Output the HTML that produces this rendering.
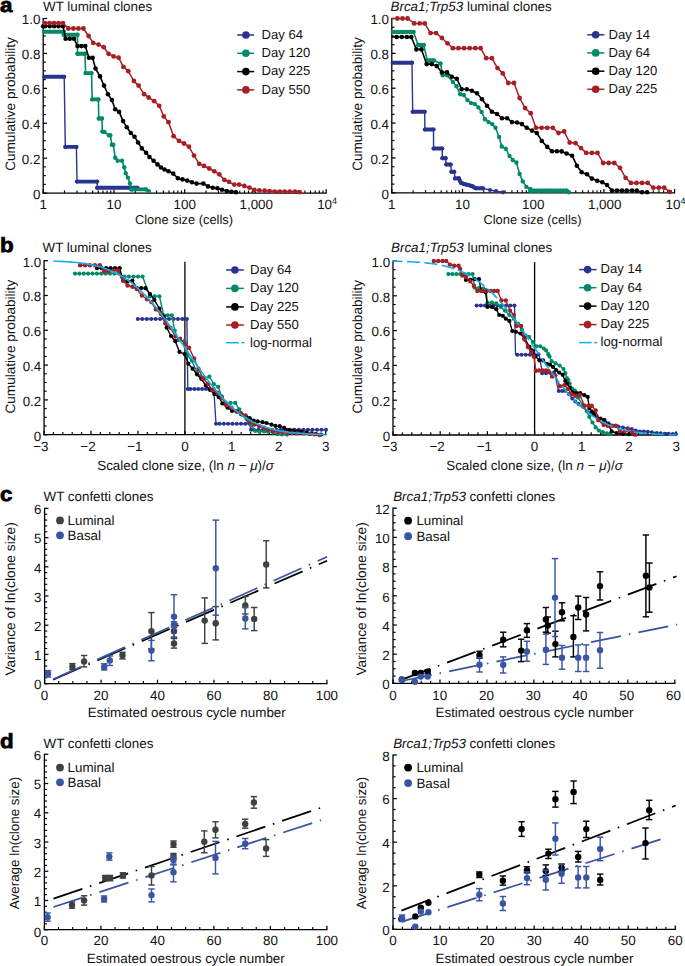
<!DOCTYPE html>
<html><head><meta charset="utf-8"><style>
html,body{margin:0;padding:0;background:#fff;}
svg{display:block;}
text{font-family:"Liberation Sans", sans-serif;text-rendering:geometricPrecision;}
</style></head><body>
<svg width="685" height="966" viewBox="0 0 685 966">
<rect width="685" height="966" fill="#fff"/>
<line x1="42.6" y1="193.1" x2="326.8" y2="193.1" stroke="#000" stroke-width="1.3" stroke-linecap="butt" />
<line x1="43.2" y1="193.1" x2="43.2" y2="189.25" stroke="#000" stroke-width="1.25" stroke-linecap="butt" />
<line x1="113.95" y1="193.1" x2="113.95" y2="189.25" stroke="#000" stroke-width="1.25" stroke-linecap="butt" />
<line x1="184.7" y1="193.1" x2="184.7" y2="189.25" stroke="#000" stroke-width="1.25" stroke-linecap="butt" />
<line x1="255.45" y1="193.1" x2="255.45" y2="189.25" stroke="#000" stroke-width="1.25" stroke-linecap="butt" />
<line x1="326.2" y1="193.1" x2="326.2" y2="189.25" stroke="#000" stroke-width="1.25" stroke-linecap="butt" />
<line x1="64.5" y1="193.1" x2="64.5" y2="190.45" stroke="#000" stroke-width="1.15" stroke-linecap="butt" />
<line x1="76.96" y1="193.1" x2="76.96" y2="190.45" stroke="#000" stroke-width="1.15" stroke-linecap="butt" />
<line x1="85.8" y1="193.1" x2="85.8" y2="190.45" stroke="#000" stroke-width="1.15" stroke-linecap="butt" />
<line x1="92.65" y1="193.1" x2="92.65" y2="190.45" stroke="#000" stroke-width="1.15" stroke-linecap="butt" />
<line x1="98.25" y1="193.1" x2="98.25" y2="190.45" stroke="#000" stroke-width="1.15" stroke-linecap="butt" />
<line x1="102.99" y1="193.1" x2="102.99" y2="190.45" stroke="#000" stroke-width="1.15" stroke-linecap="butt" />
<line x1="107.09" y1="193.1" x2="107.09" y2="190.45" stroke="#000" stroke-width="1.15" stroke-linecap="butt" />
<line x1="110.71" y1="193.1" x2="110.71" y2="190.45" stroke="#000" stroke-width="1.15" stroke-linecap="butt" />
<line x1="135.25" y1="193.1" x2="135.25" y2="190.45" stroke="#000" stroke-width="1.15" stroke-linecap="butt" />
<line x1="147.71" y1="193.1" x2="147.71" y2="190.45" stroke="#000" stroke-width="1.15" stroke-linecap="butt" />
<line x1="156.55" y1="193.1" x2="156.55" y2="190.45" stroke="#000" stroke-width="1.15" stroke-linecap="butt" />
<line x1="163.4" y1="193.1" x2="163.4" y2="190.45" stroke="#000" stroke-width="1.15" stroke-linecap="butt" />
<line x1="169" y1="193.1" x2="169" y2="190.45" stroke="#000" stroke-width="1.15" stroke-linecap="butt" />
<line x1="173.74" y1="193.1" x2="173.74" y2="190.45" stroke="#000" stroke-width="1.15" stroke-linecap="butt" />
<line x1="177.84" y1="193.1" x2="177.84" y2="190.45" stroke="#000" stroke-width="1.15" stroke-linecap="butt" />
<line x1="181.46" y1="193.1" x2="181.46" y2="190.45" stroke="#000" stroke-width="1.15" stroke-linecap="butt" />
<line x1="206" y1="193.1" x2="206" y2="190.45" stroke="#000" stroke-width="1.15" stroke-linecap="butt" />
<line x1="218.46" y1="193.1" x2="218.46" y2="190.45" stroke="#000" stroke-width="1.15" stroke-linecap="butt" />
<line x1="227.3" y1="193.1" x2="227.3" y2="190.45" stroke="#000" stroke-width="1.15" stroke-linecap="butt" />
<line x1="234.15" y1="193.1" x2="234.15" y2="190.45" stroke="#000" stroke-width="1.15" stroke-linecap="butt" />
<line x1="239.75" y1="193.1" x2="239.75" y2="190.45" stroke="#000" stroke-width="1.15" stroke-linecap="butt" />
<line x1="244.49" y1="193.1" x2="244.49" y2="190.45" stroke="#000" stroke-width="1.15" stroke-linecap="butt" />
<line x1="248.59" y1="193.1" x2="248.59" y2="190.45" stroke="#000" stroke-width="1.15" stroke-linecap="butt" />
<line x1="252.21" y1="193.1" x2="252.21" y2="190.45" stroke="#000" stroke-width="1.15" stroke-linecap="butt" />
<line x1="276.75" y1="193.1" x2="276.75" y2="190.45" stroke="#000" stroke-width="1.15" stroke-linecap="butt" />
<line x1="289.21" y1="193.1" x2="289.21" y2="190.45" stroke="#000" stroke-width="1.15" stroke-linecap="butt" />
<line x1="298.05" y1="193.1" x2="298.05" y2="190.45" stroke="#000" stroke-width="1.15" stroke-linecap="butt" />
<line x1="304.9" y1="193.1" x2="304.9" y2="190.45" stroke="#000" stroke-width="1.15" stroke-linecap="butt" />
<line x1="310.5" y1="193.1" x2="310.5" y2="190.45" stroke="#000" stroke-width="1.15" stroke-linecap="butt" />
<line x1="315.24" y1="193.1" x2="315.24" y2="190.45" stroke="#000" stroke-width="1.15" stroke-linecap="butt" />
<line x1="319.34" y1="193.1" x2="319.34" y2="190.45" stroke="#000" stroke-width="1.15" stroke-linecap="butt" />
<line x1="322.96" y1="193.1" x2="322.96" y2="190.45" stroke="#000" stroke-width="1.15" stroke-linecap="butt" />
<text x="43.2" y="209.1" font-size="13.4" text-anchor="middle" fill="#111">1</text>
<text x="113.95" y="209.1" font-size="13.4" text-anchor="middle" fill="#111">10</text>
<text x="184.7" y="209.1" font-size="13.4" text-anchor="middle" fill="#111">100</text>
<text x="256.25" y="209.1" font-size="13.4" text-anchor="middle" fill="#111">1,000</text>
<text x="327.1" y="209.1" font-size="13.4" text-anchor="middle" fill="#111">10<tspan font-size="9" dy="-5">4</tspan></text>
<line x1="43.2" y1="17.9" x2="43.2" y2="193.7" stroke="#000" stroke-width="1.3" stroke-linecap="butt" />
<line x1="43.2" y1="193.1" x2="47.05" y2="193.1" stroke="#000" stroke-width="1.25" stroke-linecap="butt" />
<line x1="43.2" y1="158.18" x2="47.05" y2="158.18" stroke="#000" stroke-width="1.25" stroke-linecap="butt" />
<line x1="43.2" y1="123.26" x2="47.05" y2="123.26" stroke="#000" stroke-width="1.25" stroke-linecap="butt" />
<line x1="43.2" y1="88.34" x2="47.05" y2="88.34" stroke="#000" stroke-width="1.25" stroke-linecap="butt" />
<line x1="43.2" y1="53.42" x2="47.05" y2="53.42" stroke="#000" stroke-width="1.25" stroke-linecap="butt" />
<line x1="43.2" y1="18.5" x2="47.05" y2="18.5" stroke="#000" stroke-width="1.25" stroke-linecap="butt" />
<line x1="43.2" y1="184.37" x2="45.85" y2="184.37" stroke="#000" stroke-width="1.15" stroke-linecap="butt" />
<line x1="43.2" y1="175.64" x2="45.85" y2="175.64" stroke="#000" stroke-width="1.15" stroke-linecap="butt" />
<line x1="43.2" y1="166.91" x2="45.85" y2="166.91" stroke="#000" stroke-width="1.15" stroke-linecap="butt" />
<line x1="43.2" y1="149.45" x2="45.85" y2="149.45" stroke="#000" stroke-width="1.15" stroke-linecap="butt" />
<line x1="43.2" y1="140.72" x2="45.85" y2="140.72" stroke="#000" stroke-width="1.15" stroke-linecap="butt" />
<line x1="43.2" y1="131.99" x2="45.85" y2="131.99" stroke="#000" stroke-width="1.15" stroke-linecap="butt" />
<line x1="43.2" y1="114.53" x2="45.85" y2="114.53" stroke="#000" stroke-width="1.15" stroke-linecap="butt" />
<line x1="43.2" y1="105.8" x2="45.85" y2="105.8" stroke="#000" stroke-width="1.15" stroke-linecap="butt" />
<line x1="43.2" y1="97.07" x2="45.85" y2="97.07" stroke="#000" stroke-width="1.15" stroke-linecap="butt" />
<line x1="43.2" y1="79.61" x2="45.85" y2="79.61" stroke="#000" stroke-width="1.15" stroke-linecap="butt" />
<line x1="43.2" y1="70.88" x2="45.85" y2="70.88" stroke="#000" stroke-width="1.15" stroke-linecap="butt" />
<line x1="43.2" y1="62.15" x2="45.85" y2="62.15" stroke="#000" stroke-width="1.15" stroke-linecap="butt" />
<line x1="43.2" y1="44.69" x2="45.85" y2="44.69" stroke="#000" stroke-width="1.15" stroke-linecap="butt" />
<line x1="43.2" y1="35.96" x2="45.85" y2="35.96" stroke="#000" stroke-width="1.15" stroke-linecap="butt" />
<line x1="43.2" y1="27.23" x2="45.85" y2="27.23" stroke="#000" stroke-width="1.15" stroke-linecap="butt" />
<text x="40.4" y="198.9" font-size="13.4" text-anchor="end" fill="#111">0</text>
<text x="40.4" y="163.98" font-size="13.4" text-anchor="end" fill="#111">0.2</text>
<text x="40.4" y="129.06" font-size="13.4" text-anchor="end" fill="#111">0.4</text>
<text x="40.4" y="94.14" font-size="13.4" text-anchor="end" fill="#111">0.6</text>
<text x="40.4" y="59.22" font-size="13.4" text-anchor="end" fill="#111">0.8</text>
<text x="40.4" y="24.3" font-size="13.4" text-anchor="end" fill="#111">1.0</text>
<line x1="391.2" y1="192.8" x2="675.2" y2="192.8" stroke="#000" stroke-width="1.3" stroke-linecap="butt" />
<line x1="391.8" y1="192.8" x2="391.8" y2="188.95" stroke="#000" stroke-width="1.25" stroke-linecap="butt" />
<line x1="462.5" y1="192.8" x2="462.5" y2="188.95" stroke="#000" stroke-width="1.25" stroke-linecap="butt" />
<line x1="533.2" y1="192.8" x2="533.2" y2="188.95" stroke="#000" stroke-width="1.25" stroke-linecap="butt" />
<line x1="603.9" y1="192.8" x2="603.9" y2="188.95" stroke="#000" stroke-width="1.25" stroke-linecap="butt" />
<line x1="674.6" y1="192.8" x2="674.6" y2="188.95" stroke="#000" stroke-width="1.25" stroke-linecap="butt" />
<line x1="413.08" y1="192.8" x2="413.08" y2="190.15" stroke="#000" stroke-width="1.15" stroke-linecap="butt" />
<line x1="425.53" y1="192.8" x2="425.53" y2="190.15" stroke="#000" stroke-width="1.15" stroke-linecap="butt" />
<line x1="434.37" y1="192.8" x2="434.37" y2="190.15" stroke="#000" stroke-width="1.15" stroke-linecap="butt" />
<line x1="441.22" y1="192.8" x2="441.22" y2="190.15" stroke="#000" stroke-width="1.15" stroke-linecap="butt" />
<line x1="446.82" y1="192.8" x2="446.82" y2="190.15" stroke="#000" stroke-width="1.15" stroke-linecap="butt" />
<line x1="451.55" y1="192.8" x2="451.55" y2="190.15" stroke="#000" stroke-width="1.15" stroke-linecap="butt" />
<line x1="455.65" y1="192.8" x2="455.65" y2="190.15" stroke="#000" stroke-width="1.15" stroke-linecap="butt" />
<line x1="459.26" y1="192.8" x2="459.26" y2="190.15" stroke="#000" stroke-width="1.15" stroke-linecap="butt" />
<line x1="483.78" y1="192.8" x2="483.78" y2="190.15" stroke="#000" stroke-width="1.15" stroke-linecap="butt" />
<line x1="496.23" y1="192.8" x2="496.23" y2="190.15" stroke="#000" stroke-width="1.15" stroke-linecap="butt" />
<line x1="505.07" y1="192.8" x2="505.07" y2="190.15" stroke="#000" stroke-width="1.15" stroke-linecap="butt" />
<line x1="511.92" y1="192.8" x2="511.92" y2="190.15" stroke="#000" stroke-width="1.15" stroke-linecap="butt" />
<line x1="517.52" y1="192.8" x2="517.52" y2="190.15" stroke="#000" stroke-width="1.15" stroke-linecap="butt" />
<line x1="522.25" y1="192.8" x2="522.25" y2="190.15" stroke="#000" stroke-width="1.15" stroke-linecap="butt" />
<line x1="526.35" y1="192.8" x2="526.35" y2="190.15" stroke="#000" stroke-width="1.15" stroke-linecap="butt" />
<line x1="529.96" y1="192.8" x2="529.96" y2="190.15" stroke="#000" stroke-width="1.15" stroke-linecap="butt" />
<line x1="554.48" y1="192.8" x2="554.48" y2="190.15" stroke="#000" stroke-width="1.15" stroke-linecap="butt" />
<line x1="566.93" y1="192.8" x2="566.93" y2="190.15" stroke="#000" stroke-width="1.15" stroke-linecap="butt" />
<line x1="575.77" y1="192.8" x2="575.77" y2="190.15" stroke="#000" stroke-width="1.15" stroke-linecap="butt" />
<line x1="582.62" y1="192.8" x2="582.62" y2="190.15" stroke="#000" stroke-width="1.15" stroke-linecap="butt" />
<line x1="588.22" y1="192.8" x2="588.22" y2="190.15" stroke="#000" stroke-width="1.15" stroke-linecap="butt" />
<line x1="592.95" y1="192.8" x2="592.95" y2="190.15" stroke="#000" stroke-width="1.15" stroke-linecap="butt" />
<line x1="597.05" y1="192.8" x2="597.05" y2="190.15" stroke="#000" stroke-width="1.15" stroke-linecap="butt" />
<line x1="600.66" y1="192.8" x2="600.66" y2="190.15" stroke="#000" stroke-width="1.15" stroke-linecap="butt" />
<line x1="625.18" y1="192.8" x2="625.18" y2="190.15" stroke="#000" stroke-width="1.15" stroke-linecap="butt" />
<line x1="637.63" y1="192.8" x2="637.63" y2="190.15" stroke="#000" stroke-width="1.15" stroke-linecap="butt" />
<line x1="646.47" y1="192.8" x2="646.47" y2="190.15" stroke="#000" stroke-width="1.15" stroke-linecap="butt" />
<line x1="653.32" y1="192.8" x2="653.32" y2="190.15" stroke="#000" stroke-width="1.15" stroke-linecap="butt" />
<line x1="658.92" y1="192.8" x2="658.92" y2="190.15" stroke="#000" stroke-width="1.15" stroke-linecap="butt" />
<line x1="663.65" y1="192.8" x2="663.65" y2="190.15" stroke="#000" stroke-width="1.15" stroke-linecap="butt" />
<line x1="667.75" y1="192.8" x2="667.75" y2="190.15" stroke="#000" stroke-width="1.15" stroke-linecap="butt" />
<line x1="671.36" y1="192.8" x2="671.36" y2="190.15" stroke="#000" stroke-width="1.15" stroke-linecap="butt" />
<text x="391.8" y="208.8" font-size="13.4" text-anchor="middle" fill="#111">1</text>
<text x="462.5" y="208.8" font-size="13.4" text-anchor="middle" fill="#111">10</text>
<text x="533.2" y="208.8" font-size="13.4" text-anchor="middle" fill="#111">100</text>
<text x="604.7" y="208.8" font-size="13.4" text-anchor="middle" fill="#111">1,000</text>
<text x="675.5" y="208.8" font-size="13.4" text-anchor="middle" fill="#111">10<tspan font-size="9" dy="-5">4</tspan></text>
<line x1="391.8" y1="17.9" x2="391.8" y2="193.4" stroke="#000" stroke-width="1.3" stroke-linecap="butt" />
<line x1="391.8" y1="192.8" x2="395.65" y2="192.8" stroke="#000" stroke-width="1.25" stroke-linecap="butt" />
<line x1="391.8" y1="157.94" x2="395.65" y2="157.94" stroke="#000" stroke-width="1.25" stroke-linecap="butt" />
<line x1="391.8" y1="123.08" x2="395.65" y2="123.08" stroke="#000" stroke-width="1.25" stroke-linecap="butt" />
<line x1="391.8" y1="88.22" x2="395.65" y2="88.22" stroke="#000" stroke-width="1.25" stroke-linecap="butt" />
<line x1="391.8" y1="53.36" x2="395.65" y2="53.36" stroke="#000" stroke-width="1.25" stroke-linecap="butt" />
<line x1="391.8" y1="18.5" x2="395.65" y2="18.5" stroke="#000" stroke-width="1.25" stroke-linecap="butt" />
<line x1="391.8" y1="184.09" x2="394.45" y2="184.09" stroke="#000" stroke-width="1.15" stroke-linecap="butt" />
<line x1="391.8" y1="175.37" x2="394.45" y2="175.37" stroke="#000" stroke-width="1.15" stroke-linecap="butt" />
<line x1="391.8" y1="166.66" x2="394.45" y2="166.66" stroke="#000" stroke-width="1.15" stroke-linecap="butt" />
<line x1="391.8" y1="149.23" x2="394.45" y2="149.23" stroke="#000" stroke-width="1.15" stroke-linecap="butt" />
<line x1="391.8" y1="140.51" x2="394.45" y2="140.51" stroke="#000" stroke-width="1.15" stroke-linecap="butt" />
<line x1="391.8" y1="131.8" x2="394.45" y2="131.8" stroke="#000" stroke-width="1.15" stroke-linecap="butt" />
<line x1="391.8" y1="114.37" x2="394.45" y2="114.37" stroke="#000" stroke-width="1.15" stroke-linecap="butt" />
<line x1="391.8" y1="105.65" x2="394.45" y2="105.65" stroke="#000" stroke-width="1.15" stroke-linecap="butt" />
<line x1="391.8" y1="96.94" x2="394.45" y2="96.94" stroke="#000" stroke-width="1.15" stroke-linecap="butt" />
<line x1="391.8" y1="79.5" x2="394.45" y2="79.5" stroke="#000" stroke-width="1.15" stroke-linecap="butt" />
<line x1="391.8" y1="70.79" x2="394.45" y2="70.79" stroke="#000" stroke-width="1.15" stroke-linecap="butt" />
<line x1="391.8" y1="62.07" x2="394.45" y2="62.07" stroke="#000" stroke-width="1.15" stroke-linecap="butt" />
<line x1="391.8" y1="44.64" x2="394.45" y2="44.64" stroke="#000" stroke-width="1.15" stroke-linecap="butt" />
<line x1="391.8" y1="35.93" x2="394.45" y2="35.93" stroke="#000" stroke-width="1.15" stroke-linecap="butt" />
<line x1="391.8" y1="27.21" x2="394.45" y2="27.21" stroke="#000" stroke-width="1.15" stroke-linecap="butt" />
<text x="389" y="198.6" font-size="13.4" text-anchor="end" fill="#111">0</text>
<text x="389" y="163.74" font-size="13.4" text-anchor="end" fill="#111">0.2</text>
<text x="389" y="128.88" font-size="13.4" text-anchor="end" fill="#111">0.4</text>
<text x="389" y="94.02" font-size="13.4" text-anchor="end" fill="#111">0.6</text>
<text x="389" y="59.16" font-size="13.4" text-anchor="end" fill="#111">0.8</text>
<text x="389" y="24.3" font-size="13.4" text-anchor="end" fill="#111">1.0</text>
<text transform="translate(0 11.6) scale(1.09 1)" x="0" y="0" font-size="20.5" font-weight="bold" stroke="#000" stroke-width="0.75" fill="#000">a</text>
<text x="43" y="11" font-size="13.4" fill="#111">WT luminal clones</text>
<text x="390.5" y="11" font-size="13.4" fill="#111"><tspan font-style="italic">Brca1;Trp53</tspan> luminal clones</text>
<text x="184" y="224" font-size="12.9" text-anchor="middle" fill="#111">Clone size (cells)</text>
<text x="532.5" y="224" font-size="12.9" text-anchor="middle" fill="#111">Clone size (cells)</text>
<text x="14.8" y="104" font-size="13.6" text-anchor="middle" transform="rotate(-90 14.8 104)" fill="#111">Cumulative probability</text>
<text x="362.2" y="104" font-size="13.6" text-anchor="middle" transform="rotate(-90 362.2 104)" fill="#111">Cumulative probability</text>
<polyline points="43.2,76.8 64.2,76.8 65.3,146.9 76.4,146.9 77,181.6 97.2,181.6 97.2,187.8 137.4,187.8" fill="none" stroke="#2a348f" stroke-width="1.4" stroke-linejoin="round" />
<line x1="44" y1="76.8" x2="64.2" y2="76.8" stroke="#2a348f" stroke-width="3.9" stroke-linecap="round" />
<line x1="65.3" y1="146.9" x2="76.4" y2="146.9" stroke="#2a348f" stroke-width="3.9" stroke-linecap="round" />
<line x1="77" y1="181.6" x2="97.2" y2="181.6" stroke="#2a348f" stroke-width="3.9" stroke-linecap="round" />
<line x1="97.2" y1="187.8" x2="137.4" y2="187.8" stroke="#2a348f" stroke-width="3.9" stroke-linecap="round" />
<circle cx="64.2" cy="76.8" r="2.1" fill="#2a348f"/>
<circle cx="65.3" cy="146.9" r="2.1" fill="#2a348f"/>
<circle cx="76.4" cy="146.9" r="2.1" fill="#2a348f"/>
<circle cx="77" cy="181.6" r="2.1" fill="#2a348f"/>
<circle cx="97.2" cy="181.6" r="2.1" fill="#2a348f"/>
<circle cx="97.2" cy="187.8" r="2.1" fill="#2a348f"/>
<circle cx="137.4" cy="187.8" r="2.1" fill="#2a348f"/>
<polyline points="43.2,31.8 63.7,31.8 63.7,34.7 77.5,34.7 77.5,53.8 85,53.8 85.6,73.1 91.5,73.1 92.2,99.4 98.4,99.4 98.8,118.5 102,118.5 102.3,131.6 104.5,132 108.9,135.2 110.3,135.2 111.8,144.7 113.3,144.7 115.2,157.8 117.7,160.8 122,160.8 124.2,167.3 125.7,173.2 127.9,177.6 130,183.4 131.5,189.2 131.5,189.4 146.1,189.4 148.8,191.2" fill="none" stroke="#008a68" stroke-width="1.6" stroke-linejoin="round" />
<line x1="44" y1="31.8" x2="63.7" y2="31.8" stroke="#008a68" stroke-width="3.9" stroke-linecap="round" />
<line x1="63.7" y1="34.7" x2="77.5" y2="34.7" stroke="#008a68" stroke-width="3.9" stroke-linecap="round" />
<line x1="77.5" y1="53.8" x2="85" y2="53.8" stroke="#008a68" stroke-width="3.9" stroke-linecap="round" />
<line x1="85.6" y1="73.1" x2="91.5" y2="73.1" stroke="#008a68" stroke-width="3.9" stroke-linecap="round" />
<line x1="92.2" y1="99.4" x2="98.4" y2="99.4" stroke="#008a68" stroke-width="3.9" stroke-linecap="round" />
<line x1="98.8" y1="118.5" x2="102" y2="118.5" stroke="#008a68" stroke-width="3.9" stroke-linecap="round" />
<line x1="131.5" y1="189.4" x2="146.1" y2="189.4" stroke="#008a68" stroke-width="3.9" stroke-linecap="round" />
<circle cx="63.7" cy="31.8" r="2.2" fill="#008a68"/>
<circle cx="63.7" cy="34.7" r="2.2" fill="#008a68"/>
<circle cx="77.5" cy="34.7" r="2.2" fill="#008a68"/>
<circle cx="77.5" cy="53.8" r="2.2" fill="#008a68"/>
<circle cx="85" cy="53.8" r="2.2" fill="#008a68"/>
<circle cx="85.6" cy="73.1" r="2.2" fill="#008a68"/>
<circle cx="91.5" cy="73.1" r="2.2" fill="#008a68"/>
<circle cx="92.2" cy="99.4" r="2.2" fill="#008a68"/>
<circle cx="98.4" cy="99.4" r="2.2" fill="#008a68"/>
<circle cx="98.8" cy="118.5" r="2.2" fill="#008a68"/>
<circle cx="102" cy="118.5" r="2.2" fill="#008a68"/>
<circle cx="102.3" cy="131.6" r="2.2" fill="#008a68"/>
<circle cx="104.5" cy="132" r="2.2" fill="#008a68"/>
<circle cx="108.9" cy="135.2" r="2.2" fill="#008a68"/>
<circle cx="110.3" cy="135.2" r="2.2" fill="#008a68"/>
<circle cx="111.8" cy="144.7" r="2.2" fill="#008a68"/>
<circle cx="113.3" cy="144.7" r="2.2" fill="#008a68"/>
<circle cx="115.2" cy="157.8" r="2.2" fill="#008a68"/>
<circle cx="117.7" cy="160.8" r="2.2" fill="#008a68"/>
<circle cx="122" cy="160.8" r="2.2" fill="#008a68"/>
<circle cx="124.2" cy="167.3" r="2.2" fill="#008a68"/>
<circle cx="125.7" cy="173.2" r="2.2" fill="#008a68"/>
<circle cx="127.9" cy="177.6" r="2.2" fill="#008a68"/>
<circle cx="130" cy="183.4" r="2.2" fill="#008a68"/>
<circle cx="131.5" cy="189.2" r="2.2" fill="#008a68"/>
<circle cx="131.5" cy="189.4" r="2.2" fill="#008a68"/>
<circle cx="146.1" cy="189.4" r="2.2" fill="#008a68"/>
<circle cx="148.8" cy="191.2" r="2.2" fill="#008a68"/>
<polyline points="43.2,26.2 45.3,26.2 49.72,26.2 54.15,26.2 58.58,26.2 63,26.2 65.6,38.7 69.8,38.7 74,38.7 77.5,46.1 81.4,46.1 85.3,46.1 88.9,57.7 92.6,57.7 95.5,68.5 100,76.4 104,85.6 108,94.2 111.9,100.1 115.2,109.3 119.1,111.9 123.1,121.1 126.8,127.3 130.8,133 134.5,136.7 138.1,142.5 141.8,148.4 146.1,152.7 149.5,157 153.6,160.8 157.5,164.4 161,167.5 164.5,169.5 168.5,171.3 173.2,173.6 177.9,178.3 182.5,179.4 187.2,180.6 191.9,182.2 196.5,183.6 203.4,183.6 208,186.4 212.7,187.8 217.4,188.3 222,189.7 226.7,191.1 231.4,191.8 236,192.3" fill="none" stroke="#000" stroke-width="1.6" stroke-linejoin="round" />
<circle cx="43.2" cy="26.2" r="2.3" fill="#000"/>
<circle cx="45.3" cy="26.2" r="2.3" fill="#000"/>
<circle cx="49.72" cy="26.2" r="2.3" fill="#000"/>
<circle cx="54.15" cy="26.2" r="2.3" fill="#000"/>
<circle cx="58.58" cy="26.2" r="2.3" fill="#000"/>
<circle cx="63" cy="26.2" r="2.3" fill="#000"/>
<circle cx="65.6" cy="38.7" r="2.3" fill="#000"/>
<circle cx="69.8" cy="38.7" r="2.3" fill="#000"/>
<circle cx="74" cy="38.7" r="2.3" fill="#000"/>
<circle cx="77.5" cy="46.1" r="2.3" fill="#000"/>
<circle cx="81.4" cy="46.1" r="2.3" fill="#000"/>
<circle cx="85.3" cy="46.1" r="2.3" fill="#000"/>
<circle cx="88.9" cy="57.7" r="2.3" fill="#000"/>
<circle cx="92.6" cy="57.7" r="2.3" fill="#000"/>
<circle cx="95.5" cy="68.5" r="2.3" fill="#000"/>
<circle cx="100" cy="76.4" r="2.3" fill="#000"/>
<circle cx="104" cy="85.6" r="2.3" fill="#000"/>
<circle cx="108" cy="94.2" r="2.3" fill="#000"/>
<circle cx="111.9" cy="100.1" r="2.3" fill="#000"/>
<circle cx="115.2" cy="109.3" r="2.3" fill="#000"/>
<circle cx="119.1" cy="111.9" r="2.3" fill="#000"/>
<circle cx="123.1" cy="121.1" r="2.3" fill="#000"/>
<circle cx="126.8" cy="127.3" r="2.3" fill="#000"/>
<circle cx="130.8" cy="133" r="2.3" fill="#000"/>
<circle cx="134.5" cy="136.7" r="2.3" fill="#000"/>
<circle cx="138.1" cy="142.5" r="2.3" fill="#000"/>
<circle cx="141.8" cy="148.4" r="2.3" fill="#000"/>
<circle cx="146.1" cy="152.7" r="2.3" fill="#000"/>
<circle cx="149.5" cy="157" r="2.3" fill="#000"/>
<circle cx="153.6" cy="160.8" r="2.3" fill="#000"/>
<circle cx="157.5" cy="164.4" r="2.3" fill="#000"/>
<circle cx="161" cy="167.5" r="2.3" fill="#000"/>
<circle cx="164.5" cy="169.5" r="2.3" fill="#000"/>
<circle cx="168.5" cy="171.3" r="2.3" fill="#000"/>
<circle cx="173.2" cy="173.6" r="2.3" fill="#000"/>
<circle cx="177.9" cy="178.3" r="2.3" fill="#000"/>
<circle cx="182.5" cy="179.4" r="2.3" fill="#000"/>
<circle cx="187.2" cy="180.6" r="2.3" fill="#000"/>
<circle cx="191.9" cy="182.2" r="2.3" fill="#000"/>
<circle cx="196.5" cy="183.6" r="2.3" fill="#000"/>
<circle cx="203.4" cy="183.6" r="2.3" fill="#000"/>
<circle cx="208" cy="186.4" r="2.3" fill="#000"/>
<circle cx="212.7" cy="187.8" r="2.3" fill="#000"/>
<circle cx="217.4" cy="188.3" r="2.3" fill="#000"/>
<circle cx="222" cy="189.7" r="2.3" fill="#000"/>
<circle cx="226.7" cy="191.1" r="2.3" fill="#000"/>
<circle cx="231.4" cy="191.8" r="2.3" fill="#000"/>
<circle cx="236" cy="192.3" r="2.3" fill="#000"/>
<polyline points="43.2,23.1 45,23.1 49.5,23.1 54,23.1 58.5,23.1 63,23.1 68.3,28.5 73.33,28.5 78.37,28.5 83.4,28.5 88.6,36 93.2,42.9 98.5,44.6 103.7,47.2 108.6,53.8 113.6,56.4 118.6,57.7 123.4,66.9 128.3,71.2 133.9,81 138.6,85.6 144.1,94.2 148.6,97.5 154.2,101.2 159.2,105.8 163.8,116.4 168.5,122.2 173.6,136.2 179,140.9 184,143.5 188.9,146.7 194,155.6 199.2,163.8 204,165.9 209.2,168.5 214.3,171.3 219.3,174.3 224.4,179.9 229,181.8 234.2,184.6 239.1,184.6 244.3,186 249.4,187.6 254.3,190 259.4,190.4 264.6,190.7 269.5,191.1 274.6,191.6 279.8,191.6 284.7,191.6 289.8,191.6 295,191.6 299.6,192.2" fill="none" stroke="#a71e24" stroke-width="1.5" stroke-linejoin="round" />
<circle cx="45" cy="23.1" r="2.4" fill="#a71e24"/>
<circle cx="49.5" cy="23.1" r="2.4" fill="#a71e24"/>
<circle cx="54" cy="23.1" r="2.4" fill="#a71e24"/>
<circle cx="58.5" cy="23.1" r="2.4" fill="#a71e24"/>
<circle cx="63" cy="23.1" r="2.4" fill="#a71e24"/>
<circle cx="68.3" cy="28.5" r="2.4" fill="#a71e24"/>
<circle cx="73.33" cy="28.5" r="2.4" fill="#a71e24"/>
<circle cx="78.37" cy="28.5" r="2.4" fill="#a71e24"/>
<circle cx="83.4" cy="28.5" r="2.4" fill="#a71e24"/>
<circle cx="88.6" cy="36" r="2.4" fill="#a71e24"/>
<circle cx="93.2" cy="42.9" r="2.4" fill="#a71e24"/>
<circle cx="98.5" cy="44.6" r="2.4" fill="#a71e24"/>
<circle cx="103.7" cy="47.2" r="2.4" fill="#a71e24"/>
<circle cx="108.6" cy="53.8" r="2.4" fill="#a71e24"/>
<circle cx="113.6" cy="56.4" r="2.4" fill="#a71e24"/>
<circle cx="118.6" cy="57.7" r="2.4" fill="#a71e24"/>
<circle cx="123.4" cy="66.9" r="2.4" fill="#a71e24"/>
<circle cx="128.3" cy="71.2" r="2.4" fill="#a71e24"/>
<circle cx="133.9" cy="81" r="2.4" fill="#a71e24"/>
<circle cx="138.6" cy="85.6" r="2.4" fill="#a71e24"/>
<circle cx="144.1" cy="94.2" r="2.4" fill="#a71e24"/>
<circle cx="148.6" cy="97.5" r="2.4" fill="#a71e24"/>
<circle cx="154.2" cy="101.2" r="2.4" fill="#a71e24"/>
<circle cx="159.2" cy="105.8" r="2.4" fill="#a71e24"/>
<circle cx="163.8" cy="116.4" r="2.4" fill="#a71e24"/>
<circle cx="168.5" cy="122.2" r="2.4" fill="#a71e24"/>
<circle cx="173.6" cy="136.2" r="2.4" fill="#a71e24"/>
<circle cx="179" cy="140.9" r="2.4" fill="#a71e24"/>
<circle cx="184" cy="143.5" r="2.4" fill="#a71e24"/>
<circle cx="188.9" cy="146.7" r="2.4" fill="#a71e24"/>
<circle cx="194" cy="155.6" r="2.4" fill="#a71e24"/>
<circle cx="199.2" cy="163.8" r="2.4" fill="#a71e24"/>
<circle cx="204" cy="165.9" r="2.4" fill="#a71e24"/>
<circle cx="209.2" cy="168.5" r="2.4" fill="#a71e24"/>
<circle cx="214.3" cy="171.3" r="2.4" fill="#a71e24"/>
<circle cx="219.3" cy="174.3" r="2.4" fill="#a71e24"/>
<circle cx="224.4" cy="179.9" r="2.4" fill="#a71e24"/>
<circle cx="229" cy="181.8" r="2.4" fill="#a71e24"/>
<circle cx="234.2" cy="184.6" r="2.4" fill="#a71e24"/>
<circle cx="239.1" cy="184.6" r="2.4" fill="#a71e24"/>
<circle cx="244.3" cy="186" r="2.4" fill="#a71e24"/>
<circle cx="249.4" cy="187.6" r="2.4" fill="#a71e24"/>
<circle cx="254.3" cy="190" r="2.4" fill="#a71e24"/>
<circle cx="259.4" cy="190.4" r="2.4" fill="#a71e24"/>
<circle cx="264.6" cy="190.7" r="2.4" fill="#a71e24"/>
<circle cx="269.5" cy="191.1" r="2.4" fill="#a71e24"/>
<circle cx="274.6" cy="191.6" r="2.4" fill="#a71e24"/>
<circle cx="279.8" cy="191.6" r="2.4" fill="#a71e24"/>
<circle cx="284.7" cy="191.6" r="2.4" fill="#a71e24"/>
<circle cx="289.8" cy="191.6" r="2.4" fill="#a71e24"/>
<circle cx="295" cy="191.6" r="2.4" fill="#a71e24"/>
<circle cx="299.6" cy="192.2" r="2.4" fill="#a71e24"/>
<line x1="237.2" y1="35" x2="254.2" y2="35" stroke="#2a348f" stroke-width="1.5" stroke-linecap="butt" />
<circle cx="245.9" cy="35" r="3.8" fill="#2a348f"/>
<text x="261.6" y="38.8" font-size="13.1" fill="#111">Day 64</text>
<line x1="237.2" y1="53.3" x2="254.2" y2="53.3" stroke="#008a68" stroke-width="1.5" stroke-linecap="butt" />
<circle cx="245.9" cy="53.3" r="3.8" fill="#008a68"/>
<text x="261.6" y="57.1" font-size="13.1" fill="#111">Day 120</text>
<line x1="237.2" y1="71.6" x2="254.2" y2="71.6" stroke="#000" stroke-width="1.5" stroke-linecap="butt" />
<circle cx="245.9" cy="71.6" r="3.8" fill="#000"/>
<text x="261.6" y="75.4" font-size="13.1" fill="#111">Day 225</text>
<line x1="237.2" y1="89.9" x2="254.2" y2="89.9" stroke="#a71e24" stroke-width="1.5" stroke-linecap="butt" />
<circle cx="245.9" cy="89.9" r="3.8" fill="#a71e24"/>
<text x="261.6" y="93.7" font-size="13.1" fill="#111">Day 550</text>
<line x1="587.3" y1="34.8" x2="604.4" y2="34.8" stroke="#2a348f" stroke-width="1.5" stroke-linecap="butt" />
<circle cx="595.7" cy="34.8" r="3.8" fill="#2a348f"/>
<text x="608.5" y="38.6" font-size="13.1" fill="#111">Day 14</text>
<line x1="587.3" y1="52.9" x2="604.4" y2="52.9" stroke="#008a68" stroke-width="1.5" stroke-linecap="butt" />
<circle cx="595.7" cy="52.9" r="3.8" fill="#008a68"/>
<text x="608.5" y="56.7" font-size="13.1" fill="#111">Day 64</text>
<line x1="587.3" y1="71.2" x2="604.4" y2="71.2" stroke="#000" stroke-width="1.5" stroke-linecap="butt" />
<circle cx="595.7" cy="71.2" r="3.8" fill="#000"/>
<text x="608.5" y="75" font-size="13.1" fill="#111">Day 120</text>
<line x1="587.3" y1="89.3" x2="604.4" y2="89.3" stroke="#a71e24" stroke-width="1.5" stroke-linecap="butt" />
<circle cx="595.7" cy="89.3" r="3.8" fill="#a71e24"/>
<text x="608.5" y="93.1" font-size="13.1" fill="#111">Day 225</text>
<polyline points="391.8,62.7 412,62.7 412.7,111.8 424.7,111.8 424.9,129.5 433.5,129.5 433.6,148.5 442.2,148.5 442.4,158.2 445.6,158.2 446.3,164.5 450.7,164.5 451.4,171.8 454.3,171.8 455,178.4 458.7,178.4 460.9,182.8 463.8,184 468.2,185 472.6,186.4 475.5,188.2 483,188.4 490,190 496,191.2 503,192.3" fill="none" stroke="#2a348f" stroke-width="1.4" stroke-linejoin="round" />
<line x1="392.5" y1="62.7" x2="412" y2="62.7" stroke="#2a348f" stroke-width="3.9" stroke-linecap="round" />
<line x1="412.7" y1="111.8" x2="424.7" y2="111.8" stroke="#2a348f" stroke-width="3.9" stroke-linecap="round" />
<line x1="424.9" y1="129.5" x2="433.5" y2="129.5" stroke="#2a348f" stroke-width="3.9" stroke-linecap="round" />
<line x1="433.6" y1="148.5" x2="442.2" y2="148.5" stroke="#2a348f" stroke-width="3.9" stroke-linecap="round" />
<line x1="442.4" y1="158.2" x2="445.6" y2="158.2" stroke="#2a348f" stroke-width="3.9" stroke-linecap="round" />
<line x1="446.3" y1="164.5" x2="450.7" y2="164.5" stroke="#2a348f" stroke-width="3.9" stroke-linecap="round" />
<line x1="451.4" y1="171.8" x2="454.3" y2="171.8" stroke="#2a348f" stroke-width="3.9" stroke-linecap="round" />
<line x1="455" y1="178.4" x2="458.7" y2="178.4" stroke="#2a348f" stroke-width="3.9" stroke-linecap="round" />
<line x1="475.5" y1="188.3" x2="483" y2="188.3" stroke="#2a348f" stroke-width="3.9" stroke-linecap="round" />
<circle cx="412" cy="62.7" r="2.1" fill="#2a348f"/>
<circle cx="412.7" cy="111.8" r="2.1" fill="#2a348f"/>
<circle cx="424.7" cy="111.8" r="2.1" fill="#2a348f"/>
<circle cx="424.9" cy="129.5" r="2.1" fill="#2a348f"/>
<circle cx="433.5" cy="129.5" r="2.1" fill="#2a348f"/>
<circle cx="433.6" cy="148.5" r="2.1" fill="#2a348f"/>
<circle cx="442.2" cy="148.5" r="2.1" fill="#2a348f"/>
<circle cx="442.4" cy="158.2" r="2.1" fill="#2a348f"/>
<circle cx="445.6" cy="158.2" r="2.1" fill="#2a348f"/>
<circle cx="446.3" cy="164.5" r="2.1" fill="#2a348f"/>
<circle cx="450.7" cy="164.5" r="2.1" fill="#2a348f"/>
<circle cx="451.4" cy="171.8" r="2.1" fill="#2a348f"/>
<circle cx="454.3" cy="171.8" r="2.1" fill="#2a348f"/>
<circle cx="455" cy="178.4" r="2.1" fill="#2a348f"/>
<circle cx="458.7" cy="178.4" r="2.1" fill="#2a348f"/>
<circle cx="460.9" cy="182.8" r="2.1" fill="#2a348f"/>
<circle cx="463.8" cy="184" r="2.1" fill="#2a348f"/>
<circle cx="468.2" cy="185" r="2.1" fill="#2a348f"/>
<circle cx="472.6" cy="186.4" r="2.1" fill="#2a348f"/>
<circle cx="475.5" cy="188.2" r="2.1" fill="#2a348f"/>
<circle cx="483" cy="188.4" r="2.1" fill="#2a348f"/>
<circle cx="490" cy="190" r="2.1" fill="#2a348f"/>
<circle cx="496" cy="191.2" r="2.1" fill="#2a348f"/>
<circle cx="503" cy="192.3" r="2.1" fill="#2a348f"/>
<circle cx="458.7" cy="178.4" r="2.1" fill="#2a348f"/>
<circle cx="459.43" cy="179.87" r="2.1" fill="#2a348f"/>
<circle cx="460.17" cy="181.33" r="2.1" fill="#2a348f"/>
<circle cx="460.9" cy="182.8" r="2.1" fill="#2a348f"/>
<circle cx="462.35" cy="183.4" r="2.1" fill="#2a348f"/>
<circle cx="463.8" cy="184" r="2.1" fill="#2a348f"/>
<circle cx="465.27" cy="184.33" r="2.1" fill="#2a348f"/>
<circle cx="466.73" cy="184.67" r="2.1" fill="#2a348f"/>
<circle cx="468.2" cy="185" r="2.1" fill="#2a348f"/>
<circle cx="469.67" cy="185.47" r="2.1" fill="#2a348f"/>
<circle cx="471.13" cy="185.93" r="2.1" fill="#2a348f"/>
<circle cx="472.6" cy="186.4" r="2.1" fill="#2a348f"/>
<circle cx="474.05" cy="187.3" r="2.1" fill="#2a348f"/>
<circle cx="475.5" cy="188.2" r="2.1" fill="#2a348f"/>
<polyline points="391.8,31.9 413.5,31.9 418.2,45 423.7,45 427.3,60.5 433.9,60.5 440.5,63.5 442.7,75.3 447,75.3 452.9,81.9 456.5,86.3 460.2,94.3 463.8,95 467.5,100.1 471.1,103.1 474.8,104.1 478.4,107.4 481.6,112 485,119.3 488.6,122.1 492.3,124.1 495.5,127.8 499.1,137 501.8,146.5 505.8,148.8 509.5,156 512.7,160 516.4,162.5 519.6,174 522.8,181.4 526.4,186.9 530.4,189 530.4,190.6 566.5,190.6 568.9,192.2" fill="none" stroke="#008a68" stroke-width="1.6" stroke-linejoin="round" />
<line x1="392.5" y1="31.9" x2="413.5" y2="31.9" stroke="#008a68" stroke-width="3.9" stroke-linecap="round" />
<line x1="418.2" y1="45" x2="423.7" y2="45" stroke="#008a68" stroke-width="3.9" stroke-linecap="round" />
<line x1="427.3" y1="60.5" x2="433.9" y2="60.5" stroke="#008a68" stroke-width="3.9" stroke-linecap="round" />
<line x1="530.4" y1="190.6" x2="566.5" y2="190.6" stroke="#008a68" stroke-width="3.9" stroke-linecap="round" />
<circle cx="395" cy="31.9" r="2.2" fill="#008a68"/>
<circle cx="398.7" cy="31.9" r="2.2" fill="#008a68"/>
<circle cx="402.4" cy="31.9" r="2.2" fill="#008a68"/>
<circle cx="406.1" cy="31.9" r="2.2" fill="#008a68"/>
<circle cx="409.8" cy="31.9" r="2.2" fill="#008a68"/>
<circle cx="413.5" cy="31.9" r="2.2" fill="#008a68"/>
<circle cx="418.2" cy="45" r="2.2" fill="#008a68"/>
<circle cx="420.95" cy="45" r="2.2" fill="#008a68"/>
<circle cx="423.7" cy="45" r="2.2" fill="#008a68"/>
<circle cx="427.3" cy="60.5" r="2.2" fill="#008a68"/>
<circle cx="430.6" cy="60.5" r="2.2" fill="#008a68"/>
<circle cx="433.9" cy="60.5" r="2.2" fill="#008a68"/>
<circle cx="440.5" cy="63.5" r="2.2" fill="#008a68"/>
<circle cx="442.7" cy="75.3" r="2.2" fill="#008a68"/>
<circle cx="447" cy="75.3" r="2.2" fill="#008a68"/>
<circle cx="452.9" cy="81.9" r="2.2" fill="#008a68"/>
<circle cx="456.5" cy="86.3" r="2.2" fill="#008a68"/>
<circle cx="460.2" cy="94.3" r="2.2" fill="#008a68"/>
<circle cx="463.8" cy="95" r="2.2" fill="#008a68"/>
<circle cx="467.5" cy="100.1" r="2.2" fill="#008a68"/>
<circle cx="471.1" cy="103.1" r="2.2" fill="#008a68"/>
<circle cx="474.8" cy="104.1" r="2.2" fill="#008a68"/>
<circle cx="478.4" cy="107.4" r="2.2" fill="#008a68"/>
<circle cx="481.6" cy="112" r="2.2" fill="#008a68"/>
<circle cx="485" cy="119.3" r="2.2" fill="#008a68"/>
<circle cx="488.6" cy="122.1" r="2.2" fill="#008a68"/>
<circle cx="492.3" cy="124.1" r="2.2" fill="#008a68"/>
<circle cx="495.5" cy="127.8" r="2.2" fill="#008a68"/>
<circle cx="499.1" cy="137" r="2.2" fill="#008a68"/>
<circle cx="501.8" cy="146.5" r="2.2" fill="#008a68"/>
<circle cx="505.8" cy="148.8" r="2.2" fill="#008a68"/>
<circle cx="509.5" cy="156" r="2.2" fill="#008a68"/>
<circle cx="512.7" cy="160" r="2.2" fill="#008a68"/>
<circle cx="516.4" cy="162.5" r="2.2" fill="#008a68"/>
<circle cx="519.6" cy="174" r="2.2" fill="#008a68"/>
<circle cx="522.8" cy="181.4" r="2.2" fill="#008a68"/>
<circle cx="526.4" cy="186.9" r="2.2" fill="#008a68"/>
<circle cx="530.4" cy="189" r="2.2" fill="#008a68"/>
<circle cx="530.4" cy="190.6" r="2.2" fill="#008a68"/>
<circle cx="566.5" cy="190.6" r="2.2" fill="#008a68"/>
<circle cx="568.9" cy="192.2" r="2.2" fill="#008a68"/>
<circle cx="530.4" cy="190.6" r="2.2" fill="#008a68"/>
<circle cx="533.41" cy="190.6" r="2.2" fill="#008a68"/>
<circle cx="536.42" cy="190.6" r="2.2" fill="#008a68"/>
<circle cx="539.42" cy="190.6" r="2.2" fill="#008a68"/>
<circle cx="542.43" cy="190.6" r="2.2" fill="#008a68"/>
<circle cx="545.44" cy="190.6" r="2.2" fill="#008a68"/>
<circle cx="548.45" cy="190.6" r="2.2" fill="#008a68"/>
<circle cx="551.46" cy="190.6" r="2.2" fill="#008a68"/>
<circle cx="554.47" cy="190.6" r="2.2" fill="#008a68"/>
<circle cx="557.48" cy="190.6" r="2.2" fill="#008a68"/>
<circle cx="560.48" cy="190.6" r="2.2" fill="#008a68"/>
<circle cx="563.49" cy="190.6" r="2.2" fill="#008a68"/>
<circle cx="566.5" cy="190.6" r="2.2" fill="#008a68"/>
<polyline points="391.8,37 396.7,37 401.8,37 406.9,37 411.3,37 416.4,49.4 421.5,49.4 426.6,64.1 431.7,64.1 436.8,66.1 441.9,72.4 447,72.4 451.9,76.8 456.8,78.7 461.6,89.2 466.8,89.2 471.9,90.7 477,93.3 482,99.2 487,105.7 491.9,111.8 497,114 502,118.2 507.1,118.2 511.9,122.1 517.1,122.5 521.9,124.1 526.7,127.8 532,130.6 536.8,133 541.8,141 547.2,146.9 552,151.3 556.9,151.3 561.7,151.4 566.6,153.5 572.1,155.7 576.9,165.7 581.7,172.2 587,174.3 591.9,178.6 597.2,180.7 602.3,182.3 607,185 611.9,190.6 617,190.6 622,190.6 626.8,190.6 632,190.6 636.8,190.6 642.1,192.2 647.2,192.2" fill="none" stroke="#000" stroke-width="1.6" stroke-linejoin="round" />
<circle cx="396.7" cy="37" r="2.3" fill="#000"/>
<circle cx="401.8" cy="37" r="2.3" fill="#000"/>
<circle cx="406.9" cy="37" r="2.3" fill="#000"/>
<circle cx="411.3" cy="37" r="2.3" fill="#000"/>
<circle cx="416.4" cy="49.4" r="2.3" fill="#000"/>
<circle cx="421.5" cy="49.4" r="2.3" fill="#000"/>
<circle cx="426.6" cy="64.1" r="2.3" fill="#000"/>
<circle cx="431.7" cy="64.1" r="2.3" fill="#000"/>
<circle cx="436.8" cy="66.1" r="2.3" fill="#000"/>
<circle cx="441.9" cy="72.4" r="2.3" fill="#000"/>
<circle cx="447" cy="72.4" r="2.3" fill="#000"/>
<circle cx="451.9" cy="76.8" r="2.3" fill="#000"/>
<circle cx="456.8" cy="78.7" r="2.3" fill="#000"/>
<circle cx="461.6" cy="89.2" r="2.3" fill="#000"/>
<circle cx="466.8" cy="89.2" r="2.3" fill="#000"/>
<circle cx="471.9" cy="90.7" r="2.3" fill="#000"/>
<circle cx="477" cy="93.3" r="2.3" fill="#000"/>
<circle cx="482" cy="99.2" r="2.3" fill="#000"/>
<circle cx="487" cy="105.7" r="2.3" fill="#000"/>
<circle cx="491.9" cy="111.8" r="2.3" fill="#000"/>
<circle cx="497" cy="114" r="2.3" fill="#000"/>
<circle cx="502" cy="118.2" r="2.3" fill="#000"/>
<circle cx="507.1" cy="118.2" r="2.3" fill="#000"/>
<circle cx="511.9" cy="122.1" r="2.3" fill="#000"/>
<circle cx="517.1" cy="122.5" r="2.3" fill="#000"/>
<circle cx="521.9" cy="124.1" r="2.3" fill="#000"/>
<circle cx="526.7" cy="127.8" r="2.3" fill="#000"/>
<circle cx="532" cy="130.6" r="2.3" fill="#000"/>
<circle cx="536.8" cy="133" r="2.3" fill="#000"/>
<circle cx="541.8" cy="141" r="2.3" fill="#000"/>
<circle cx="547.2" cy="146.9" r="2.3" fill="#000"/>
<circle cx="552" cy="151.3" r="2.3" fill="#000"/>
<circle cx="556.9" cy="151.3" r="2.3" fill="#000"/>
<circle cx="561.7" cy="151.4" r="2.3" fill="#000"/>
<circle cx="566.6" cy="153.5" r="2.3" fill="#000"/>
<circle cx="572.1" cy="155.7" r="2.3" fill="#000"/>
<circle cx="576.9" cy="165.7" r="2.3" fill="#000"/>
<circle cx="581.7" cy="172.2" r="2.3" fill="#000"/>
<circle cx="587" cy="174.3" r="2.3" fill="#000"/>
<circle cx="591.9" cy="178.6" r="2.3" fill="#000"/>
<circle cx="597.2" cy="180.7" r="2.3" fill="#000"/>
<circle cx="602.3" cy="182.3" r="2.3" fill="#000"/>
<circle cx="607" cy="185" r="2.3" fill="#000"/>
<circle cx="611.9" cy="190.6" r="2.3" fill="#000"/>
<circle cx="617" cy="190.6" r="2.3" fill="#000"/>
<circle cx="622" cy="190.6" r="2.3" fill="#000"/>
<circle cx="626.8" cy="190.6" r="2.3" fill="#000"/>
<circle cx="632" cy="190.6" r="2.3" fill="#000"/>
<circle cx="636.8" cy="190.6" r="2.3" fill="#000"/>
<circle cx="642.1" cy="192.2" r="2.3" fill="#000"/>
<circle cx="647.2" cy="192.2" r="2.3" fill="#000"/>
<polyline points="391.8,18.5 397.4,18.5 402.5,18.5 407.6,18.5 414.2,23.4 419.7,23.4 424.7,23.4 430.5,33.1 436.1,33.1 441.9,38 447.5,43.3 452.9,48.2 458.4,48.2 464,48.2 469.7,48.2 475.3,48.2 480.6,48.2 486.2,58.2 491.9,58.2 497.5,68.1 502.8,73.4 508.2,83 514,83 519.6,98 525.1,108.1 530.7,113.2 536,127.8 541.6,127.8 547.2,127.8 552.8,127.8 558.5,133 564.1,131.5 569.7,142.6 575.5,143.2 581,148.1 586.2,152.9 591.9,152.9 597.5,152.9 603.1,163 608.7,163 614.3,163 620,167.8 625.6,177.8 630.9,182.9 636.5,182.9 642.1,182.9 647.7,182.9 653.3,187.7 658.8,187.7 664.2,187.7 669.7,191.9" fill="none" stroke="#a71e24" stroke-width="1.5" stroke-linejoin="round" />
<circle cx="397.4" cy="18.5" r="2.4" fill="#a71e24"/>
<circle cx="402.5" cy="18.5" r="2.4" fill="#a71e24"/>
<circle cx="407.6" cy="18.5" r="2.4" fill="#a71e24"/>
<circle cx="414.2" cy="23.4" r="2.4" fill="#a71e24"/>
<circle cx="419.7" cy="23.4" r="2.4" fill="#a71e24"/>
<circle cx="424.7" cy="23.4" r="2.4" fill="#a71e24"/>
<circle cx="430.5" cy="33.1" r="2.4" fill="#a71e24"/>
<circle cx="436.1" cy="33.1" r="2.4" fill="#a71e24"/>
<circle cx="441.9" cy="38" r="2.4" fill="#a71e24"/>
<circle cx="447.5" cy="43.3" r="2.4" fill="#a71e24"/>
<circle cx="452.9" cy="48.2" r="2.4" fill="#a71e24"/>
<circle cx="458.4" cy="48.2" r="2.4" fill="#a71e24"/>
<circle cx="464" cy="48.2" r="2.4" fill="#a71e24"/>
<circle cx="469.7" cy="48.2" r="2.4" fill="#a71e24"/>
<circle cx="475.3" cy="48.2" r="2.4" fill="#a71e24"/>
<circle cx="480.6" cy="48.2" r="2.4" fill="#a71e24"/>
<circle cx="486.2" cy="58.2" r="2.4" fill="#a71e24"/>
<circle cx="491.9" cy="58.2" r="2.4" fill="#a71e24"/>
<circle cx="497.5" cy="68.1" r="2.4" fill="#a71e24"/>
<circle cx="502.8" cy="73.4" r="2.4" fill="#a71e24"/>
<circle cx="508.2" cy="83" r="2.4" fill="#a71e24"/>
<circle cx="514" cy="83" r="2.4" fill="#a71e24"/>
<circle cx="519.6" cy="98" r="2.4" fill="#a71e24"/>
<circle cx="525.1" cy="108.1" r="2.4" fill="#a71e24"/>
<circle cx="530.7" cy="113.2" r="2.4" fill="#a71e24"/>
<circle cx="536" cy="127.8" r="2.4" fill="#a71e24"/>
<circle cx="541.6" cy="127.8" r="2.4" fill="#a71e24"/>
<circle cx="547.2" cy="127.8" r="2.4" fill="#a71e24"/>
<circle cx="552.8" cy="127.8" r="2.4" fill="#a71e24"/>
<circle cx="558.5" cy="133" r="2.4" fill="#a71e24"/>
<circle cx="564.1" cy="131.5" r="2.4" fill="#a71e24"/>
<circle cx="569.7" cy="142.6" r="2.4" fill="#a71e24"/>
<circle cx="575.5" cy="143.2" r="2.4" fill="#a71e24"/>
<circle cx="581" cy="148.1" r="2.4" fill="#a71e24"/>
<circle cx="586.2" cy="152.9" r="2.4" fill="#a71e24"/>
<circle cx="591.9" cy="152.9" r="2.4" fill="#a71e24"/>
<circle cx="597.5" cy="152.9" r="2.4" fill="#a71e24"/>
<circle cx="603.1" cy="163" r="2.4" fill="#a71e24"/>
<circle cx="608.7" cy="163" r="2.4" fill="#a71e24"/>
<circle cx="614.3" cy="163" r="2.4" fill="#a71e24"/>
<circle cx="620" cy="167.8" r="2.4" fill="#a71e24"/>
<circle cx="625.6" cy="177.8" r="2.4" fill="#a71e24"/>
<circle cx="630.9" cy="182.9" r="2.4" fill="#a71e24"/>
<circle cx="636.5" cy="182.9" r="2.4" fill="#a71e24"/>
<circle cx="642.1" cy="182.9" r="2.4" fill="#a71e24"/>
<circle cx="647.7" cy="182.9" r="2.4" fill="#a71e24"/>
<circle cx="653.3" cy="187.7" r="2.4" fill="#a71e24"/>
<circle cx="658.8" cy="187.7" r="2.4" fill="#a71e24"/>
<circle cx="664.2" cy="187.7" r="2.4" fill="#a71e24"/>
<circle cx="669.7" cy="191.9" r="2.4" fill="#a71e24"/>
<line x1="43.45" y1="434.7" x2="326.35" y2="434.7" stroke="#000" stroke-width="1.3" stroke-linecap="butt" />
<line x1="44.05" y1="434.7" x2="44.05" y2="430.85" stroke="#000" stroke-width="1.25" stroke-linecap="butt" />
<line x1="91" y1="434.7" x2="91" y2="430.85" stroke="#000" stroke-width="1.25" stroke-linecap="butt" />
<line x1="137.95" y1="434.7" x2="137.95" y2="430.85" stroke="#000" stroke-width="1.25" stroke-linecap="butt" />
<line x1="184.9" y1="434.7" x2="184.9" y2="430.85" stroke="#000" stroke-width="1.25" stroke-linecap="butt" />
<line x1="231.85" y1="434.7" x2="231.85" y2="430.85" stroke="#000" stroke-width="1.25" stroke-linecap="butt" />
<line x1="278.8" y1="434.7" x2="278.8" y2="430.85" stroke="#000" stroke-width="1.25" stroke-linecap="butt" />
<line x1="325.75" y1="434.7" x2="325.75" y2="430.85" stroke="#000" stroke-width="1.25" stroke-linecap="butt" />
<line x1="53.44" y1="434.7" x2="53.44" y2="432.05" stroke="#000" stroke-width="1.15" stroke-linecap="butt" />
<line x1="62.83" y1="434.7" x2="62.83" y2="432.05" stroke="#000" stroke-width="1.15" stroke-linecap="butt" />
<line x1="72.22" y1="434.7" x2="72.22" y2="432.05" stroke="#000" stroke-width="1.15" stroke-linecap="butt" />
<line x1="81.61" y1="434.7" x2="81.61" y2="432.05" stroke="#000" stroke-width="1.15" stroke-linecap="butt" />
<line x1="100.39" y1="434.7" x2="100.39" y2="432.05" stroke="#000" stroke-width="1.15" stroke-linecap="butt" />
<line x1="109.78" y1="434.7" x2="109.78" y2="432.05" stroke="#000" stroke-width="1.15" stroke-linecap="butt" />
<line x1="119.17" y1="434.7" x2="119.17" y2="432.05" stroke="#000" stroke-width="1.15" stroke-linecap="butt" />
<line x1="128.56" y1="434.7" x2="128.56" y2="432.05" stroke="#000" stroke-width="1.15" stroke-linecap="butt" />
<line x1="147.34" y1="434.7" x2="147.34" y2="432.05" stroke="#000" stroke-width="1.15" stroke-linecap="butt" />
<line x1="156.73" y1="434.7" x2="156.73" y2="432.05" stroke="#000" stroke-width="1.15" stroke-linecap="butt" />
<line x1="166.12" y1="434.7" x2="166.12" y2="432.05" stroke="#000" stroke-width="1.15" stroke-linecap="butt" />
<line x1="175.51" y1="434.7" x2="175.51" y2="432.05" stroke="#000" stroke-width="1.15" stroke-linecap="butt" />
<line x1="194.29" y1="434.7" x2="194.29" y2="432.05" stroke="#000" stroke-width="1.15" stroke-linecap="butt" />
<line x1="203.68" y1="434.7" x2="203.68" y2="432.05" stroke="#000" stroke-width="1.15" stroke-linecap="butt" />
<line x1="213.07" y1="434.7" x2="213.07" y2="432.05" stroke="#000" stroke-width="1.15" stroke-linecap="butt" />
<line x1="222.46" y1="434.7" x2="222.46" y2="432.05" stroke="#000" stroke-width="1.15" stroke-linecap="butt" />
<line x1="241.24" y1="434.7" x2="241.24" y2="432.05" stroke="#000" stroke-width="1.15" stroke-linecap="butt" />
<line x1="250.63" y1="434.7" x2="250.63" y2="432.05" stroke="#000" stroke-width="1.15" stroke-linecap="butt" />
<line x1="260.02" y1="434.7" x2="260.02" y2="432.05" stroke="#000" stroke-width="1.15" stroke-linecap="butt" />
<line x1="269.41" y1="434.7" x2="269.41" y2="432.05" stroke="#000" stroke-width="1.15" stroke-linecap="butt" />
<line x1="288.19" y1="434.7" x2="288.19" y2="432.05" stroke="#000" stroke-width="1.15" stroke-linecap="butt" />
<line x1="297.58" y1="434.7" x2="297.58" y2="432.05" stroke="#000" stroke-width="1.15" stroke-linecap="butt" />
<line x1="306.97" y1="434.7" x2="306.97" y2="432.05" stroke="#000" stroke-width="1.15" stroke-linecap="butt" />
<line x1="316.36" y1="434.7" x2="316.36" y2="432.05" stroke="#000" stroke-width="1.15" stroke-linecap="butt" />
<text x="40.85" y="450.7" font-size="13.4" text-anchor="middle" fill="#111">−3</text>
<text x="88" y="450.7" font-size="13.4" text-anchor="middle" fill="#111">−2</text>
<text x="134.95" y="450.7" font-size="13.4" text-anchor="middle" fill="#111">−1</text>
<text x="184.9" y="450.7" font-size="13.4" text-anchor="middle" fill="#111">0</text>
<text x="231.85" y="450.7" font-size="13.4" text-anchor="middle" fill="#111">1</text>
<text x="278.8" y="450.7" font-size="13.4" text-anchor="middle" fill="#111">2</text>
<text x="325.75" y="450.7" font-size="13.4" text-anchor="middle" fill="#111">3</text>
<line x1="44.05" y1="260.1" x2="44.05" y2="435.3" stroke="#000" stroke-width="1.3" stroke-linecap="butt" />
<line x1="44.05" y1="434.7" x2="47.9" y2="434.7" stroke="#000" stroke-width="1.25" stroke-linecap="butt" />
<line x1="44.05" y1="399.9" x2="47.9" y2="399.9" stroke="#000" stroke-width="1.25" stroke-linecap="butt" />
<line x1="44.05" y1="365.1" x2="47.9" y2="365.1" stroke="#000" stroke-width="1.25" stroke-linecap="butt" />
<line x1="44.05" y1="330.3" x2="47.9" y2="330.3" stroke="#000" stroke-width="1.25" stroke-linecap="butt" />
<line x1="44.05" y1="295.5" x2="47.9" y2="295.5" stroke="#000" stroke-width="1.25" stroke-linecap="butt" />
<line x1="44.05" y1="260.7" x2="47.9" y2="260.7" stroke="#000" stroke-width="1.25" stroke-linecap="butt" />
<line x1="44.05" y1="426" x2="46.7" y2="426" stroke="#000" stroke-width="1.15" stroke-linecap="butt" />
<line x1="44.05" y1="417.3" x2="46.7" y2="417.3" stroke="#000" stroke-width="1.15" stroke-linecap="butt" />
<line x1="44.05" y1="408.6" x2="46.7" y2="408.6" stroke="#000" stroke-width="1.15" stroke-linecap="butt" />
<line x1="44.05" y1="391.2" x2="46.7" y2="391.2" stroke="#000" stroke-width="1.15" stroke-linecap="butt" />
<line x1="44.05" y1="382.5" x2="46.7" y2="382.5" stroke="#000" stroke-width="1.15" stroke-linecap="butt" />
<line x1="44.05" y1="373.8" x2="46.7" y2="373.8" stroke="#000" stroke-width="1.15" stroke-linecap="butt" />
<line x1="44.05" y1="356.4" x2="46.7" y2="356.4" stroke="#000" stroke-width="1.15" stroke-linecap="butt" />
<line x1="44.05" y1="347.7" x2="46.7" y2="347.7" stroke="#000" stroke-width="1.15" stroke-linecap="butt" />
<line x1="44.05" y1="339" x2="46.7" y2="339" stroke="#000" stroke-width="1.15" stroke-linecap="butt" />
<line x1="44.05" y1="321.6" x2="46.7" y2="321.6" stroke="#000" stroke-width="1.15" stroke-linecap="butt" />
<line x1="44.05" y1="312.9" x2="46.7" y2="312.9" stroke="#000" stroke-width="1.15" stroke-linecap="butt" />
<line x1="44.05" y1="304.2" x2="46.7" y2="304.2" stroke="#000" stroke-width="1.15" stroke-linecap="butt" />
<line x1="44.05" y1="286.8" x2="46.7" y2="286.8" stroke="#000" stroke-width="1.15" stroke-linecap="butt" />
<line x1="44.05" y1="278.1" x2="46.7" y2="278.1" stroke="#000" stroke-width="1.15" stroke-linecap="butt" />
<line x1="44.05" y1="269.4" x2="46.7" y2="269.4" stroke="#000" stroke-width="1.15" stroke-linecap="butt" />
<text x="41.25" y="440.5" font-size="13.4" text-anchor="end" fill="#111">0</text>
<text x="41.25" y="405.7" font-size="13.4" text-anchor="end" fill="#111">0.2</text>
<text x="41.25" y="370.9" font-size="13.4" text-anchor="end" fill="#111">0.4</text>
<text x="41.25" y="336.1" font-size="13.4" text-anchor="end" fill="#111">0.6</text>
<text x="41.25" y="301.3" font-size="13.4" text-anchor="end" fill="#111">0.8</text>
<text x="41.25" y="266.5" font-size="13.4" text-anchor="end" fill="#111">1.0</text>
<line x1="184.9" y1="261.7" x2="184.9" y2="434.7" stroke="#000" stroke-width="1.3" stroke-linecap="butt" />
<line x1="392.4" y1="435" x2="676.8" y2="435" stroke="#000" stroke-width="1.3" stroke-linecap="butt" />
<line x1="393" y1="435" x2="393" y2="431.15" stroke="#000" stroke-width="1.25" stroke-linecap="butt" />
<line x1="440.2" y1="435" x2="440.2" y2="431.15" stroke="#000" stroke-width="1.25" stroke-linecap="butt" />
<line x1="487.4" y1="435" x2="487.4" y2="431.15" stroke="#000" stroke-width="1.25" stroke-linecap="butt" />
<line x1="534.6" y1="435" x2="534.6" y2="431.15" stroke="#000" stroke-width="1.25" stroke-linecap="butt" />
<line x1="581.8" y1="435" x2="581.8" y2="431.15" stroke="#000" stroke-width="1.25" stroke-linecap="butt" />
<line x1="629" y1="435" x2="629" y2="431.15" stroke="#000" stroke-width="1.25" stroke-linecap="butt" />
<line x1="676.2" y1="435" x2="676.2" y2="431.15" stroke="#000" stroke-width="1.25" stroke-linecap="butt" />
<line x1="402.44" y1="435" x2="402.44" y2="432.35" stroke="#000" stroke-width="1.15" stroke-linecap="butt" />
<line x1="411.88" y1="435" x2="411.88" y2="432.35" stroke="#000" stroke-width="1.15" stroke-linecap="butt" />
<line x1="421.32" y1="435" x2="421.32" y2="432.35" stroke="#000" stroke-width="1.15" stroke-linecap="butt" />
<line x1="430.76" y1="435" x2="430.76" y2="432.35" stroke="#000" stroke-width="1.15" stroke-linecap="butt" />
<line x1="449.64" y1="435" x2="449.64" y2="432.35" stroke="#000" stroke-width="1.15" stroke-linecap="butt" />
<line x1="459.08" y1="435" x2="459.08" y2="432.35" stroke="#000" stroke-width="1.15" stroke-linecap="butt" />
<line x1="468.52" y1="435" x2="468.52" y2="432.35" stroke="#000" stroke-width="1.15" stroke-linecap="butt" />
<line x1="477.96" y1="435" x2="477.96" y2="432.35" stroke="#000" stroke-width="1.15" stroke-linecap="butt" />
<line x1="496.84" y1="435" x2="496.84" y2="432.35" stroke="#000" stroke-width="1.15" stroke-linecap="butt" />
<line x1="506.28" y1="435" x2="506.28" y2="432.35" stroke="#000" stroke-width="1.15" stroke-linecap="butt" />
<line x1="515.72" y1="435" x2="515.72" y2="432.35" stroke="#000" stroke-width="1.15" stroke-linecap="butt" />
<line x1="525.16" y1="435" x2="525.16" y2="432.35" stroke="#000" stroke-width="1.15" stroke-linecap="butt" />
<line x1="544.04" y1="435" x2="544.04" y2="432.35" stroke="#000" stroke-width="1.15" stroke-linecap="butt" />
<line x1="553.48" y1="435" x2="553.48" y2="432.35" stroke="#000" stroke-width="1.15" stroke-linecap="butt" />
<line x1="562.92" y1="435" x2="562.92" y2="432.35" stroke="#000" stroke-width="1.15" stroke-linecap="butt" />
<line x1="572.36" y1="435" x2="572.36" y2="432.35" stroke="#000" stroke-width="1.15" stroke-linecap="butt" />
<line x1="591.24" y1="435" x2="591.24" y2="432.35" stroke="#000" stroke-width="1.15" stroke-linecap="butt" />
<line x1="600.68" y1="435" x2="600.68" y2="432.35" stroke="#000" stroke-width="1.15" stroke-linecap="butt" />
<line x1="610.12" y1="435" x2="610.12" y2="432.35" stroke="#000" stroke-width="1.15" stroke-linecap="butt" />
<line x1="619.56" y1="435" x2="619.56" y2="432.35" stroke="#000" stroke-width="1.15" stroke-linecap="butt" />
<line x1="638.44" y1="435" x2="638.44" y2="432.35" stroke="#000" stroke-width="1.15" stroke-linecap="butt" />
<line x1="647.88" y1="435" x2="647.88" y2="432.35" stroke="#000" stroke-width="1.15" stroke-linecap="butt" />
<line x1="657.32" y1="435" x2="657.32" y2="432.35" stroke="#000" stroke-width="1.15" stroke-linecap="butt" />
<line x1="666.76" y1="435" x2="666.76" y2="432.35" stroke="#000" stroke-width="1.15" stroke-linecap="butt" />
<text x="389.8" y="451" font-size="13.4" text-anchor="middle" fill="#111">−3</text>
<text x="437.2" y="451" font-size="13.4" text-anchor="middle" fill="#111">−2</text>
<text x="484.4" y="451" font-size="13.4" text-anchor="middle" fill="#111">−1</text>
<text x="534.6" y="451" font-size="13.4" text-anchor="middle" fill="#111">0</text>
<text x="581.8" y="451" font-size="13.4" text-anchor="middle" fill="#111">1</text>
<text x="629" y="451" font-size="13.4" text-anchor="middle" fill="#111">2</text>
<text x="676.2" y="451" font-size="13.4" text-anchor="middle" fill="#111">3</text>
<line x1="393" y1="260.4" x2="393" y2="435.6" stroke="#000" stroke-width="1.3" stroke-linecap="butt" />
<line x1="393" y1="435" x2="396.85" y2="435" stroke="#000" stroke-width="1.25" stroke-linecap="butt" />
<line x1="393" y1="400.2" x2="396.85" y2="400.2" stroke="#000" stroke-width="1.25" stroke-linecap="butt" />
<line x1="393" y1="365.4" x2="396.85" y2="365.4" stroke="#000" stroke-width="1.25" stroke-linecap="butt" />
<line x1="393" y1="330.6" x2="396.85" y2="330.6" stroke="#000" stroke-width="1.25" stroke-linecap="butt" />
<line x1="393" y1="295.8" x2="396.85" y2="295.8" stroke="#000" stroke-width="1.25" stroke-linecap="butt" />
<line x1="393" y1="261" x2="396.85" y2="261" stroke="#000" stroke-width="1.25" stroke-linecap="butt" />
<line x1="393" y1="426.3" x2="395.65" y2="426.3" stroke="#000" stroke-width="1.15" stroke-linecap="butt" />
<line x1="393" y1="417.6" x2="395.65" y2="417.6" stroke="#000" stroke-width="1.15" stroke-linecap="butt" />
<line x1="393" y1="408.9" x2="395.65" y2="408.9" stroke="#000" stroke-width="1.15" stroke-linecap="butt" />
<line x1="393" y1="391.5" x2="395.65" y2="391.5" stroke="#000" stroke-width="1.15" stroke-linecap="butt" />
<line x1="393" y1="382.8" x2="395.65" y2="382.8" stroke="#000" stroke-width="1.15" stroke-linecap="butt" />
<line x1="393" y1="374.1" x2="395.65" y2="374.1" stroke="#000" stroke-width="1.15" stroke-linecap="butt" />
<line x1="393" y1="356.7" x2="395.65" y2="356.7" stroke="#000" stroke-width="1.15" stroke-linecap="butt" />
<line x1="393" y1="348" x2="395.65" y2="348" stroke="#000" stroke-width="1.15" stroke-linecap="butt" />
<line x1="393" y1="339.3" x2="395.65" y2="339.3" stroke="#000" stroke-width="1.15" stroke-linecap="butt" />
<line x1="393" y1="321.9" x2="395.65" y2="321.9" stroke="#000" stroke-width="1.15" stroke-linecap="butt" />
<line x1="393" y1="313.2" x2="395.65" y2="313.2" stroke="#000" stroke-width="1.15" stroke-linecap="butt" />
<line x1="393" y1="304.5" x2="395.65" y2="304.5" stroke="#000" stroke-width="1.15" stroke-linecap="butt" />
<line x1="393" y1="287.1" x2="395.65" y2="287.1" stroke="#000" stroke-width="1.15" stroke-linecap="butt" />
<line x1="393" y1="278.4" x2="395.65" y2="278.4" stroke="#000" stroke-width="1.15" stroke-linecap="butt" />
<line x1="393" y1="269.7" x2="395.65" y2="269.7" stroke="#000" stroke-width="1.15" stroke-linecap="butt" />
<text x="390.2" y="440.8" font-size="13.4" text-anchor="end" fill="#111">0</text>
<text x="390.2" y="406" font-size="13.4" text-anchor="end" fill="#111">0.2</text>
<text x="390.2" y="371.2" font-size="13.4" text-anchor="end" fill="#111">0.4</text>
<text x="390.2" y="336.4" font-size="13.4" text-anchor="end" fill="#111">0.6</text>
<text x="390.2" y="301.6" font-size="13.4" text-anchor="end" fill="#111">0.8</text>
<text x="390.2" y="266.8" font-size="13.4" text-anchor="end" fill="#111">1.0</text>
<line x1="534.6" y1="262" x2="534.6" y2="435" stroke="#000" stroke-width="1.3" stroke-linecap="butt" />
<text transform="translate(0 252.2) scale(1.09 1)" x="0" y="0" font-size="20.5" font-weight="bold" stroke="#000" stroke-width="0.75" fill="#000">b</text>
<text x="42.5" y="251.8" font-size="13.4" fill="#111">WT luminal clones</text>
<text x="391" y="251.8" font-size="13.4" fill="#111"><tspan font-style="italic">Brca1;Trp53</tspan> luminal clones</text>
<text x="185.5" y="469.7" font-size="13.4" text-anchor="middle" fill="#111">Scaled clone size, (ln <tspan font-style="italic">n</tspan> − <tspan font-style="italic">μ</tspan>)/<tspan font-style="italic">σ</tspan></text>
<text x="534.5" y="469.7" font-size="13.4" text-anchor="middle" fill="#111">Scaled clone size, (ln <tspan font-style="italic">n</tspan> − <tspan font-style="italic">μ</tspan>)/<tspan font-style="italic">σ</tspan></text>
<text x="14.9" y="346.7" font-size="13.6" text-anchor="middle" transform="rotate(-90 14.9 346.7)" fill="#111">Cumulative probability</text>
<text x="362.4" y="346.7" font-size="13.6" text-anchor="middle" transform="rotate(-90 362.4 346.7)" fill="#111">Cumulative probability</text>
<line x1="226.1" y1="270" x2="243.8" y2="270" stroke="#2a348f" stroke-width="1.5" stroke-linecap="butt" />
<circle cx="234.9" cy="270" r="3.8" fill="#2a348f"/>
<text x="250.1" y="273.8" font-size="13.1" fill="#111">Day 64</text>
<line x1="226.1" y1="288.4" x2="243.8" y2="288.4" stroke="#008a68" stroke-width="1.5" stroke-linecap="butt" />
<circle cx="234.9" cy="288.4" r="3.8" fill="#008a68"/>
<text x="250.1" y="292.2" font-size="13.1" fill="#111">Day 120</text>
<line x1="226.1" y1="306.9" x2="243.8" y2="306.9" stroke="#000" stroke-width="1.5" stroke-linecap="butt" />
<circle cx="234.9" cy="306.9" r="3.8" fill="#000"/>
<text x="250.1" y="310.7" font-size="13.1" fill="#111">Day 225</text>
<line x1="226.1" y1="325" x2="243.8" y2="325" stroke="#a71e24" stroke-width="1.5" stroke-linecap="butt" />
<circle cx="234.9" cy="325" r="3.8" fill="#a71e24"/>
<text x="250.1" y="328.8" font-size="13.1" fill="#111">Day 550</text>
<line x1="226.1" y1="342.7" x2="238.84" y2="342.7" stroke="#12aeea" stroke-width="1.5" stroke-linecap="butt" />
<line x1="241.5" y1="342.7" x2="244.3" y2="342.7" stroke="#12aeea" stroke-width="1.5" stroke-linecap="butt" />
<text x="250.1" y="346.5" font-size="13.1" fill="#111">log-normal</text>
<line x1="579.2" y1="269.6" x2="596.5" y2="269.6" stroke="#2a348f" stroke-width="1.5" stroke-linecap="butt" />
<circle cx="587.6" cy="269.6" r="3.8" fill="#2a348f"/>
<text x="600.6" y="273.4" font-size="13.1" fill="#111">Day 14</text>
<line x1="579.2" y1="287.7" x2="596.5" y2="287.7" stroke="#008a68" stroke-width="1.5" stroke-linecap="butt" />
<circle cx="587.6" cy="287.7" r="3.8" fill="#008a68"/>
<text x="600.6" y="291.5" font-size="13.1" fill="#111">Day 64</text>
<line x1="579.2" y1="306.1" x2="596.5" y2="306.1" stroke="#000" stroke-width="1.5" stroke-linecap="butt" />
<circle cx="587.6" cy="306.1" r="3.8" fill="#000"/>
<text x="600.6" y="309.9" font-size="13.1" fill="#111">Day 120</text>
<line x1="579.2" y1="324.6" x2="596.5" y2="324.6" stroke="#a71e24" stroke-width="1.5" stroke-linecap="butt" />
<circle cx="587.6" cy="324.6" r="3.8" fill="#a71e24"/>
<text x="600.6" y="328.4" font-size="13.1" fill="#111">Day 225</text>
<line x1="579.2" y1="342.6" x2="591.66" y2="342.6" stroke="#12aeea" stroke-width="1.5" stroke-linecap="butt" />
<line x1="594.25" y1="342.6" x2="597" y2="342.6" stroke="#12aeea" stroke-width="1.5" stroke-linecap="butt" />
<text x="600.6" y="346.4" font-size="13.1" fill="#111">log-normal</text>
<polyline points="137.8,318.9 186.9,318.9 187.8,389.1 213.8,389.1 216,423.8 249.7,423.8 251,429.8 326,429.8" fill="none" stroke="#2a348f" stroke-width="1.3" stroke-linejoin="round" />
<circle cx="137.8" cy="318.9" r="2" fill="#2a348f"/>
<circle cx="142.26" cy="318.9" r="2" fill="#2a348f"/>
<circle cx="146.73" cy="318.9" r="2" fill="#2a348f"/>
<circle cx="151.19" cy="318.9" r="2" fill="#2a348f"/>
<circle cx="155.65" cy="318.9" r="2" fill="#2a348f"/>
<circle cx="160.12" cy="318.9" r="2" fill="#2a348f"/>
<circle cx="164.58" cy="318.9" r="2" fill="#2a348f"/>
<circle cx="169.05" cy="318.9" r="2" fill="#2a348f"/>
<circle cx="173.51" cy="318.9" r="2" fill="#2a348f"/>
<circle cx="177.97" cy="318.9" r="2" fill="#2a348f"/>
<circle cx="182.44" cy="318.9" r="2" fill="#2a348f"/>
<circle cx="186.9" cy="318.9" r="2" fill="#2a348f"/>
<circle cx="187.8" cy="389.1" r="2" fill="#2a348f"/>
<circle cx="190.4" cy="389.1" r="2" fill="#2a348f"/>
<circle cx="194.3" cy="389.1" r="2" fill="#2a348f"/>
<circle cx="198.2" cy="389.1" r="2" fill="#2a348f"/>
<circle cx="202.1" cy="389.1" r="2" fill="#2a348f"/>
<circle cx="206" cy="389.1" r="2" fill="#2a348f"/>
<circle cx="209.9" cy="389.1" r="2" fill="#2a348f"/>
<circle cx="213.8" cy="389.1" r="2" fill="#2a348f"/>
<circle cx="216" cy="423.8" r="2" fill="#2a348f"/>
<circle cx="219.5" cy="423.8" r="2" fill="#2a348f"/>
<circle cx="223.81" cy="423.8" r="2" fill="#2a348f"/>
<circle cx="228.13" cy="423.8" r="2" fill="#2a348f"/>
<circle cx="232.44" cy="423.8" r="2" fill="#2a348f"/>
<circle cx="236.76" cy="423.8" r="2" fill="#2a348f"/>
<circle cx="241.07" cy="423.8" r="2" fill="#2a348f"/>
<circle cx="245.39" cy="423.8" r="2" fill="#2a348f"/>
<circle cx="249.7" cy="423.8" r="2" fill="#2a348f"/>
<circle cx="251" cy="429.8" r="2" fill="#2a348f"/>
<circle cx="254" cy="429.8" r="2" fill="#2a348f"/>
<circle cx="258.5" cy="429.8" r="2" fill="#2a348f"/>
<circle cx="263" cy="429.8" r="2" fill="#2a348f"/>
<circle cx="267.5" cy="429.8" r="2" fill="#2a348f"/>
<circle cx="272" cy="429.8" r="2" fill="#2a348f"/>
<circle cx="276.5" cy="429.8" r="2" fill="#2a348f"/>
<circle cx="281" cy="429.8" r="2" fill="#2a348f"/>
<circle cx="285.5" cy="429.8" r="2" fill="#2a348f"/>
<circle cx="290" cy="429.8" r="2" fill="#2a348f"/>
<circle cx="294.5" cy="429.8" r="2" fill="#2a348f"/>
<circle cx="299" cy="429.8" r="2" fill="#2a348f"/>
<circle cx="303.5" cy="429.8" r="2" fill="#2a348f"/>
<circle cx="308" cy="429.8" r="2" fill="#2a348f"/>
<circle cx="312.5" cy="429.8" r="2" fill="#2a348f"/>
<circle cx="317" cy="429.8" r="2" fill="#2a348f"/>
<circle cx="321.5" cy="429.8" r="2" fill="#2a348f"/>
<circle cx="326" cy="429.8" r="2" fill="#2a348f"/>
<polyline points="75,273.6 79.38,273.6 83.76,273.6 88.14,273.6 92.52,273.6 96.9,273.6 101.28,273.6 105.66,273.6 110.04,273.6 114.42,273.6 118.8,273.6 121.8,277 124.4,276.6 128.95,276.6 133.5,276.6 138.05,276.6 142.6,276.6 149.9,296.3 154.65,296.3 159.4,296.3 163.8,315.3 167.8,315.3 171.8,315.3 174.7,330.6 178.4,340 184.4,341.2 187.5,355.5 191.9,360.7 197,372.3 201,377 205,378.2 209.4,376.7 213.8,384 218.2,386.9 221.8,396.4 225.6,402.9 230.4,402.9 235.2,402.9 239.3,409.3 242.5,414.9 246.5,419 251.3,425.4 255.3,431 259.3,431.5 264.1,431.5 268.2,431.8 273,432.6 277.8,434.2 282,434.5 287,434.6" fill="none" stroke="#008a68" stroke-width="1.4" stroke-linejoin="round" />
<circle cx="75" cy="273.6" r="2.1" fill="#008a68"/>
<circle cx="79.38" cy="273.6" r="2.1" fill="#008a68"/>
<circle cx="83.76" cy="273.6" r="2.1" fill="#008a68"/>
<circle cx="88.14" cy="273.6" r="2.1" fill="#008a68"/>
<circle cx="92.52" cy="273.6" r="2.1" fill="#008a68"/>
<circle cx="96.9" cy="273.6" r="2.1" fill="#008a68"/>
<circle cx="101.28" cy="273.6" r="2.1" fill="#008a68"/>
<circle cx="105.66" cy="273.6" r="2.1" fill="#008a68"/>
<circle cx="110.04" cy="273.6" r="2.1" fill="#008a68"/>
<circle cx="114.42" cy="273.6" r="2.1" fill="#008a68"/>
<circle cx="118.8" cy="273.6" r="2.1" fill="#008a68"/>
<circle cx="121.8" cy="277" r="2.1" fill="#008a68"/>
<circle cx="124.4" cy="276.6" r="2.1" fill="#008a68"/>
<circle cx="128.95" cy="276.6" r="2.1" fill="#008a68"/>
<circle cx="133.5" cy="276.6" r="2.1" fill="#008a68"/>
<circle cx="138.05" cy="276.6" r="2.1" fill="#008a68"/>
<circle cx="142.6" cy="276.6" r="2.1" fill="#008a68"/>
<circle cx="149.9" cy="296.3" r="2.1" fill="#008a68"/>
<circle cx="154.65" cy="296.3" r="2.1" fill="#008a68"/>
<circle cx="159.4" cy="296.3" r="2.1" fill="#008a68"/>
<circle cx="163.8" cy="315.3" r="2.1" fill="#008a68"/>
<circle cx="167.8" cy="315.3" r="2.1" fill="#008a68"/>
<circle cx="171.8" cy="315.3" r="2.1" fill="#008a68"/>
<circle cx="174.7" cy="330.6" r="2.1" fill="#008a68"/>
<circle cx="178.4" cy="340" r="2.1" fill="#008a68"/>
<circle cx="184.4" cy="341.2" r="2.1" fill="#008a68"/>
<circle cx="187.5" cy="355.5" r="2.1" fill="#008a68"/>
<circle cx="191.9" cy="360.7" r="2.1" fill="#008a68"/>
<circle cx="197" cy="372.3" r="2.1" fill="#008a68"/>
<circle cx="201" cy="377" r="2.1" fill="#008a68"/>
<circle cx="205" cy="378.2" r="2.1" fill="#008a68"/>
<circle cx="209.4" cy="376.7" r="2.1" fill="#008a68"/>
<circle cx="213.8" cy="384" r="2.1" fill="#008a68"/>
<circle cx="218.2" cy="386.9" r="2.1" fill="#008a68"/>
<circle cx="221.8" cy="396.4" r="2.1" fill="#008a68"/>
<circle cx="225.6" cy="402.9" r="2.1" fill="#008a68"/>
<circle cx="230.4" cy="402.9" r="2.1" fill="#008a68"/>
<circle cx="235.2" cy="402.9" r="2.1" fill="#008a68"/>
<circle cx="239.3" cy="409.3" r="2.1" fill="#008a68"/>
<circle cx="242.5" cy="414.9" r="2.1" fill="#008a68"/>
<circle cx="246.5" cy="419" r="2.1" fill="#008a68"/>
<circle cx="251.3" cy="425.4" r="2.1" fill="#008a68"/>
<circle cx="255.3" cy="431" r="2.1" fill="#008a68"/>
<circle cx="259.3" cy="431.5" r="2.1" fill="#008a68"/>
<circle cx="264.1" cy="431.5" r="2.1" fill="#008a68"/>
<circle cx="268.2" cy="431.8" r="2.1" fill="#008a68"/>
<circle cx="273" cy="432.6" r="2.1" fill="#008a68"/>
<circle cx="277.8" cy="434.2" r="2.1" fill="#008a68"/>
<circle cx="282" cy="434.5" r="2.1" fill="#008a68"/>
<circle cx="287" cy="434.6" r="2.1" fill="#008a68"/>
<polyline points="97,268.2 101.52,268.2 106.04,268.2 110.56,268.2 115.08,268.2 119.6,268.2 123.2,280.5 127.6,281.4 132.4,280.5 136.8,288.2 141.2,288.2 145.5,288.2 150,294 154.3,299.9 159.4,308.7 163.8,316.7 166.7,327.7 171,336 175.3,341.2 179.5,351.9 184.6,354.1 188.2,363.6 192.6,368.7 197,374.5 201.4,378.9 205.8,385.5 210.1,389.9 214.5,394.2 218.9,397.2 222.4,403.5 227.5,407.7 232,410.9 236.9,411.7 240.9,414.1 245.7,415.7 249.7,418.2 253.7,420.6 257.7,421.4 262.5,422.2 266.5,423 271.4,424.6 275.4,425.9 279.7,426.2 284.2,427.8 288.2,430.2 292.2,430.7 297,431.3 301.9,431.8 306.7,432.6 311.5,433.4 316,434 321,434.5" fill="none" stroke="#000" stroke-width="1.4" stroke-linejoin="round" />
<circle cx="97" cy="268.2" r="2.1" fill="#000"/>
<circle cx="101.52" cy="268.2" r="2.1" fill="#000"/>
<circle cx="106.04" cy="268.2" r="2.1" fill="#000"/>
<circle cx="110.56" cy="268.2" r="2.1" fill="#000"/>
<circle cx="115.08" cy="268.2" r="2.1" fill="#000"/>
<circle cx="119.6" cy="268.2" r="2.1" fill="#000"/>
<circle cx="123.2" cy="280.5" r="2.1" fill="#000"/>
<circle cx="127.6" cy="281.4" r="2.1" fill="#000"/>
<circle cx="132.4" cy="280.5" r="2.1" fill="#000"/>
<circle cx="136.8" cy="288.2" r="2.1" fill="#000"/>
<circle cx="141.2" cy="288.2" r="2.1" fill="#000"/>
<circle cx="145.5" cy="288.2" r="2.1" fill="#000"/>
<circle cx="150" cy="294" r="2.1" fill="#000"/>
<circle cx="154.3" cy="299.9" r="2.1" fill="#000"/>
<circle cx="159.4" cy="308.7" r="2.1" fill="#000"/>
<circle cx="163.8" cy="316.7" r="2.1" fill="#000"/>
<circle cx="166.7" cy="327.7" r="2.1" fill="#000"/>
<circle cx="171" cy="336" r="2.1" fill="#000"/>
<circle cx="175.3" cy="341.2" r="2.1" fill="#000"/>
<circle cx="179.5" cy="351.9" r="2.1" fill="#000"/>
<circle cx="184.6" cy="354.1" r="2.1" fill="#000"/>
<circle cx="188.2" cy="363.6" r="2.1" fill="#000"/>
<circle cx="192.6" cy="368.7" r="2.1" fill="#000"/>
<circle cx="197" cy="374.5" r="2.1" fill="#000"/>
<circle cx="201.4" cy="378.9" r="2.1" fill="#000"/>
<circle cx="205.8" cy="385.5" r="2.1" fill="#000"/>
<circle cx="210.1" cy="389.9" r="2.1" fill="#000"/>
<circle cx="214.5" cy="394.2" r="2.1" fill="#000"/>
<circle cx="218.9" cy="397.2" r="2.1" fill="#000"/>
<circle cx="222.4" cy="403.5" r="2.1" fill="#000"/>
<circle cx="227.5" cy="407.7" r="2.1" fill="#000"/>
<circle cx="232" cy="410.9" r="2.1" fill="#000"/>
<circle cx="236.9" cy="411.7" r="2.1" fill="#000"/>
<circle cx="240.9" cy="414.1" r="2.1" fill="#000"/>
<circle cx="245.7" cy="415.7" r="2.1" fill="#000"/>
<circle cx="249.7" cy="418.2" r="2.1" fill="#000"/>
<circle cx="253.7" cy="420.6" r="2.1" fill="#000"/>
<circle cx="257.7" cy="421.4" r="2.1" fill="#000"/>
<circle cx="262.5" cy="422.2" r="2.1" fill="#000"/>
<circle cx="266.5" cy="423" r="2.1" fill="#000"/>
<circle cx="271.4" cy="424.6" r="2.1" fill="#000"/>
<circle cx="275.4" cy="425.9" r="2.1" fill="#000"/>
<circle cx="279.7" cy="426.2" r="2.1" fill="#000"/>
<circle cx="284.2" cy="427.8" r="2.1" fill="#000"/>
<circle cx="288.2" cy="430.2" r="2.1" fill="#000"/>
<circle cx="292.2" cy="430.7" r="2.1" fill="#000"/>
<circle cx="297" cy="431.3" r="2.1" fill="#000"/>
<circle cx="301.9" cy="431.8" r="2.1" fill="#000"/>
<circle cx="306.7" cy="432.6" r="2.1" fill="#000"/>
<circle cx="311.5" cy="433.4" r="2.1" fill="#000"/>
<circle cx="316" cy="434" r="2.1" fill="#000"/>
<circle cx="321" cy="434.5" r="2.1" fill="#000"/>
<polyline points="80.1,265.3 85.05,265.3 90,265.3 94.95,265.3 99.9,265.3 104.2,271.2 108.6,271.2 113.7,270.4 118.1,270.4 123.2,280.7 127.6,285.5 132.4,286.8 136.8,289 141.9,295.5 147,299.2 151.4,302.1 155.8,309.4 160.9,313.8 165.3,323.3 170.4,327.7 175.3,336.5 180.1,338.7 184.8,343.5 189.1,347.8 194.1,358.5 198.5,368.7 202.8,378.2 208,384 212.3,389.9 217.4,392.8 221.8,397.9 226.2,405.2 231.5,407.8 236,410.9 240.9,413.3 244.9,415.7 248.9,421.4 254.5,424.6 259.3,426.2 264.1,427.8 268.2,429.4 273,431 277.8,431.8 282.6,432.6 287.4,432.9 292,433 297,433.2 303.5,433.4 309.9,433.9 314.5,434.3 319.5,435" fill="none" stroke="#a71e24" stroke-width="1.4" stroke-linejoin="round" />
<circle cx="80.1" cy="265.3" r="2.2" fill="#a71e24"/>
<circle cx="85.05" cy="265.3" r="2.2" fill="#a71e24"/>
<circle cx="90" cy="265.3" r="2.2" fill="#a71e24"/>
<circle cx="94.95" cy="265.3" r="2.2" fill="#a71e24"/>
<circle cx="99.9" cy="265.3" r="2.2" fill="#a71e24"/>
<circle cx="104.2" cy="271.2" r="2.2" fill="#a71e24"/>
<circle cx="108.6" cy="271.2" r="2.2" fill="#a71e24"/>
<circle cx="113.7" cy="270.4" r="2.2" fill="#a71e24"/>
<circle cx="118.1" cy="270.4" r="2.2" fill="#a71e24"/>
<circle cx="123.2" cy="280.7" r="2.2" fill="#a71e24"/>
<circle cx="127.6" cy="285.5" r="2.2" fill="#a71e24"/>
<circle cx="132.4" cy="286.8" r="2.2" fill="#a71e24"/>
<circle cx="136.8" cy="289" r="2.2" fill="#a71e24"/>
<circle cx="141.9" cy="295.5" r="2.2" fill="#a71e24"/>
<circle cx="147" cy="299.2" r="2.2" fill="#a71e24"/>
<circle cx="151.4" cy="302.1" r="2.2" fill="#a71e24"/>
<circle cx="155.8" cy="309.4" r="2.2" fill="#a71e24"/>
<circle cx="160.9" cy="313.8" r="2.2" fill="#a71e24"/>
<circle cx="165.3" cy="323.3" r="2.2" fill="#a71e24"/>
<circle cx="170.4" cy="327.7" r="2.2" fill="#a71e24"/>
<circle cx="175.3" cy="336.5" r="2.2" fill="#a71e24"/>
<circle cx="180.1" cy="338.7" r="2.2" fill="#a71e24"/>
<circle cx="184.8" cy="343.5" r="2.2" fill="#a71e24"/>
<circle cx="189.1" cy="347.8" r="2.2" fill="#a71e24"/>
<circle cx="194.1" cy="358.5" r="2.2" fill="#a71e24"/>
<circle cx="198.5" cy="368.7" r="2.2" fill="#a71e24"/>
<circle cx="202.8" cy="378.2" r="2.2" fill="#a71e24"/>
<circle cx="208" cy="384" r="2.2" fill="#a71e24"/>
<circle cx="212.3" cy="389.9" r="2.2" fill="#a71e24"/>
<circle cx="217.4" cy="392.8" r="2.2" fill="#a71e24"/>
<circle cx="221.8" cy="397.9" r="2.2" fill="#a71e24"/>
<circle cx="226.2" cy="405.2" r="2.2" fill="#a71e24"/>
<circle cx="231.5" cy="407.8" r="2.2" fill="#a71e24"/>
<circle cx="236" cy="410.9" r="2.2" fill="#a71e24"/>
<circle cx="240.9" cy="413.3" r="2.2" fill="#a71e24"/>
<circle cx="244.9" cy="415.7" r="2.2" fill="#a71e24"/>
<circle cx="248.9" cy="421.4" r="2.2" fill="#a71e24"/>
<circle cx="254.5" cy="424.6" r="2.2" fill="#a71e24"/>
<circle cx="259.3" cy="426.2" r="2.2" fill="#a71e24"/>
<circle cx="264.1" cy="427.8" r="2.2" fill="#a71e24"/>
<circle cx="268.2" cy="429.4" r="2.2" fill="#a71e24"/>
<circle cx="273" cy="431" r="2.2" fill="#a71e24"/>
<circle cx="277.8" cy="431.8" r="2.2" fill="#a71e24"/>
<circle cx="282.6" cy="432.6" r="2.2" fill="#a71e24"/>
<circle cx="287.4" cy="432.9" r="2.2" fill="#a71e24"/>
<circle cx="292" cy="433" r="2.2" fill="#a71e24"/>
<circle cx="297" cy="433.2" r="2.2" fill="#a71e24"/>
<circle cx="303.5" cy="433.4" r="2.2" fill="#a71e24"/>
<circle cx="309.9" cy="433.9" r="2.2" fill="#a71e24"/>
<circle cx="314.5" cy="434.3" r="2.2" fill="#a71e24"/>
<circle cx="319.5" cy="435" r="2.2" fill="#a71e24"/>
<polyline points="53.44,261.14 55.71,261.22 57.98,261.3 60.25,261.39 62.52,261.5 64.79,261.62 67.06,261.75 69.32,261.9 71.59,262.08 73.86,262.27 76.13,262.49 78.4,262.73 80.67,263 82.94,263.3 85.21,263.63 87.48,264 89.75,264.41 92.02,264.87 94.29,265.36 96.56,265.91 98.83,266.51 101.09,267.16 103.36,267.87 105.63,268.65 107.9,269.49 110.17,270.4 112.44,271.38 114.71,272.44 116.98,273.58 119.25,274.8 121.52,276.1 123.79,277.49 126.06,278.98 128.33,280.55 130.59,282.22 132.86,283.99 135.13,285.86 137.4,287.82 139.67,289.88 141.94,292.04 144.21,294.29 146.48,296.65 148.75,299.09 151.02,301.63 153.29,304.26 155.56,306.98 157.83,309.78 160.09,312.66 162.36,315.62 164.63,318.64 166.9,321.73 169.17,324.87 171.44,328.07 173.71,331.31 175.98,334.59 178.25,337.9 180.52,341.23 182.79,344.58 185.06,347.93 187.33,351.28 189.59,354.63 191.86,357.96 194.13,361.26 196.4,364.54 198.67,367.77 200.94,370.96 203.21,374.1 205.48,377.18 207.75,380.19 210.02,383.14 212.29,386.01 214.56,388.8 216.83,391.5 219.1,394.12 221.36,396.65 223.63,399.08 225.9,401.42 228.17,403.67 230.44,405.81 232.71,407.86 234.98,409.81 237.25,411.66 239.52,413.41 241.79,415.07 244.06,416.63 246.33,418.1 248.6,419.48 250.86,420.78 253.13,421.99 255.4,423.11 257.67,424.16 259.94,425.13 262.21,426.03 264.48,426.86 266.75,427.63 269.02,428.33 271.29,428.98 273.56,429.57 275.83,430.11 278.1,430.6 280.37,431.04 282.63,431.45 284.9,431.81 287.17,432.14 289.44,432.44 291.71,432.71 293.98,432.95 296.25,433.16 298.52,433.35 300.79,433.52 303.06,433.67 305.33,433.8 307.6,433.92 309.87,434.02 312.13,434.11 314.4,434.19 316.67,434.26 318.94,434.33 321.21,434.38 323.48,434.43 325.75,434.47" fill="none" stroke="#12aeea" stroke-width="1.6" stroke-linejoin="round" />
<polyline points="476.6,305.5 514.5,305.5 515.5,354.7 530,354.7 535,354.5 539,354.2 541.6,368.6 542.1,373.3 553.9,372.6 555.6,377.4 557.4,386.2 558.7,391 564.8,390.8 568.8,394 572.3,398.4 575.3,401.5 578.4,403.7 584,408.5 590,413 596,416.5 603.7,420.1 608.5,423.3 613.3,425.7 618.2,426.5 623,427.4 627.8,428.2 631.8,429 635.8,430.6 639.8,431.4 643.8,431.4 647.8,431.7 651.9,432.2 656.7,433 660.7,433.3 664.7,433.8 668.7,433.8 672.7,434.1 675.9,434.1" fill="none" stroke="#2a348f" stroke-width="1.3" stroke-linejoin="round" />
<circle cx="476.6" cy="305.5" r="2" fill="#2a348f"/>
<circle cx="480.81" cy="305.5" r="2" fill="#2a348f"/>
<circle cx="485.02" cy="305.5" r="2" fill="#2a348f"/>
<circle cx="489.23" cy="305.5" r="2" fill="#2a348f"/>
<circle cx="493.44" cy="305.5" r="2" fill="#2a348f"/>
<circle cx="497.66" cy="305.5" r="2" fill="#2a348f"/>
<circle cx="501.87" cy="305.5" r="2" fill="#2a348f"/>
<circle cx="506.08" cy="305.5" r="2" fill="#2a348f"/>
<circle cx="510.29" cy="305.5" r="2" fill="#2a348f"/>
<circle cx="514.5" cy="305.5" r="2" fill="#2a348f"/>
<circle cx="517.4" cy="354.7" r="2" fill="#2a348f"/>
<circle cx="521.6" cy="354.7" r="2" fill="#2a348f"/>
<circle cx="525.8" cy="354.7" r="2" fill="#2a348f"/>
<circle cx="530" cy="354.7" r="2" fill="#2a348f"/>
<circle cx="534" cy="354.5" r="2" fill="#2a348f"/>
<circle cx="538.5" cy="354.3" r="2" fill="#2a348f"/>
<circle cx="542.1" cy="373.3" r="2" fill="#2a348f"/>
<circle cx="546" cy="373.3" r="2" fill="#2a348f"/>
<circle cx="549.8" cy="372.8" r="2" fill="#2a348f"/>
<circle cx="553.9" cy="372.6" r="2" fill="#2a348f"/>
<circle cx="558.7" cy="391" r="2" fill="#2a348f"/>
<circle cx="562.2" cy="391" r="2" fill="#2a348f"/>
<circle cx="564.8" cy="390.8" r="2" fill="#2a348f"/>
<circle cx="568.8" cy="394" r="2" fill="#2a348f"/>
<circle cx="572.3" cy="398.4" r="2" fill="#2a348f"/>
<circle cx="575.3" cy="401.5" r="2" fill="#2a348f"/>
<circle cx="578.4" cy="403.7" r="2" fill="#2a348f"/>
<circle cx="603.7" cy="420.1" r="2" fill="#2a348f"/>
<circle cx="608.5" cy="423.3" r="2" fill="#2a348f"/>
<circle cx="613.3" cy="425.7" r="2" fill="#2a348f"/>
<circle cx="618.2" cy="426.5" r="2" fill="#2a348f"/>
<circle cx="623" cy="427.4" r="2" fill="#2a348f"/>
<circle cx="627.8" cy="428.2" r="2" fill="#2a348f"/>
<circle cx="631.8" cy="429" r="2" fill="#2a348f"/>
<circle cx="635.8" cy="430.6" r="2" fill="#2a348f"/>
<circle cx="639.8" cy="431.4" r="2" fill="#2a348f"/>
<circle cx="643.8" cy="431.4" r="2" fill="#2a348f"/>
<circle cx="647.8" cy="431.7" r="2" fill="#2a348f"/>
<circle cx="651.9" cy="432.2" r="2" fill="#2a348f"/>
<circle cx="656.7" cy="433" r="2" fill="#2a348f"/>
<circle cx="660.7" cy="433.3" r="2" fill="#2a348f"/>
<circle cx="664.7" cy="433.8" r="2" fill="#2a348f"/>
<circle cx="668.7" cy="433.8" r="2" fill="#2a348f"/>
<circle cx="672.7" cy="434.1" r="2" fill="#2a348f"/>
<circle cx="675.9" cy="434.1" r="2" fill="#2a348f"/>
<polyline points="448.4,274.1 452.42,274.1 456.43,274.1 460.45,274.1 464.47,274.1 468.48,274.1 472.5,274.1 474.6,287.6 479,288 483.4,288.5 486,290.2 487.5,302.6 491.9,302.6 496.3,303.4 500.7,307 505,310.7 509.4,315 513.8,318.7 518.2,323.8 521.8,329.6 525.5,335.5 529.1,336.9 532.8,342 536.4,346.3 540.3,346.3 543.8,348.5 546,350.3 548.2,354.2 549.5,356.4 551.7,361.2 555.6,363.4 559.6,365.6 563.5,369.1 565.3,373 567,378.3 568.3,380 569.7,383.5 572.3,388.8 574.9,390.5 578,397.7 582.8,404.9 586.9,411.3 589.3,416.9 592.5,422.5 595.7,427.4 598.9,430.6 602.9,432.2 606.9,433.3 610.1,433.8" fill="none" stroke="#008a68" stroke-width="1.4" stroke-linejoin="round" />
<circle cx="448.4" cy="274.1" r="2.1" fill="#008a68"/>
<circle cx="452.42" cy="274.1" r="2.1" fill="#008a68"/>
<circle cx="456.43" cy="274.1" r="2.1" fill="#008a68"/>
<circle cx="460.45" cy="274.1" r="2.1" fill="#008a68"/>
<circle cx="464.47" cy="274.1" r="2.1" fill="#008a68"/>
<circle cx="468.48" cy="274.1" r="2.1" fill="#008a68"/>
<circle cx="472.5" cy="274.1" r="2.1" fill="#008a68"/>
<circle cx="474.6" cy="287.6" r="2.1" fill="#008a68"/>
<circle cx="479" cy="288" r="2.1" fill="#008a68"/>
<circle cx="483.4" cy="288.5" r="2.1" fill="#008a68"/>
<circle cx="486" cy="290.2" r="2.1" fill="#008a68"/>
<circle cx="487.5" cy="302.6" r="2.1" fill="#008a68"/>
<circle cx="491.9" cy="302.6" r="2.1" fill="#008a68"/>
<circle cx="496.3" cy="303.4" r="2.1" fill="#008a68"/>
<circle cx="500.7" cy="307" r="2.1" fill="#008a68"/>
<circle cx="505" cy="310.7" r="2.1" fill="#008a68"/>
<circle cx="509.4" cy="315" r="2.1" fill="#008a68"/>
<circle cx="513.8" cy="318.7" r="2.1" fill="#008a68"/>
<circle cx="518.2" cy="323.8" r="2.1" fill="#008a68"/>
<circle cx="521.8" cy="329.6" r="2.1" fill="#008a68"/>
<circle cx="525.5" cy="335.5" r="2.1" fill="#008a68"/>
<circle cx="529.1" cy="336.9" r="2.1" fill="#008a68"/>
<circle cx="532.8" cy="342" r="2.1" fill="#008a68"/>
<circle cx="536.4" cy="346.3" r="2.1" fill="#008a68"/>
<circle cx="540.3" cy="346.3" r="2.1" fill="#008a68"/>
<circle cx="543.8" cy="348.5" r="2.1" fill="#008a68"/>
<circle cx="546" cy="350.3" r="2.1" fill="#008a68"/>
<circle cx="548.2" cy="354.2" r="2.1" fill="#008a68"/>
<circle cx="549.5" cy="356.4" r="2.1" fill="#008a68"/>
<circle cx="551.7" cy="361.2" r="2.1" fill="#008a68"/>
<circle cx="555.6" cy="363.4" r="2.1" fill="#008a68"/>
<circle cx="559.6" cy="365.6" r="2.1" fill="#008a68"/>
<circle cx="563.5" cy="369.1" r="2.1" fill="#008a68"/>
<circle cx="565.3" cy="373" r="2.1" fill="#008a68"/>
<circle cx="567" cy="378.3" r="2.1" fill="#008a68"/>
<circle cx="568.3" cy="380" r="2.1" fill="#008a68"/>
<circle cx="569.7" cy="383.5" r="2.1" fill="#008a68"/>
<circle cx="572.3" cy="388.8" r="2.1" fill="#008a68"/>
<circle cx="574.9" cy="390.5" r="2.1" fill="#008a68"/>
<circle cx="578" cy="397.7" r="2.1" fill="#008a68"/>
<circle cx="582.8" cy="404.9" r="2.1" fill="#008a68"/>
<circle cx="586.9" cy="411.3" r="2.1" fill="#008a68"/>
<circle cx="589.3" cy="416.9" r="2.1" fill="#008a68"/>
<circle cx="592.5" cy="422.5" r="2.1" fill="#008a68"/>
<circle cx="595.7" cy="427.4" r="2.1" fill="#008a68"/>
<circle cx="598.9" cy="430.6" r="2.1" fill="#008a68"/>
<circle cx="602.9" cy="432.2" r="2.1" fill="#008a68"/>
<circle cx="606.9" cy="433.3" r="2.1" fill="#008a68"/>
<circle cx="610.1" cy="433.8" r="2.1" fill="#008a68"/>
<polyline points="465.9,279.9 470.3,279.9 474.7,279.2 479,279.2 481.2,290.9 485.6,292.3 487.5,307 491.9,307 496.3,309.2 499.2,315 502.8,315.8 505.8,318.7 509.4,320.9 512.3,331.1 516,331.8 520.5,333.5 524.5,338.2 529.4,346.8 532,350.3 535.5,356.4 539.4,360.3 543,360.3 546.9,363.8 550,364.7 553,366.9 556.1,370 559.2,372.6 562.7,374.8 565.3,380.9 567,383.5 569.7,387.9 572.7,392.3 576.7,393.2 580.2,393.2 584.4,395.2 587.7,396.9 589.3,408.1 591.7,411.3 594.1,413.7 596.5,416.1 600.5,418.5 604.5,420.1 608.5,424.9 611.7,431.4 616.5,433 623,433.8 629,434.2 634.2,434.3" fill="none" stroke="#000" stroke-width="1.4" stroke-linejoin="round" />
<circle cx="465.9" cy="279.9" r="2.1" fill="#000"/>
<circle cx="470.3" cy="279.9" r="2.1" fill="#000"/>
<circle cx="474.7" cy="279.2" r="2.1" fill="#000"/>
<circle cx="479" cy="279.2" r="2.1" fill="#000"/>
<circle cx="481.2" cy="290.9" r="2.1" fill="#000"/>
<circle cx="485.6" cy="292.3" r="2.1" fill="#000"/>
<circle cx="487.5" cy="307" r="2.1" fill="#000"/>
<circle cx="491.9" cy="307" r="2.1" fill="#000"/>
<circle cx="496.3" cy="309.2" r="2.1" fill="#000"/>
<circle cx="499.2" cy="315" r="2.1" fill="#000"/>
<circle cx="502.8" cy="315.8" r="2.1" fill="#000"/>
<circle cx="505.8" cy="318.7" r="2.1" fill="#000"/>
<circle cx="509.4" cy="320.9" r="2.1" fill="#000"/>
<circle cx="512.3" cy="331.1" r="2.1" fill="#000"/>
<circle cx="516" cy="331.8" r="2.1" fill="#000"/>
<circle cx="520.5" cy="333.5" r="2.1" fill="#000"/>
<circle cx="524.5" cy="338.2" r="2.1" fill="#000"/>
<circle cx="529.4" cy="346.8" r="2.1" fill="#000"/>
<circle cx="532" cy="350.3" r="2.1" fill="#000"/>
<circle cx="535.5" cy="356.4" r="2.1" fill="#000"/>
<circle cx="539.4" cy="360.3" r="2.1" fill="#000"/>
<circle cx="543" cy="360.3" r="2.1" fill="#000"/>
<circle cx="546.9" cy="363.8" r="2.1" fill="#000"/>
<circle cx="550" cy="364.7" r="2.1" fill="#000"/>
<circle cx="553" cy="366.9" r="2.1" fill="#000"/>
<circle cx="556.1" cy="370" r="2.1" fill="#000"/>
<circle cx="559.2" cy="372.6" r="2.1" fill="#000"/>
<circle cx="562.7" cy="374.8" r="2.1" fill="#000"/>
<circle cx="565.3" cy="380.9" r="2.1" fill="#000"/>
<circle cx="567" cy="383.5" r="2.1" fill="#000"/>
<circle cx="569.7" cy="387.9" r="2.1" fill="#000"/>
<circle cx="572.7" cy="392.3" r="2.1" fill="#000"/>
<circle cx="576.7" cy="393.2" r="2.1" fill="#000"/>
<circle cx="580.2" cy="393.2" r="2.1" fill="#000"/>
<circle cx="584.4" cy="395.2" r="2.1" fill="#000"/>
<circle cx="587.7" cy="396.9" r="2.1" fill="#000"/>
<circle cx="589.3" cy="408.1" r="2.1" fill="#000"/>
<circle cx="591.7" cy="411.3" r="2.1" fill="#000"/>
<circle cx="594.1" cy="413.7" r="2.1" fill="#000"/>
<circle cx="596.5" cy="416.1" r="2.1" fill="#000"/>
<circle cx="600.5" cy="418.5" r="2.1" fill="#000"/>
<circle cx="604.5" cy="420.1" r="2.1" fill="#000"/>
<circle cx="608.5" cy="424.9" r="2.1" fill="#000"/>
<circle cx="611.7" cy="431.4" r="2.1" fill="#000"/>
<circle cx="616.5" cy="433" r="2.1" fill="#000"/>
<circle cx="623" cy="433.8" r="2.1" fill="#000"/>
<circle cx="629" cy="434.2" r="2.1" fill="#000"/>
<circle cx="634.2" cy="434.3" r="2.1" fill="#000"/>
<polyline points="433.8,261 438.2,261 442.6,261 446.2,261 449.9,264.6 454.2,265.8 458.6,265.8 460.1,269 462.3,275.5 465.9,277 470.3,281.4 473.9,285.8 477.3,291 481.7,291 486,291 490.4,291 494.1,291 497.7,291 501.4,300.4 505.8,300.4 510.1,310.7 513.8,315 516.7,326 521.1,326 524.5,339.5 527.8,347 531.1,352 533.8,356.4 535.9,370.8 539,370.4 542.5,370.4 546,370.4 548.6,371.3 552.1,376.5 555.2,375.2 560,386.2 564.4,385.3 567.9,388.8 571.4,394 575.4,395.8 579.8,395 584.4,405.7 588.5,405.7 591.7,405.7 595.7,410.5 598.1,420.1 603.7,424.9 607.7,425.7 611.7,425.7 615.7,425.7 619.8,431.4 624.6,431.4 627.8,429.8 632.6,433 635.8,434.6" fill="none" stroke="#a71e24" stroke-width="1.4" stroke-linejoin="round" />
<circle cx="433.8" cy="261" r="2.2" fill="#a71e24"/>
<circle cx="438.2" cy="261" r="2.2" fill="#a71e24"/>
<circle cx="442.6" cy="261" r="2.2" fill="#a71e24"/>
<circle cx="446.2" cy="261" r="2.2" fill="#a71e24"/>
<circle cx="449.9" cy="264.6" r="2.2" fill="#a71e24"/>
<circle cx="454.2" cy="265.8" r="2.2" fill="#a71e24"/>
<circle cx="458.6" cy="265.8" r="2.2" fill="#a71e24"/>
<circle cx="460.1" cy="269" r="2.2" fill="#a71e24"/>
<circle cx="462.3" cy="275.5" r="2.2" fill="#a71e24"/>
<circle cx="465.9" cy="277" r="2.2" fill="#a71e24"/>
<circle cx="470.3" cy="281.4" r="2.2" fill="#a71e24"/>
<circle cx="473.9" cy="285.8" r="2.2" fill="#a71e24"/>
<circle cx="477.3" cy="291" r="2.2" fill="#a71e24"/>
<circle cx="481.7" cy="291" r="2.2" fill="#a71e24"/>
<circle cx="486" cy="291" r="2.2" fill="#a71e24"/>
<circle cx="490.4" cy="291" r="2.2" fill="#a71e24"/>
<circle cx="494.1" cy="291" r="2.2" fill="#a71e24"/>
<circle cx="497.7" cy="291" r="2.2" fill="#a71e24"/>
<circle cx="501.4" cy="300.4" r="2.2" fill="#a71e24"/>
<circle cx="505.8" cy="300.4" r="2.2" fill="#a71e24"/>
<circle cx="510.1" cy="310.7" r="2.2" fill="#a71e24"/>
<circle cx="513.8" cy="315" r="2.2" fill="#a71e24"/>
<circle cx="516.7" cy="326" r="2.2" fill="#a71e24"/>
<circle cx="521.1" cy="326" r="2.2" fill="#a71e24"/>
<circle cx="524.5" cy="339.5" r="2.2" fill="#a71e24"/>
<circle cx="527.8" cy="347" r="2.2" fill="#a71e24"/>
<circle cx="531.1" cy="352" r="2.2" fill="#a71e24"/>
<circle cx="533.8" cy="356.4" r="2.2" fill="#a71e24"/>
<circle cx="535.9" cy="370.8" r="2.2" fill="#a71e24"/>
<circle cx="539" cy="370.4" r="2.2" fill="#a71e24"/>
<circle cx="542.5" cy="370.4" r="2.2" fill="#a71e24"/>
<circle cx="546" cy="370.4" r="2.2" fill="#a71e24"/>
<circle cx="548.6" cy="371.3" r="2.2" fill="#a71e24"/>
<circle cx="552.1" cy="376.5" r="2.2" fill="#a71e24"/>
<circle cx="555.2" cy="375.2" r="2.2" fill="#a71e24"/>
<circle cx="560" cy="386.2" r="2.2" fill="#a71e24"/>
<circle cx="564.4" cy="385.3" r="2.2" fill="#a71e24"/>
<circle cx="567.9" cy="388.8" r="2.2" fill="#a71e24"/>
<circle cx="571.4" cy="394" r="2.2" fill="#a71e24"/>
<circle cx="575.4" cy="395.8" r="2.2" fill="#a71e24"/>
<circle cx="579.8" cy="395" r="2.2" fill="#a71e24"/>
<circle cx="584.4" cy="405.7" r="2.2" fill="#a71e24"/>
<circle cx="588.5" cy="405.7" r="2.2" fill="#a71e24"/>
<circle cx="591.7" cy="405.7" r="2.2" fill="#a71e24"/>
<circle cx="595.7" cy="410.5" r="2.2" fill="#a71e24"/>
<circle cx="598.1" cy="420.1" r="2.2" fill="#a71e24"/>
<circle cx="603.7" cy="424.9" r="2.2" fill="#a71e24"/>
<circle cx="607.7" cy="425.7" r="2.2" fill="#a71e24"/>
<circle cx="611.7" cy="425.7" r="2.2" fill="#a71e24"/>
<circle cx="615.7" cy="425.7" r="2.2" fill="#a71e24"/>
<circle cx="619.8" cy="431.4" r="2.2" fill="#a71e24"/>
<circle cx="624.6" cy="431.4" r="2.2" fill="#a71e24"/>
<circle cx="627.8" cy="429.8" r="2.2" fill="#a71e24"/>
<circle cx="632.6" cy="433" r="2.2" fill="#a71e24"/>
<circle cx="635.8" cy="434.6" r="2.2" fill="#a71e24"/>
<polyline points="393,261.23 395.36,261.28 397.72,261.32 400.08,261.38 402.44,261.44 404.8,261.52 407.16,261.6 409.52,261.7 411.88,261.81 414.24,261.94 416.6,262.08 418.96,262.24 421.32,262.43 423.68,262.63 426.04,262.87 428.4,263.13 430.76,263.42 433.12,263.75 435.48,264.11 437.84,264.51 440.2,264.96 442.56,265.45 444.92,266 447.28,266.6 449.64,267.25 452,267.97 454.36,268.75 456.72,269.61 459.08,270.54 461.44,271.54 463.8,272.62 466.16,273.79 468.52,275.05 470.88,276.4 473.24,277.84 475.6,279.38 477.96,281.02 480.32,282.76 482.68,284.61 485.04,286.55 487.4,288.61 489.76,290.76 492.12,293.03 494.48,295.39 496.84,297.86 499.2,300.43 501.56,303.1 503.92,305.87 506.28,308.72 508.64,311.66 511,314.69 513.36,317.79 515.72,320.96 518.08,324.19 520.44,327.48 522.8,330.83 525.16,334.21 527.52,337.63 529.88,341.07 532.24,344.53 534.6,348 536.96,351.47 539.32,354.93 541.68,358.37 544.04,361.79 546.4,365.17 548.76,368.52 551.12,371.81 553.48,375.04 555.84,378.21 558.2,381.31 560.56,384.34 562.92,387.28 565.28,390.13 567.64,392.9 570,395.57 572.36,398.14 574.72,400.61 577.08,402.97 579.44,405.24 581.8,407.39 584.16,409.45 586.52,411.39 588.88,413.24 591.24,414.98 593.6,416.62 595.96,418.16 598.32,419.6 600.68,420.95 603.04,422.21 605.4,423.38 607.76,424.46 610.12,425.46 612.48,426.39 614.84,427.25 617.2,428.03 619.56,428.75 621.92,429.4 624.28,430 626.64,430.55 629,431.04 631.36,431.49 633.72,431.89 636.08,432.25 638.44,432.58 640.8,432.87 643.16,433.13 645.52,433.37 647.88,433.57 650.24,433.76 652.6,433.92 654.96,434.06 657.32,434.19 659.68,434.3 662.04,434.4 664.4,434.48 666.76,434.56 669.12,434.62 671.48,434.68 673.84,434.72 676.2,434.77" fill="none" stroke="#12aeea" stroke-width="1.6" stroke-linejoin="round" stroke-dasharray="13 4.5" stroke-dashoffset="3.5"/>
<line x1="44" y1="683.6" x2="327.5" y2="683.6" stroke="#000" stroke-width="1.3" stroke-linecap="butt" />
<line x1="44.6" y1="683.6" x2="44.6" y2="679.75" stroke="#000" stroke-width="1.25" stroke-linecap="butt" />
<line x1="101.06" y1="683.6" x2="101.06" y2="679.75" stroke="#000" stroke-width="1.25" stroke-linecap="butt" />
<line x1="157.52" y1="683.6" x2="157.52" y2="679.75" stroke="#000" stroke-width="1.25" stroke-linecap="butt" />
<line x1="213.98" y1="683.6" x2="213.98" y2="679.75" stroke="#000" stroke-width="1.25" stroke-linecap="butt" />
<line x1="270.44" y1="683.6" x2="270.44" y2="679.75" stroke="#000" stroke-width="1.25" stroke-linecap="butt" />
<line x1="326.9" y1="683.6" x2="326.9" y2="679.75" stroke="#000" stroke-width="1.25" stroke-linecap="butt" />
<line x1="58.72" y1="683.6" x2="58.72" y2="680.95" stroke="#000" stroke-width="1.15" stroke-linecap="butt" />
<line x1="72.83" y1="683.6" x2="72.83" y2="680.95" stroke="#000" stroke-width="1.15" stroke-linecap="butt" />
<line x1="86.94" y1="683.6" x2="86.94" y2="680.95" stroke="#000" stroke-width="1.15" stroke-linecap="butt" />
<line x1="115.18" y1="683.6" x2="115.18" y2="680.95" stroke="#000" stroke-width="1.15" stroke-linecap="butt" />
<line x1="129.29" y1="683.6" x2="129.29" y2="680.95" stroke="#000" stroke-width="1.15" stroke-linecap="butt" />
<line x1="143.41" y1="683.6" x2="143.41" y2="680.95" stroke="#000" stroke-width="1.15" stroke-linecap="butt" />
<line x1="171.63" y1="683.6" x2="171.63" y2="680.95" stroke="#000" stroke-width="1.15" stroke-linecap="butt" />
<line x1="185.75" y1="683.6" x2="185.75" y2="680.95" stroke="#000" stroke-width="1.15" stroke-linecap="butt" />
<line x1="199.86" y1="683.6" x2="199.86" y2="680.95" stroke="#000" stroke-width="1.15" stroke-linecap="butt" />
<line x1="228.09" y1="683.6" x2="228.09" y2="680.95" stroke="#000" stroke-width="1.15" stroke-linecap="butt" />
<line x1="242.21" y1="683.6" x2="242.21" y2="680.95" stroke="#000" stroke-width="1.15" stroke-linecap="butt" />
<line x1="256.32" y1="683.6" x2="256.32" y2="680.95" stroke="#000" stroke-width="1.15" stroke-linecap="butt" />
<line x1="284.56" y1="683.6" x2="284.56" y2="680.95" stroke="#000" stroke-width="1.15" stroke-linecap="butt" />
<line x1="298.67" y1="683.6" x2="298.67" y2="680.95" stroke="#000" stroke-width="1.15" stroke-linecap="butt" />
<line x1="312.79" y1="683.6" x2="312.79" y2="680.95" stroke="#000" stroke-width="1.15" stroke-linecap="butt" />
<text x="44.6" y="699.6" font-size="13.4" text-anchor="middle" fill="#111">0</text>
<text x="101.06" y="699.6" font-size="13.4" text-anchor="middle" fill="#111">20</text>
<text x="157.52" y="699.6" font-size="13.4" text-anchor="middle" fill="#111">40</text>
<text x="213.98" y="699.6" font-size="13.4" text-anchor="middle" fill="#111">60</text>
<text x="270.44" y="699.6" font-size="13.4" text-anchor="middle" fill="#111">80</text>
<text x="326.9" y="699.6" font-size="13.4" text-anchor="middle" fill="#111">100</text>
<line x1="44.6" y1="507.8" x2="44.6" y2="684.2" stroke="#000" stroke-width="1.3" stroke-linecap="butt" />
<line x1="44.6" y1="683.6" x2="48.45" y2="683.6" stroke="#000" stroke-width="1.25" stroke-linecap="butt" />
<line x1="44.6" y1="654.4" x2="48.45" y2="654.4" stroke="#000" stroke-width="1.25" stroke-linecap="butt" />
<line x1="44.6" y1="625.2" x2="48.45" y2="625.2" stroke="#000" stroke-width="1.25" stroke-linecap="butt" />
<line x1="44.6" y1="596" x2="48.45" y2="596" stroke="#000" stroke-width="1.25" stroke-linecap="butt" />
<line x1="44.6" y1="566.8" x2="48.45" y2="566.8" stroke="#000" stroke-width="1.25" stroke-linecap="butt" />
<line x1="44.6" y1="537.6" x2="48.45" y2="537.6" stroke="#000" stroke-width="1.25" stroke-linecap="butt" />
<line x1="44.6" y1="508.4" x2="48.45" y2="508.4" stroke="#000" stroke-width="1.25" stroke-linecap="butt" />
<line x1="44.6" y1="677.76" x2="47.25" y2="677.76" stroke="#000" stroke-width="1.15" stroke-linecap="butt" />
<line x1="44.6" y1="671.92" x2="47.25" y2="671.92" stroke="#000" stroke-width="1.15" stroke-linecap="butt" />
<line x1="44.6" y1="666.08" x2="47.25" y2="666.08" stroke="#000" stroke-width="1.15" stroke-linecap="butt" />
<line x1="44.6" y1="660.24" x2="47.25" y2="660.24" stroke="#000" stroke-width="1.15" stroke-linecap="butt" />
<line x1="44.6" y1="648.56" x2="47.25" y2="648.56" stroke="#000" stroke-width="1.15" stroke-linecap="butt" />
<line x1="44.6" y1="642.72" x2="47.25" y2="642.72" stroke="#000" stroke-width="1.15" stroke-linecap="butt" />
<line x1="44.6" y1="636.88" x2="47.25" y2="636.88" stroke="#000" stroke-width="1.15" stroke-linecap="butt" />
<line x1="44.6" y1="631.04" x2="47.25" y2="631.04" stroke="#000" stroke-width="1.15" stroke-linecap="butt" />
<line x1="44.6" y1="619.36" x2="47.25" y2="619.36" stroke="#000" stroke-width="1.15" stroke-linecap="butt" />
<line x1="44.6" y1="613.52" x2="47.25" y2="613.52" stroke="#000" stroke-width="1.15" stroke-linecap="butt" />
<line x1="44.6" y1="607.68" x2="47.25" y2="607.68" stroke="#000" stroke-width="1.15" stroke-linecap="butt" />
<line x1="44.6" y1="601.84" x2="47.25" y2="601.84" stroke="#000" stroke-width="1.15" stroke-linecap="butt" />
<line x1="44.6" y1="590.16" x2="47.25" y2="590.16" stroke="#000" stroke-width="1.15" stroke-linecap="butt" />
<line x1="44.6" y1="584.32" x2="47.25" y2="584.32" stroke="#000" stroke-width="1.15" stroke-linecap="butt" />
<line x1="44.6" y1="578.48" x2="47.25" y2="578.48" stroke="#000" stroke-width="1.15" stroke-linecap="butt" />
<line x1="44.6" y1="572.64" x2="47.25" y2="572.64" stroke="#000" stroke-width="1.15" stroke-linecap="butt" />
<line x1="44.6" y1="560.96" x2="47.25" y2="560.96" stroke="#000" stroke-width="1.15" stroke-linecap="butt" />
<line x1="44.6" y1="555.12" x2="47.25" y2="555.12" stroke="#000" stroke-width="1.15" stroke-linecap="butt" />
<line x1="44.6" y1="549.28" x2="47.25" y2="549.28" stroke="#000" stroke-width="1.15" stroke-linecap="butt" />
<line x1="44.6" y1="543.44" x2="47.25" y2="543.44" stroke="#000" stroke-width="1.15" stroke-linecap="butt" />
<line x1="44.6" y1="531.76" x2="47.25" y2="531.76" stroke="#000" stroke-width="1.15" stroke-linecap="butt" />
<line x1="44.6" y1="525.92" x2="47.25" y2="525.92" stroke="#000" stroke-width="1.15" stroke-linecap="butt" />
<line x1="44.6" y1="520.08" x2="47.25" y2="520.08" stroke="#000" stroke-width="1.15" stroke-linecap="butt" />
<line x1="44.6" y1="514.24" x2="47.25" y2="514.24" stroke="#000" stroke-width="1.15" stroke-linecap="butt" />
<text x="41.4" y="689.3" font-size="13.4" text-anchor="end" fill="#111">0</text>
<text x="41.4" y="660.1" font-size="13.4" text-anchor="end" fill="#111">1</text>
<text x="41.4" y="630.9" font-size="13.4" text-anchor="end" fill="#111">2</text>
<text x="41.4" y="601.7" font-size="13.4" text-anchor="end" fill="#111">3</text>
<text x="41.4" y="572.5" font-size="13.4" text-anchor="end" fill="#111">4</text>
<text x="41.4" y="543.3" font-size="13.4" text-anchor="end" fill="#111">5</text>
<text x="41.4" y="514.1" font-size="13.4" text-anchor="end" fill="#111">6</text>
<line x1="392.4" y1="683.4" x2="675.42" y2="683.4" stroke="#000" stroke-width="1.3" stroke-linecap="butt" />
<line x1="393" y1="683.4" x2="393" y2="679.55" stroke="#000" stroke-width="1.25" stroke-linecap="butt" />
<line x1="439.97" y1="683.4" x2="439.97" y2="679.55" stroke="#000" stroke-width="1.25" stroke-linecap="butt" />
<line x1="486.94" y1="683.4" x2="486.94" y2="679.55" stroke="#000" stroke-width="1.25" stroke-linecap="butt" />
<line x1="533.91" y1="683.4" x2="533.91" y2="679.55" stroke="#000" stroke-width="1.25" stroke-linecap="butt" />
<line x1="580.88" y1="683.4" x2="580.88" y2="679.55" stroke="#000" stroke-width="1.25" stroke-linecap="butt" />
<line x1="627.85" y1="683.4" x2="627.85" y2="679.55" stroke="#000" stroke-width="1.25" stroke-linecap="butt" />
<line x1="674.82" y1="683.4" x2="674.82" y2="679.55" stroke="#000" stroke-width="1.25" stroke-linecap="butt" />
<line x1="402.39" y1="683.4" x2="402.39" y2="680.75" stroke="#000" stroke-width="1.15" stroke-linecap="butt" />
<line x1="411.79" y1="683.4" x2="411.79" y2="680.75" stroke="#000" stroke-width="1.15" stroke-linecap="butt" />
<line x1="421.18" y1="683.4" x2="421.18" y2="680.75" stroke="#000" stroke-width="1.15" stroke-linecap="butt" />
<line x1="430.58" y1="683.4" x2="430.58" y2="680.75" stroke="#000" stroke-width="1.15" stroke-linecap="butt" />
<line x1="449.36" y1="683.4" x2="449.36" y2="680.75" stroke="#000" stroke-width="1.15" stroke-linecap="butt" />
<line x1="458.76" y1="683.4" x2="458.76" y2="680.75" stroke="#000" stroke-width="1.15" stroke-linecap="butt" />
<line x1="468.15" y1="683.4" x2="468.15" y2="680.75" stroke="#000" stroke-width="1.15" stroke-linecap="butt" />
<line x1="477.55" y1="683.4" x2="477.55" y2="680.75" stroke="#000" stroke-width="1.15" stroke-linecap="butt" />
<line x1="496.33" y1="683.4" x2="496.33" y2="680.75" stroke="#000" stroke-width="1.15" stroke-linecap="butt" />
<line x1="505.73" y1="683.4" x2="505.73" y2="680.75" stroke="#000" stroke-width="1.15" stroke-linecap="butt" />
<line x1="515.12" y1="683.4" x2="515.12" y2="680.75" stroke="#000" stroke-width="1.15" stroke-linecap="butt" />
<line x1="524.52" y1="683.4" x2="524.52" y2="680.75" stroke="#000" stroke-width="1.15" stroke-linecap="butt" />
<line x1="543.3" y1="683.4" x2="543.3" y2="680.75" stroke="#000" stroke-width="1.15" stroke-linecap="butt" />
<line x1="552.7" y1="683.4" x2="552.7" y2="680.75" stroke="#000" stroke-width="1.15" stroke-linecap="butt" />
<line x1="562.09" y1="683.4" x2="562.09" y2="680.75" stroke="#000" stroke-width="1.15" stroke-linecap="butt" />
<line x1="571.49" y1="683.4" x2="571.49" y2="680.75" stroke="#000" stroke-width="1.15" stroke-linecap="butt" />
<line x1="590.27" y1="683.4" x2="590.27" y2="680.75" stroke="#000" stroke-width="1.15" stroke-linecap="butt" />
<line x1="599.67" y1="683.4" x2="599.67" y2="680.75" stroke="#000" stroke-width="1.15" stroke-linecap="butt" />
<line x1="609.06" y1="683.4" x2="609.06" y2="680.75" stroke="#000" stroke-width="1.15" stroke-linecap="butt" />
<line x1="618.46" y1="683.4" x2="618.46" y2="680.75" stroke="#000" stroke-width="1.15" stroke-linecap="butt" />
<line x1="637.24" y1="683.4" x2="637.24" y2="680.75" stroke="#000" stroke-width="1.15" stroke-linecap="butt" />
<line x1="646.64" y1="683.4" x2="646.64" y2="680.75" stroke="#000" stroke-width="1.15" stroke-linecap="butt" />
<line x1="656.03" y1="683.4" x2="656.03" y2="680.75" stroke="#000" stroke-width="1.15" stroke-linecap="butt" />
<line x1="665.43" y1="683.4" x2="665.43" y2="680.75" stroke="#000" stroke-width="1.15" stroke-linecap="butt" />
<text x="393" y="699.6" font-size="13.4" text-anchor="middle" fill="#111">0</text>
<text x="439.74" y="699.6" font-size="13.4" text-anchor="middle" fill="#111">10</text>
<text x="486.47" y="699.6" font-size="13.4" text-anchor="middle" fill="#111">20</text>
<text x="533.21" y="699.6" font-size="13.4" text-anchor="middle" fill="#111">30</text>
<text x="579.95" y="699.6" font-size="13.4" text-anchor="middle" fill="#111">40</text>
<text x="626.68" y="699.6" font-size="13.4" text-anchor="middle" fill="#111">50</text>
<text x="673.42" y="699.6" font-size="13.4" text-anchor="middle" fill="#111">60</text>
<line x1="393" y1="507.6" x2="393" y2="684" stroke="#000" stroke-width="1.3" stroke-linecap="butt" />
<line x1="393" y1="683.4" x2="396.85" y2="683.4" stroke="#000" stroke-width="1.25" stroke-linecap="butt" />
<line x1="393" y1="654.2" x2="396.85" y2="654.2" stroke="#000" stroke-width="1.25" stroke-linecap="butt" />
<line x1="393" y1="625" x2="396.85" y2="625" stroke="#000" stroke-width="1.25" stroke-linecap="butt" />
<line x1="393" y1="595.8" x2="396.85" y2="595.8" stroke="#000" stroke-width="1.25" stroke-linecap="butt" />
<line x1="393" y1="566.6" x2="396.85" y2="566.6" stroke="#000" stroke-width="1.25" stroke-linecap="butt" />
<line x1="393" y1="537.4" x2="396.85" y2="537.4" stroke="#000" stroke-width="1.25" stroke-linecap="butt" />
<line x1="393" y1="508.2" x2="396.85" y2="508.2" stroke="#000" stroke-width="1.25" stroke-linecap="butt" />
<line x1="393" y1="676.1" x2="395.65" y2="676.1" stroke="#000" stroke-width="1.15" stroke-linecap="butt" />
<line x1="393" y1="668.8" x2="395.65" y2="668.8" stroke="#000" stroke-width="1.15" stroke-linecap="butt" />
<line x1="393" y1="661.5" x2="395.65" y2="661.5" stroke="#000" stroke-width="1.15" stroke-linecap="butt" />
<line x1="393" y1="646.9" x2="395.65" y2="646.9" stroke="#000" stroke-width="1.15" stroke-linecap="butt" />
<line x1="393" y1="639.6" x2="395.65" y2="639.6" stroke="#000" stroke-width="1.15" stroke-linecap="butt" />
<line x1="393" y1="632.3" x2="395.65" y2="632.3" stroke="#000" stroke-width="1.15" stroke-linecap="butt" />
<line x1="393" y1="617.7" x2="395.65" y2="617.7" stroke="#000" stroke-width="1.15" stroke-linecap="butt" />
<line x1="393" y1="610.4" x2="395.65" y2="610.4" stroke="#000" stroke-width="1.15" stroke-linecap="butt" />
<line x1="393" y1="603.1" x2="395.65" y2="603.1" stroke="#000" stroke-width="1.15" stroke-linecap="butt" />
<line x1="393" y1="588.5" x2="395.65" y2="588.5" stroke="#000" stroke-width="1.15" stroke-linecap="butt" />
<line x1="393" y1="581.2" x2="395.65" y2="581.2" stroke="#000" stroke-width="1.15" stroke-linecap="butt" />
<line x1="393" y1="573.9" x2="395.65" y2="573.9" stroke="#000" stroke-width="1.15" stroke-linecap="butt" />
<line x1="393" y1="559.3" x2="395.65" y2="559.3" stroke="#000" stroke-width="1.15" stroke-linecap="butt" />
<line x1="393" y1="552" x2="395.65" y2="552" stroke="#000" stroke-width="1.15" stroke-linecap="butt" />
<line x1="393" y1="544.7" x2="395.65" y2="544.7" stroke="#000" stroke-width="1.15" stroke-linecap="butt" />
<line x1="393" y1="530.1" x2="395.65" y2="530.1" stroke="#000" stroke-width="1.15" stroke-linecap="butt" />
<line x1="393" y1="522.8" x2="395.65" y2="522.8" stroke="#000" stroke-width="1.15" stroke-linecap="butt" />
<line x1="393" y1="515.5" x2="395.65" y2="515.5" stroke="#000" stroke-width="1.15" stroke-linecap="butt" />
<text x="389.8" y="689.1" font-size="13.4" text-anchor="end" fill="#111">0</text>
<text x="389.8" y="659.9" font-size="13.4" text-anchor="end" fill="#111">2</text>
<text x="389.8" y="630.7" font-size="13.4" text-anchor="end" fill="#111">4</text>
<text x="389.8" y="601.5" font-size="13.4" text-anchor="end" fill="#111">6</text>
<text x="389.8" y="572.3" font-size="13.4" text-anchor="end" fill="#111">8</text>
<text x="389.8" y="543.1" font-size="13.4" text-anchor="end" fill="#111">10</text>
<text x="389.8" y="513.9" font-size="13.4" text-anchor="end" fill="#111">12</text>
<line x1="43.8" y1="929.7" x2="327.5" y2="929.7" stroke="#000" stroke-width="1.3" stroke-linecap="butt" />
<line x1="44.4" y1="929.7" x2="44.4" y2="925.85" stroke="#000" stroke-width="1.25" stroke-linecap="butt" />
<line x1="100.9" y1="929.7" x2="100.9" y2="925.85" stroke="#000" stroke-width="1.25" stroke-linecap="butt" />
<line x1="157.4" y1="929.7" x2="157.4" y2="925.85" stroke="#000" stroke-width="1.25" stroke-linecap="butt" />
<line x1="213.9" y1="929.7" x2="213.9" y2="925.85" stroke="#000" stroke-width="1.25" stroke-linecap="butt" />
<line x1="270.4" y1="929.7" x2="270.4" y2="925.85" stroke="#000" stroke-width="1.25" stroke-linecap="butt" />
<line x1="326.9" y1="929.7" x2="326.9" y2="925.85" stroke="#000" stroke-width="1.25" stroke-linecap="butt" />
<line x1="58.52" y1="929.7" x2="58.52" y2="927.05" stroke="#000" stroke-width="1.15" stroke-linecap="butt" />
<line x1="72.65" y1="929.7" x2="72.65" y2="927.05" stroke="#000" stroke-width="1.15" stroke-linecap="butt" />
<line x1="86.78" y1="929.7" x2="86.78" y2="927.05" stroke="#000" stroke-width="1.15" stroke-linecap="butt" />
<line x1="115.03" y1="929.7" x2="115.03" y2="927.05" stroke="#000" stroke-width="1.15" stroke-linecap="butt" />
<line x1="129.15" y1="929.7" x2="129.15" y2="927.05" stroke="#000" stroke-width="1.15" stroke-linecap="butt" />
<line x1="143.28" y1="929.7" x2="143.28" y2="927.05" stroke="#000" stroke-width="1.15" stroke-linecap="butt" />
<line x1="171.53" y1="929.7" x2="171.53" y2="927.05" stroke="#000" stroke-width="1.15" stroke-linecap="butt" />
<line x1="185.65" y1="929.7" x2="185.65" y2="927.05" stroke="#000" stroke-width="1.15" stroke-linecap="butt" />
<line x1="199.78" y1="929.7" x2="199.78" y2="927.05" stroke="#000" stroke-width="1.15" stroke-linecap="butt" />
<line x1="228.03" y1="929.7" x2="228.03" y2="927.05" stroke="#000" stroke-width="1.15" stroke-linecap="butt" />
<line x1="242.15" y1="929.7" x2="242.15" y2="927.05" stroke="#000" stroke-width="1.15" stroke-linecap="butt" />
<line x1="256.27" y1="929.7" x2="256.27" y2="927.05" stroke="#000" stroke-width="1.15" stroke-linecap="butt" />
<line x1="284.53" y1="929.7" x2="284.53" y2="927.05" stroke="#000" stroke-width="1.15" stroke-linecap="butt" />
<line x1="298.65" y1="929.7" x2="298.65" y2="927.05" stroke="#000" stroke-width="1.15" stroke-linecap="butt" />
<line x1="312.77" y1="929.7" x2="312.77" y2="927.05" stroke="#000" stroke-width="1.15" stroke-linecap="butt" />
<text x="44.4" y="944.9" font-size="13.4" text-anchor="middle" fill="#111">0</text>
<text x="100.9" y="944.9" font-size="13.4" text-anchor="middle" fill="#111">20</text>
<text x="157.4" y="944.9" font-size="13.4" text-anchor="middle" fill="#111">40</text>
<text x="213.9" y="944.9" font-size="13.4" text-anchor="middle" fill="#111">60</text>
<text x="270.4" y="944.9" font-size="13.4" text-anchor="middle" fill="#111">80</text>
<text x="326.9" y="944.9" font-size="13.4" text-anchor="middle" fill="#111">100</text>
<line x1="44.4" y1="753.72" x2="44.4" y2="930.3" stroke="#000" stroke-width="1.3" stroke-linecap="butt" />
<line x1="44.4" y1="929.7" x2="48.25" y2="929.7" stroke="#000" stroke-width="1.25" stroke-linecap="butt" />
<line x1="44.4" y1="900.47" x2="48.25" y2="900.47" stroke="#000" stroke-width="1.25" stroke-linecap="butt" />
<line x1="44.4" y1="871.24" x2="48.25" y2="871.24" stroke="#000" stroke-width="1.25" stroke-linecap="butt" />
<line x1="44.4" y1="842.01" x2="48.25" y2="842.01" stroke="#000" stroke-width="1.25" stroke-linecap="butt" />
<line x1="44.4" y1="812.78" x2="48.25" y2="812.78" stroke="#000" stroke-width="1.25" stroke-linecap="butt" />
<line x1="44.4" y1="783.55" x2="48.25" y2="783.55" stroke="#000" stroke-width="1.25" stroke-linecap="butt" />
<line x1="44.4" y1="754.32" x2="48.25" y2="754.32" stroke="#000" stroke-width="1.25" stroke-linecap="butt" />
<line x1="44.4" y1="923.85" x2="47.05" y2="923.85" stroke="#000" stroke-width="1.15" stroke-linecap="butt" />
<line x1="44.4" y1="918.01" x2="47.05" y2="918.01" stroke="#000" stroke-width="1.15" stroke-linecap="butt" />
<line x1="44.4" y1="912.16" x2="47.05" y2="912.16" stroke="#000" stroke-width="1.15" stroke-linecap="butt" />
<line x1="44.4" y1="906.32" x2="47.05" y2="906.32" stroke="#000" stroke-width="1.15" stroke-linecap="butt" />
<line x1="44.4" y1="894.62" x2="47.05" y2="894.62" stroke="#000" stroke-width="1.15" stroke-linecap="butt" />
<line x1="44.4" y1="888.78" x2="47.05" y2="888.78" stroke="#000" stroke-width="1.15" stroke-linecap="butt" />
<line x1="44.4" y1="882.93" x2="47.05" y2="882.93" stroke="#000" stroke-width="1.15" stroke-linecap="butt" />
<line x1="44.4" y1="877.09" x2="47.05" y2="877.09" stroke="#000" stroke-width="1.15" stroke-linecap="butt" />
<line x1="44.4" y1="865.39" x2="47.05" y2="865.39" stroke="#000" stroke-width="1.15" stroke-linecap="butt" />
<line x1="44.4" y1="859.55" x2="47.05" y2="859.55" stroke="#000" stroke-width="1.15" stroke-linecap="butt" />
<line x1="44.4" y1="853.7" x2="47.05" y2="853.7" stroke="#000" stroke-width="1.15" stroke-linecap="butt" />
<line x1="44.4" y1="847.86" x2="47.05" y2="847.86" stroke="#000" stroke-width="1.15" stroke-linecap="butt" />
<line x1="44.4" y1="836.16" x2="47.05" y2="836.16" stroke="#000" stroke-width="1.15" stroke-linecap="butt" />
<line x1="44.4" y1="830.32" x2="47.05" y2="830.32" stroke="#000" stroke-width="1.15" stroke-linecap="butt" />
<line x1="44.4" y1="824.47" x2="47.05" y2="824.47" stroke="#000" stroke-width="1.15" stroke-linecap="butt" />
<line x1="44.4" y1="818.63" x2="47.05" y2="818.63" stroke="#000" stroke-width="1.15" stroke-linecap="butt" />
<line x1="44.4" y1="806.93" x2="47.05" y2="806.93" stroke="#000" stroke-width="1.15" stroke-linecap="butt" />
<line x1="44.4" y1="801.09" x2="47.05" y2="801.09" stroke="#000" stroke-width="1.15" stroke-linecap="butt" />
<line x1="44.4" y1="795.24" x2="47.05" y2="795.24" stroke="#000" stroke-width="1.15" stroke-linecap="butt" />
<line x1="44.4" y1="789.4" x2="47.05" y2="789.4" stroke="#000" stroke-width="1.15" stroke-linecap="butt" />
<line x1="44.4" y1="777.7" x2="47.05" y2="777.7" stroke="#000" stroke-width="1.15" stroke-linecap="butt" />
<line x1="44.4" y1="771.86" x2="47.05" y2="771.86" stroke="#000" stroke-width="1.15" stroke-linecap="butt" />
<line x1="44.4" y1="766.01" x2="47.05" y2="766.01" stroke="#000" stroke-width="1.15" stroke-linecap="butt" />
<line x1="44.4" y1="760.17" x2="47.05" y2="760.17" stroke="#000" stroke-width="1.15" stroke-linecap="butt" />
<text x="41.2" y="936.7" font-size="13.4" text-anchor="end" fill="#111">0</text>
<text x="41.2" y="906.17" font-size="13.4" text-anchor="end" fill="#111">1</text>
<text x="41.2" y="876.94" font-size="13.4" text-anchor="end" fill="#111">2</text>
<text x="41.2" y="847.71" font-size="13.4" text-anchor="end" fill="#111">3</text>
<text x="41.2" y="818.48" font-size="13.4" text-anchor="end" fill="#111">4</text>
<text x="41.2" y="789.25" font-size="13.4" text-anchor="end" fill="#111">5</text>
<text x="41.2" y="760.02" font-size="13.4" text-anchor="end" fill="#111">6</text>
<line x1="392.4" y1="929.4" x2="675.9" y2="929.4" stroke="#000" stroke-width="1.3" stroke-linecap="butt" />
<line x1="393" y1="929.4" x2="393" y2="925.55" stroke="#000" stroke-width="1.25" stroke-linecap="butt" />
<line x1="440.05" y1="929.4" x2="440.05" y2="925.55" stroke="#000" stroke-width="1.25" stroke-linecap="butt" />
<line x1="487.1" y1="929.4" x2="487.1" y2="925.55" stroke="#000" stroke-width="1.25" stroke-linecap="butt" />
<line x1="534.15" y1="929.4" x2="534.15" y2="925.55" stroke="#000" stroke-width="1.25" stroke-linecap="butt" />
<line x1="581.2" y1="929.4" x2="581.2" y2="925.55" stroke="#000" stroke-width="1.25" stroke-linecap="butt" />
<line x1="628.25" y1="929.4" x2="628.25" y2="925.55" stroke="#000" stroke-width="1.25" stroke-linecap="butt" />
<line x1="675.3" y1="929.4" x2="675.3" y2="925.55" stroke="#000" stroke-width="1.25" stroke-linecap="butt" />
<line x1="402.41" y1="929.4" x2="402.41" y2="926.75" stroke="#000" stroke-width="1.15" stroke-linecap="butt" />
<line x1="411.82" y1="929.4" x2="411.82" y2="926.75" stroke="#000" stroke-width="1.15" stroke-linecap="butt" />
<line x1="421.23" y1="929.4" x2="421.23" y2="926.75" stroke="#000" stroke-width="1.15" stroke-linecap="butt" />
<line x1="430.64" y1="929.4" x2="430.64" y2="926.75" stroke="#000" stroke-width="1.15" stroke-linecap="butt" />
<line x1="449.46" y1="929.4" x2="449.46" y2="926.75" stroke="#000" stroke-width="1.15" stroke-linecap="butt" />
<line x1="458.87" y1="929.4" x2="458.87" y2="926.75" stroke="#000" stroke-width="1.15" stroke-linecap="butt" />
<line x1="468.28" y1="929.4" x2="468.28" y2="926.75" stroke="#000" stroke-width="1.15" stroke-linecap="butt" />
<line x1="477.69" y1="929.4" x2="477.69" y2="926.75" stroke="#000" stroke-width="1.15" stroke-linecap="butt" />
<line x1="496.51" y1="929.4" x2="496.51" y2="926.75" stroke="#000" stroke-width="1.15" stroke-linecap="butt" />
<line x1="505.92" y1="929.4" x2="505.92" y2="926.75" stroke="#000" stroke-width="1.15" stroke-linecap="butt" />
<line x1="515.33" y1="929.4" x2="515.33" y2="926.75" stroke="#000" stroke-width="1.15" stroke-linecap="butt" />
<line x1="524.74" y1="929.4" x2="524.74" y2="926.75" stroke="#000" stroke-width="1.15" stroke-linecap="butt" />
<line x1="543.56" y1="929.4" x2="543.56" y2="926.75" stroke="#000" stroke-width="1.15" stroke-linecap="butt" />
<line x1="552.97" y1="929.4" x2="552.97" y2="926.75" stroke="#000" stroke-width="1.15" stroke-linecap="butt" />
<line x1="562.38" y1="929.4" x2="562.38" y2="926.75" stroke="#000" stroke-width="1.15" stroke-linecap="butt" />
<line x1="571.79" y1="929.4" x2="571.79" y2="926.75" stroke="#000" stroke-width="1.15" stroke-linecap="butt" />
<line x1="590.61" y1="929.4" x2="590.61" y2="926.75" stroke="#000" stroke-width="1.15" stroke-linecap="butt" />
<line x1="600.02" y1="929.4" x2="600.02" y2="926.75" stroke="#000" stroke-width="1.15" stroke-linecap="butt" />
<line x1="609.43" y1="929.4" x2="609.43" y2="926.75" stroke="#000" stroke-width="1.15" stroke-linecap="butt" />
<line x1="618.84" y1="929.4" x2="618.84" y2="926.75" stroke="#000" stroke-width="1.15" stroke-linecap="butt" />
<line x1="637.66" y1="929.4" x2="637.66" y2="926.75" stroke="#000" stroke-width="1.15" stroke-linecap="butt" />
<line x1="647.07" y1="929.4" x2="647.07" y2="926.75" stroke="#000" stroke-width="1.15" stroke-linecap="butt" />
<line x1="656.48" y1="929.4" x2="656.48" y2="926.75" stroke="#000" stroke-width="1.15" stroke-linecap="butt" />
<line x1="665.89" y1="929.4" x2="665.89" y2="926.75" stroke="#000" stroke-width="1.15" stroke-linecap="butt" />
<text x="393" y="944.9" font-size="13.4" text-anchor="middle" fill="#111">0</text>
<text x="440.05" y="944.9" font-size="13.4" text-anchor="middle" fill="#111">10</text>
<text x="487.1" y="944.9" font-size="13.4" text-anchor="middle" fill="#111">20</text>
<text x="534.15" y="944.9" font-size="13.4" text-anchor="middle" fill="#111">30</text>
<text x="581.2" y="944.9" font-size="13.4" text-anchor="middle" fill="#111">40</text>
<text x="628.25" y="944.9" font-size="13.4" text-anchor="middle" fill="#111">50</text>
<text x="675.3" y="944.9" font-size="13.4" text-anchor="middle" fill="#111">60</text>
<line x1="393" y1="754.4" x2="393" y2="930" stroke="#000" stroke-width="1.3" stroke-linecap="butt" />
<line x1="393" y1="929.4" x2="396.85" y2="929.4" stroke="#000" stroke-width="1.25" stroke-linecap="butt" />
<line x1="393" y1="885.8" x2="396.85" y2="885.8" stroke="#000" stroke-width="1.25" stroke-linecap="butt" />
<line x1="393" y1="842.2" x2="396.85" y2="842.2" stroke="#000" stroke-width="1.25" stroke-linecap="butt" />
<line x1="393" y1="798.6" x2="396.85" y2="798.6" stroke="#000" stroke-width="1.25" stroke-linecap="butt" />
<line x1="393" y1="755" x2="396.85" y2="755" stroke="#000" stroke-width="1.25" stroke-linecap="butt" />
<line x1="393" y1="918.5" x2="395.65" y2="918.5" stroke="#000" stroke-width="1.15" stroke-linecap="butt" />
<line x1="393" y1="907.6" x2="395.65" y2="907.6" stroke="#000" stroke-width="1.15" stroke-linecap="butt" />
<line x1="393" y1="896.7" x2="395.65" y2="896.7" stroke="#000" stroke-width="1.15" stroke-linecap="butt" />
<line x1="393" y1="874.9" x2="395.65" y2="874.9" stroke="#000" stroke-width="1.15" stroke-linecap="butt" />
<line x1="393" y1="864" x2="395.65" y2="864" stroke="#000" stroke-width="1.15" stroke-linecap="butt" />
<line x1="393" y1="853.1" x2="395.65" y2="853.1" stroke="#000" stroke-width="1.15" stroke-linecap="butt" />
<line x1="393" y1="831.3" x2="395.65" y2="831.3" stroke="#000" stroke-width="1.15" stroke-linecap="butt" />
<line x1="393" y1="820.4" x2="395.65" y2="820.4" stroke="#000" stroke-width="1.15" stroke-linecap="butt" />
<line x1="393" y1="809.5" x2="395.65" y2="809.5" stroke="#000" stroke-width="1.15" stroke-linecap="butt" />
<line x1="393" y1="787.7" x2="395.65" y2="787.7" stroke="#000" stroke-width="1.15" stroke-linecap="butt" />
<line x1="393" y1="776.8" x2="395.65" y2="776.8" stroke="#000" stroke-width="1.15" stroke-linecap="butt" />
<line x1="393" y1="765.9" x2="395.65" y2="765.9" stroke="#000" stroke-width="1.15" stroke-linecap="butt" />
<text x="389.8" y="935.1" font-size="13.4" text-anchor="end" fill="#111">0</text>
<text x="389.8" y="891.5" font-size="13.4" text-anchor="end" fill="#111">2</text>
<text x="389.8" y="847.9" font-size="13.4" text-anchor="end" fill="#111">4</text>
<text x="389.8" y="804.3" font-size="13.4" text-anchor="end" fill="#111">6</text>
<text x="389.8" y="760.7" font-size="13.4" text-anchor="end" fill="#111">8</text>
<text transform="translate(0 500.5) scale(1.09 1)" x="0" y="0" font-size="20.5" font-weight="bold" stroke="#000" stroke-width="0.75" fill="#000">c</text>
<text transform="translate(0 747.9) scale(1.09 1)" x="0" y="0" font-size="20.5" font-weight="bold" stroke="#000" stroke-width="0.75" fill="#000">d</text>
<text x="43.5" y="500.9" font-size="13.4" fill="#111">WT confetti clones</text>
<text x="43.5" y="747.5" font-size="13.4" fill="#111">WT confetti clones</text>
<text x="393.2" y="500.7" font-size="13.4" fill="#111"><tspan font-style="italic">Brca1;Trp53</tspan> confetti clones</text>
<text x="393.2" y="748" font-size="13.4" fill="#111"><tspan font-style="italic">Brca1;Trp53</tspan> confetti clones</text>
<text x="186.8" y="716.7" font-size="13.4" text-anchor="middle" fill="#111">Estimated oestrous cycle number</text>
<text x="534.5" y="716.7" font-size="13.4" text-anchor="middle" fill="#111">Estimated oestrous cycle number</text>
<text x="185.8" y="962.8" font-size="13.4" text-anchor="middle" fill="#111">Estimated oestrous cycle number</text>
<text x="534.5" y="962.8" font-size="13.4" text-anchor="middle" fill="#111">Estimated oestrous cycle number</text>
<text x="14.8" y="598.9" font-size="13.75" text-anchor="middle" transform="rotate(-90 14.8 598.9)" fill="#111">Variance of ln(clone size)</text>
<text x="366.3" y="598.9" font-size="13.75" text-anchor="middle" transform="rotate(-90 366.3 598.9)" fill="#111">Variance of ln(clone size)</text>
<text x="18.5" y="843" font-size="13.4" text-anchor="middle" transform="rotate(-90 18.5 843)" fill="#111">Average ln(clone size)</text>
<text x="366.3" y="843" font-size="13.4" text-anchor="middle" transform="rotate(-90 366.3 843)" fill="#111">Average ln(clone size)</text>
<circle cx="60" cy="520.4" r="3.9" fill="#404040"/>
<circle cx="60" cy="535.3" r="3.9" fill="#3854a2"/>
<text x="67.5" y="524.9" font-size="13.4" fill="#111">Luminal</text>
<text x="67.5" y="539.8" font-size="13.4" fill="#111">Basal</text>
<circle cx="408.1" cy="520.7" r="3.9" fill="#000"/>
<circle cx="408.1" cy="536.2" r="3.9" fill="#3854a2"/>
<text x="416.4" y="525.2" font-size="13.4" fill="#111">Luminal</text>
<text x="416.4" y="540.7" font-size="13.4" fill="#111">Basal</text>
<circle cx="60" cy="767.6" r="3.9" fill="#404040"/>
<circle cx="60" cy="782.3" r="3.9" fill="#3854a2"/>
<text x="67.5" y="772.1" font-size="13.4" fill="#111">Luminal</text>
<text x="67.5" y="786.8" font-size="13.4" fill="#111">Basal</text>
<circle cx="408.1" cy="767.6" r="3.9" fill="#000"/>
<circle cx="408.1" cy="783.1" r="3.9" fill="#3854a2"/>
<text x="416.4" y="772.1" font-size="13.4" fill="#111">Luminal</text>
<text x="416.4" y="787.6" font-size="13.4" fill="#111">Basal</text>
<line x1="53.1" y1="679.7" x2="327.1" y2="560.7" stroke="#000" stroke-width="1.75" stroke-dasharray="30.5 8 1.6 8.2" stroke-dashoffset="0"/>
<line x1="53.1" y1="679.3" x2="327.1" y2="556.8" stroke="#3854a2" stroke-width="1.75" stroke-dasharray="30.5 8 1.6 8.2" stroke-dashoffset="0"/>
<line x1="72.4" y1="663.6" x2="72.4" y2="669.6" stroke="#404040" stroke-width="1.45" stroke-linecap="butt" />
<line x1="69.2" y1="663.6" x2="75.6" y2="663.6" stroke="#404040" stroke-width="1.45" stroke-linecap="butt" />
<line x1="69.2" y1="669.6" x2="75.6" y2="669.6" stroke="#404040" stroke-width="1.45" stroke-linecap="butt" />
<circle cx="72.4" cy="666.6" r="3.2" fill="#404040"/>
<line x1="84.1" y1="655.5" x2="84.1" y2="666.9" stroke="#404040" stroke-width="1.45" stroke-linecap="butt" />
<line x1="80.9" y1="655.5" x2="87.3" y2="655.5" stroke="#404040" stroke-width="1.45" stroke-linecap="butt" />
<line x1="80.9" y1="666.9" x2="87.3" y2="666.9" stroke="#404040" stroke-width="1.45" stroke-linecap="butt" />
<circle cx="84.1" cy="661.4" r="3.2" fill="#404040"/>
<line x1="122.5" y1="652.3" x2="122.5" y2="658.9" stroke="#404040" stroke-width="1.45" stroke-linecap="butt" />
<line x1="119.3" y1="652.3" x2="125.7" y2="652.3" stroke="#404040" stroke-width="1.45" stroke-linecap="butt" />
<line x1="119.3" y1="658.9" x2="125.7" y2="658.9" stroke="#404040" stroke-width="1.45" stroke-linecap="butt" />
<circle cx="122.5" cy="655.3" r="3.2" fill="#404040"/>
<line x1="151.4" y1="612.6" x2="151.4" y2="648.6" stroke="#404040" stroke-width="1.45" stroke-linecap="butt" />
<line x1="148.2" y1="612.6" x2="154.6" y2="612.6" stroke="#404040" stroke-width="1.45" stroke-linecap="butt" />
<line x1="148.2" y1="648.6" x2="154.6" y2="648.6" stroke="#404040" stroke-width="1.45" stroke-linecap="butt" />
<circle cx="151.4" cy="631.2" r="3.2" fill="#404040"/>
<line x1="174" y1="625" x2="174" y2="638" stroke="#404040" stroke-width="1.45" stroke-linecap="butt" />
<line x1="170.8" y1="625" x2="177.2" y2="625" stroke="#404040" stroke-width="1.45" stroke-linecap="butt" />
<line x1="170.8" y1="638" x2="177.2" y2="638" stroke="#404040" stroke-width="1.45" stroke-linecap="butt" />
<circle cx="174" cy="631.2" r="3.2" fill="#404040"/>
<line x1="174" y1="638.5" x2="174" y2="648.1" stroke="#404040" stroke-width="1.45" stroke-linecap="butt" />
<line x1="170.8" y1="638.5" x2="177.2" y2="638.5" stroke="#404040" stroke-width="1.45" stroke-linecap="butt" />
<line x1="170.8" y1="648.1" x2="177.2" y2="648.1" stroke="#404040" stroke-width="1.45" stroke-linecap="butt" />
<circle cx="174" cy="643.4" r="3.2" fill="#404040"/>
<line x1="204.7" y1="597.9" x2="204.7" y2="643.4" stroke="#404040" stroke-width="1.45" stroke-linecap="butt" />
<line x1="201.5" y1="597.9" x2="207.9" y2="597.9" stroke="#404040" stroke-width="1.45" stroke-linecap="butt" />
<line x1="201.5" y1="643.4" x2="207.9" y2="643.4" stroke="#404040" stroke-width="1.45" stroke-linecap="butt" />
<circle cx="204.7" cy="620.6" r="3.2" fill="#404040"/>
<line x1="215.7" y1="606.6" x2="215.7" y2="639.9" stroke="#404040" stroke-width="1.45" stroke-linecap="butt" />
<line x1="212.5" y1="606.6" x2="218.9" y2="606.6" stroke="#404040" stroke-width="1.45" stroke-linecap="butt" />
<line x1="212.5" y1="639.9" x2="218.9" y2="639.9" stroke="#404040" stroke-width="1.45" stroke-linecap="butt" />
<circle cx="215.7" cy="623.3" r="3.2" fill="#404040"/>
<line x1="245.3" y1="596.5" x2="245.3" y2="614" stroke="#404040" stroke-width="1.45" stroke-linecap="butt" />
<line x1="242.1" y1="596.5" x2="248.5" y2="596.5" stroke="#404040" stroke-width="1.45" stroke-linecap="butt" />
<line x1="242.1" y1="614" x2="248.5" y2="614" stroke="#404040" stroke-width="1.45" stroke-linecap="butt" />
<circle cx="245.3" cy="605.4" r="3.2" fill="#404040"/>
<line x1="254.2" y1="607.5" x2="254.2" y2="630.6" stroke="#404040" stroke-width="1.45" stroke-linecap="butt" />
<line x1="251" y1="607.5" x2="257.4" y2="607.5" stroke="#404040" stroke-width="1.45" stroke-linecap="butt" />
<line x1="251" y1="630.6" x2="257.4" y2="630.6" stroke="#404040" stroke-width="1.45" stroke-linecap="butt" />
<circle cx="254.2" cy="618.9" r="3.2" fill="#404040"/>
<line x1="266.2" y1="540.7" x2="266.2" y2="587.9" stroke="#404040" stroke-width="1.45" stroke-linecap="butt" />
<line x1="263" y1="540.7" x2="269.4" y2="540.7" stroke="#404040" stroke-width="1.45" stroke-linecap="butt" />
<line x1="263" y1="587.9" x2="269.4" y2="587.9" stroke="#404040" stroke-width="1.45" stroke-linecap="butt" />
<circle cx="266.2" cy="564.5" r="3.2" fill="#404040"/>
<line x1="48" y1="670.6" x2="48" y2="677" stroke="#3854a2" stroke-width="1.45" stroke-linecap="butt" />
<line x1="44.8" y1="670.6" x2="51.2" y2="670.6" stroke="#3854a2" stroke-width="1.45" stroke-linecap="butt" />
<line x1="44.8" y1="677" x2="51.2" y2="677" stroke="#3854a2" stroke-width="1.45" stroke-linecap="butt" />
<circle cx="48" cy="673.8" r="3.2" fill="#3854a2"/>
<line x1="104.2" y1="663.8" x2="104.2" y2="670" stroke="#3854a2" stroke-width="1.45" stroke-linecap="butt" />
<line x1="101" y1="663.8" x2="107.4" y2="663.8" stroke="#3854a2" stroke-width="1.45" stroke-linecap="butt" />
<line x1="101" y1="670" x2="107.4" y2="670" stroke="#3854a2" stroke-width="1.45" stroke-linecap="butt" />
<circle cx="104.2" cy="666.9" r="3.2" fill="#3854a2"/>
<line x1="109.8" y1="656" x2="109.8" y2="665.5" stroke="#3854a2" stroke-width="1.45" stroke-linecap="butt" />
<line x1="106.6" y1="656" x2="113" y2="656" stroke="#3854a2" stroke-width="1.45" stroke-linecap="butt" />
<line x1="106.6" y1="665.5" x2="113" y2="665.5" stroke="#3854a2" stroke-width="1.45" stroke-linecap="butt" />
<circle cx="109.8" cy="660.4" r="3.2" fill="#3854a2"/>
<line x1="151.4" y1="640.4" x2="151.4" y2="660.8" stroke="#3854a2" stroke-width="1.45" stroke-linecap="butt" />
<line x1="148.2" y1="640.4" x2="154.6" y2="640.4" stroke="#3854a2" stroke-width="1.45" stroke-linecap="butt" />
<line x1="148.2" y1="660.8" x2="154.6" y2="660.8" stroke="#3854a2" stroke-width="1.45" stroke-linecap="butt" />
<circle cx="151.4" cy="650.6" r="3.2" fill="#3854a2"/>
<line x1="174" y1="594.7" x2="174" y2="636.9" stroke="#3854a2" stroke-width="1.45" stroke-linecap="butt" />
<line x1="170.8" y1="594.7" x2="177.2" y2="594.7" stroke="#3854a2" stroke-width="1.45" stroke-linecap="butt" />
<line x1="170.8" y1="636.9" x2="177.2" y2="636.9" stroke="#3854a2" stroke-width="1.45" stroke-linecap="butt" />
<circle cx="174" cy="616.6" r="3.2" fill="#3854a2"/>
<line x1="174" y1="621.8" x2="174" y2="627.6" stroke="#3854a2" stroke-width="1.45" stroke-linecap="butt" />
<line x1="170.8" y1="621.8" x2="177.2" y2="621.8" stroke="#3854a2" stroke-width="1.45" stroke-linecap="butt" />
<line x1="170.8" y1="627.6" x2="177.2" y2="627.6" stroke="#3854a2" stroke-width="1.45" stroke-linecap="butt" />
<circle cx="174" cy="624.7" r="3.2" fill="#3854a2"/>
<line x1="215.8" y1="520.1" x2="215.8" y2="615.2" stroke="#3854a2" stroke-width="1.45" stroke-linecap="butt" />
<line x1="212.6" y1="520.1" x2="219" y2="520.1" stroke="#3854a2" stroke-width="1.45" stroke-linecap="butt" />
<line x1="212.6" y1="615.2" x2="219" y2="615.2" stroke="#3854a2" stroke-width="1.45" stroke-linecap="butt" />
<circle cx="215.8" cy="568.2" r="3.2" fill="#3854a2"/>
<line x1="245.3" y1="607.5" x2="245.3" y2="628.9" stroke="#3854a2" stroke-width="1.45" stroke-linecap="butt" />
<line x1="242.1" y1="607.5" x2="248.5" y2="607.5" stroke="#3854a2" stroke-width="1.45" stroke-linecap="butt" />
<line x1="242.1" y1="628.9" x2="248.5" y2="628.9" stroke="#3854a2" stroke-width="1.45" stroke-linecap="butt" />
<circle cx="245.3" cy="618.4" r="3.2" fill="#3854a2"/>
<line x1="401.8" y1="679.6" x2="676.5" y2="576.3" stroke="#000" stroke-width="1.75" stroke-dasharray="30.5 8 1.6 8.2" stroke-dashoffset="0"/>
<line x1="401.8" y1="681" x2="677.2" y2="624.5" stroke="#3854a2" stroke-width="1.75" stroke-dasharray="30.5 8 1.6 8.2" stroke-dashoffset="0"/>
<circle cx="401.8" cy="679.5" r="3.2" fill="#000"/>
<circle cx="414.9" cy="673" r="3.2" fill="#000"/>
<circle cx="420.7" cy="673" r="3.2" fill="#000"/>
<line x1="427.7" y1="669.8" x2="427.7" y2="673.8" stroke="#000" stroke-width="1.45" stroke-linecap="butt" />
<line x1="424.5" y1="669.8" x2="430.9" y2="669.8" stroke="#000" stroke-width="1.45" stroke-linecap="butt" />
<line x1="424.5" y1="673.8" x2="430.9" y2="673.8" stroke="#000" stroke-width="1.45" stroke-linecap="butt" />
<circle cx="427.7" cy="671.8" r="3.2" fill="#000"/>
<line x1="479.5" y1="651.2" x2="479.5" y2="658.2" stroke="#000" stroke-width="1.45" stroke-linecap="butt" />
<line x1="476.3" y1="651.2" x2="482.7" y2="651.2" stroke="#000" stroke-width="1.45" stroke-linecap="butt" />
<line x1="476.3" y1="658.2" x2="482.7" y2="658.2" stroke="#000" stroke-width="1.45" stroke-linecap="butt" />
<circle cx="479.5" cy="655" r="3.2" fill="#000"/>
<line x1="503.2" y1="632.2" x2="503.2" y2="646.8" stroke="#000" stroke-width="1.45" stroke-linecap="butt" />
<line x1="500" y1="632.2" x2="506.4" y2="632.2" stroke="#000" stroke-width="1.45" stroke-linecap="butt" />
<line x1="500" y1="646.8" x2="506.4" y2="646.8" stroke="#000" stroke-width="1.45" stroke-linecap="butt" />
<circle cx="503.2" cy="639.8" r="3.2" fill="#000"/>
<line x1="521.2" y1="639.2" x2="521.2" y2="661.6" stroke="#000" stroke-width="1.45" stroke-linecap="butt" />
<line x1="518" y1="639.2" x2="524.4" y2="639.2" stroke="#000" stroke-width="1.45" stroke-linecap="butt" />
<line x1="518" y1="661.6" x2="524.4" y2="661.6" stroke="#000" stroke-width="1.45" stroke-linecap="butt" />
<circle cx="521.2" cy="650.6" r="3.2" fill="#000"/>
<line x1="526.9" y1="623.6" x2="526.9" y2="637.3" stroke="#000" stroke-width="1.45" stroke-linecap="butt" />
<line x1="523.7" y1="623.6" x2="530.1" y2="623.6" stroke="#000" stroke-width="1.45" stroke-linecap="butt" />
<line x1="523.7" y1="637.3" x2="530.1" y2="637.3" stroke="#000" stroke-width="1.45" stroke-linecap="butt" />
<circle cx="526.9" cy="630.3" r="3.2" fill="#000"/>
<line x1="545.9" y1="607.5" x2="545.9" y2="632.2" stroke="#000" stroke-width="1.45" stroke-linecap="butt" />
<line x1="542.7" y1="607.5" x2="549.1" y2="607.5" stroke="#000" stroke-width="1.45" stroke-linecap="butt" />
<line x1="542.7" y1="632.2" x2="549.1" y2="632.2" stroke="#000" stroke-width="1.45" stroke-linecap="butt" />
<circle cx="545.9" cy="619.5" r="3.2" fill="#000"/>
<line x1="547.8" y1="617" x2="547.8" y2="633.1" stroke="#000" stroke-width="1.45" stroke-linecap="butt" />
<line x1="544.6" y1="617" x2="551" y2="617" stroke="#000" stroke-width="1.45" stroke-linecap="butt" />
<line x1="544.6" y1="633.1" x2="551" y2="633.1" stroke="#000" stroke-width="1.45" stroke-linecap="butt" />
<circle cx="547.8" cy="625.5" r="3.2" fill="#000"/>
<line x1="555.4" y1="631.2" x2="555.4" y2="656.9" stroke="#000" stroke-width="1.45" stroke-linecap="butt" />
<line x1="552.2" y1="631.2" x2="558.6" y2="631.2" stroke="#000" stroke-width="1.45" stroke-linecap="butt" />
<line x1="552.2" y1="656.9" x2="558.6" y2="656.9" stroke="#000" stroke-width="1.45" stroke-linecap="butt" />
<circle cx="555.4" cy="644.1" r="3.2" fill="#000"/>
<line x1="562" y1="602.8" x2="562" y2="620.8" stroke="#000" stroke-width="1.45" stroke-linecap="butt" />
<line x1="558.8" y1="602.8" x2="565.2" y2="602.8" stroke="#000" stroke-width="1.45" stroke-linecap="butt" />
<line x1="558.8" y1="620.8" x2="565.2" y2="620.8" stroke="#000" stroke-width="1.45" stroke-linecap="butt" />
<circle cx="562" cy="612.3" r="3.2" fill="#000"/>
<line x1="573.4" y1="615.7" x2="573.4" y2="656.9" stroke="#000" stroke-width="1.45" stroke-linecap="butt" />
<line x1="570.2" y1="615.7" x2="576.6" y2="615.7" stroke="#000" stroke-width="1.45" stroke-linecap="butt" />
<line x1="570.2" y1="656.9" x2="576.6" y2="656.9" stroke="#000" stroke-width="1.45" stroke-linecap="butt" />
<circle cx="573.4" cy="636.9" r="3.2" fill="#000"/>
<line x1="578.2" y1="596.1" x2="578.2" y2="619.5" stroke="#000" stroke-width="1.45" stroke-linecap="butt" />
<line x1="575" y1="596.1" x2="581.4" y2="596.1" stroke="#000" stroke-width="1.45" stroke-linecap="butt" />
<line x1="575" y1="619.5" x2="581.4" y2="619.5" stroke="#000" stroke-width="1.45" stroke-linecap="butt" />
<circle cx="578.2" cy="607.5" r="3.2" fill="#000"/>
<line x1="586.1" y1="597.5" x2="586.1" y2="630.9" stroke="#000" stroke-width="1.45" stroke-linecap="butt" />
<line x1="582.9" y1="597.5" x2="589.3" y2="597.5" stroke="#000" stroke-width="1.45" stroke-linecap="butt" />
<line x1="582.9" y1="630.9" x2="589.3" y2="630.9" stroke="#000" stroke-width="1.45" stroke-linecap="butt" />
<circle cx="586.1" cy="614.5" r="3.2" fill="#000"/>
<line x1="600" y1="571.8" x2="600" y2="600" stroke="#000" stroke-width="1.45" stroke-linecap="butt" />
<line x1="596.8" y1="571.8" x2="603.2" y2="571.8" stroke="#000" stroke-width="1.45" stroke-linecap="butt" />
<line x1="596.8" y1="600" x2="603.2" y2="600" stroke="#000" stroke-width="1.45" stroke-linecap="butt" />
<circle cx="600" cy="586.1" r="3.2" fill="#000"/>
<line x1="645.9" y1="535" x2="645.9" y2="616.8" stroke="#000" stroke-width="1.45" stroke-linecap="butt" />
<line x1="642.7" y1="535" x2="649.1" y2="535" stroke="#000" stroke-width="1.45" stroke-linecap="butt" />
<line x1="642.7" y1="616.8" x2="649.1" y2="616.8" stroke="#000" stroke-width="1.45" stroke-linecap="butt" />
<circle cx="645.9" cy="575.8" r="3.2" fill="#000"/>
<line x1="649.4" y1="563" x2="649.4" y2="612.2" stroke="#000" stroke-width="1.45" stroke-linecap="butt" />
<line x1="646.2" y1="563" x2="652.6" y2="563" stroke="#000" stroke-width="1.45" stroke-linecap="butt" />
<line x1="646.2" y1="612.2" x2="652.6" y2="612.2" stroke="#000" stroke-width="1.45" stroke-linecap="butt" />
<circle cx="649.4" cy="587.5" r="3.2" fill="#000"/>
<circle cx="401.8" cy="680" r="3.2" fill="#3854a2"/>
<circle cx="414.9" cy="681.8" r="3.2" fill="#3854a2"/>
<circle cx="420.7" cy="676.6" r="3.2" fill="#3854a2"/>
<circle cx="427.7" cy="676.6" r="3.2" fill="#3854a2"/>
<line x1="479.5" y1="657.8" x2="479.5" y2="672" stroke="#3854a2" stroke-width="1.45" stroke-linecap="butt" />
<line x1="476.3" y1="657.8" x2="482.7" y2="657.8" stroke="#3854a2" stroke-width="1.45" stroke-linecap="butt" />
<line x1="476.3" y1="672" x2="482.7" y2="672" stroke="#3854a2" stroke-width="1.45" stroke-linecap="butt" />
<circle cx="479.5" cy="664.8" r="3.2" fill="#3854a2"/>
<line x1="503.2" y1="656.9" x2="503.2" y2="673" stroke="#3854a2" stroke-width="1.45" stroke-linecap="butt" />
<line x1="500" y1="656.9" x2="506.4" y2="656.9" stroke="#3854a2" stroke-width="1.45" stroke-linecap="butt" />
<line x1="500" y1="673" x2="506.4" y2="673" stroke="#3854a2" stroke-width="1.45" stroke-linecap="butt" />
<circle cx="503.2" cy="664.8" r="3.2" fill="#3854a2"/>
<line x1="526.9" y1="641.3" x2="526.9" y2="661.2" stroke="#3854a2" stroke-width="1.45" stroke-linecap="butt" />
<line x1="523.7" y1="641.3" x2="530.1" y2="641.3" stroke="#3854a2" stroke-width="1.45" stroke-linecap="butt" />
<line x1="523.7" y1="661.2" x2="530.1" y2="661.2" stroke="#3854a2" stroke-width="1.45" stroke-linecap="butt" />
<circle cx="526.9" cy="651.5" r="3.2" fill="#3854a2"/>
<line x1="545.9" y1="634.1" x2="545.9" y2="664.4" stroke="#3854a2" stroke-width="1.45" stroke-linecap="butt" />
<line x1="542.7" y1="634.1" x2="549.1" y2="634.1" stroke="#3854a2" stroke-width="1.45" stroke-linecap="butt" />
<line x1="542.7" y1="664.4" x2="549.1" y2="664.4" stroke="#3854a2" stroke-width="1.45" stroke-linecap="butt" />
<circle cx="545.9" cy="649.8" r="3.2" fill="#3854a2"/>
<line x1="555" y1="558.6" x2="555" y2="636.5" stroke="#3854a2" stroke-width="1.45" stroke-linecap="butt" />
<line x1="551.8" y1="558.6" x2="558.2" y2="558.6" stroke="#3854a2" stroke-width="1.45" stroke-linecap="butt" />
<line x1="551.8" y1="636.5" x2="558.2" y2="636.5" stroke="#3854a2" stroke-width="1.45" stroke-linecap="butt" />
<circle cx="555" cy="597.6" r="3.2" fill="#3854a2"/>
<line x1="562" y1="645.5" x2="562" y2="669.2" stroke="#3854a2" stroke-width="1.45" stroke-linecap="butt" />
<line x1="558.8" y1="645.5" x2="565.2" y2="645.5" stroke="#3854a2" stroke-width="1.45" stroke-linecap="butt" />
<line x1="558.8" y1="669.2" x2="565.2" y2="669.2" stroke="#3854a2" stroke-width="1.45" stroke-linecap="butt" />
<circle cx="562" cy="657.8" r="3.2" fill="#3854a2"/>
<line x1="578.2" y1="644.9" x2="578.2" y2="671.5" stroke="#3854a2" stroke-width="1.45" stroke-linecap="butt" />
<line x1="575" y1="644.9" x2="581.4" y2="644.9" stroke="#3854a2" stroke-width="1.45" stroke-linecap="butt" />
<line x1="575" y1="671.5" x2="581.4" y2="671.5" stroke="#3854a2" stroke-width="1.45" stroke-linecap="butt" />
<circle cx="578.2" cy="657.8" r="3.2" fill="#3854a2"/>
<line x1="586.1" y1="644.9" x2="586.1" y2="671.5" stroke="#3854a2" stroke-width="1.45" stroke-linecap="butt" />
<line x1="582.9" y1="644.9" x2="589.3" y2="644.9" stroke="#3854a2" stroke-width="1.45" stroke-linecap="butt" />
<line x1="582.9" y1="671.5" x2="589.3" y2="671.5" stroke="#3854a2" stroke-width="1.45" stroke-linecap="butt" />
<circle cx="586.1" cy="657.8" r="3.2" fill="#3854a2"/>
<line x1="600" y1="632.5" x2="600" y2="668.2" stroke="#3854a2" stroke-width="1.45" stroke-linecap="butt" />
<line x1="596.8" y1="632.5" x2="603.2" y2="632.5" stroke="#3854a2" stroke-width="1.45" stroke-linecap="butt" />
<line x1="596.8" y1="668.2" x2="603.2" y2="668.2" stroke="#3854a2" stroke-width="1.45" stroke-linecap="butt" />
<circle cx="600" cy="650.2" r="3.2" fill="#3854a2"/>
<line x1="53.5" y1="898.7" x2="327.5" y2="805.5" stroke="#000" stroke-width="1.75" stroke-dasharray="30.5 8 1.6 8.2" stroke-dashoffset="0"/>
<line x1="53.5" y1="907" x2="321" y2="820.2" stroke="#3854a2" stroke-width="1.75" stroke-dasharray="30.5 8 1.6 8.2" stroke-dashoffset="0"/>
<line x1="72" y1="902" x2="72" y2="908.2" stroke="#404040" stroke-width="1.45" stroke-linecap="butt" />
<line x1="68.8" y1="902" x2="75.2" y2="902" stroke="#404040" stroke-width="1.45" stroke-linecap="butt" />
<line x1="68.8" y1="908.2" x2="75.2" y2="908.2" stroke="#404040" stroke-width="1.45" stroke-linecap="butt" />
<circle cx="72" cy="905.1" r="3.2" fill="#404040"/>
<line x1="84.1" y1="895.8" x2="84.1" y2="905.1" stroke="#404040" stroke-width="1.45" stroke-linecap="butt" />
<line x1="80.9" y1="895.8" x2="87.3" y2="895.8" stroke="#404040" stroke-width="1.45" stroke-linecap="butt" />
<line x1="80.9" y1="905.1" x2="87.3" y2="905.1" stroke="#404040" stroke-width="1.45" stroke-linecap="butt" />
<circle cx="84.1" cy="900.4" r="3.2" fill="#404040"/>
<line x1="105.2" y1="875.5" x2="105.2" y2="880.7" stroke="#404040" stroke-width="1.45" stroke-linecap="butt" />
<line x1="102" y1="875.5" x2="108.4" y2="875.5" stroke="#404040" stroke-width="1.45" stroke-linecap="butt" />
<line x1="102" y1="880.7" x2="108.4" y2="880.7" stroke="#404040" stroke-width="1.45" stroke-linecap="butt" />
<circle cx="105.2" cy="878.1" r="3.2" fill="#404040"/>
<line x1="110.1" y1="875.5" x2="110.1" y2="880.7" stroke="#404040" stroke-width="1.45" stroke-linecap="butt" />
<line x1="106.9" y1="875.5" x2="113.3" y2="875.5" stroke="#404040" stroke-width="1.45" stroke-linecap="butt" />
<line x1="106.9" y1="880.7" x2="113.3" y2="880.7" stroke="#404040" stroke-width="1.45" stroke-linecap="butt" />
<circle cx="110.1" cy="878.1" r="3.2" fill="#404040"/>
<line x1="122.9" y1="872.8" x2="122.9" y2="878" stroke="#404040" stroke-width="1.45" stroke-linecap="butt" />
<line x1="119.7" y1="872.8" x2="126.1" y2="872.8" stroke="#404040" stroke-width="1.45" stroke-linecap="butt" />
<line x1="119.7" y1="878" x2="126.1" y2="878" stroke="#404040" stroke-width="1.45" stroke-linecap="butt" />
<circle cx="122.9" cy="875.4" r="3.2" fill="#404040"/>
<line x1="151.5" y1="866.5" x2="151.5" y2="885" stroke="#404040" stroke-width="1.45" stroke-linecap="butt" />
<line x1="148.3" y1="866.5" x2="154.7" y2="866.5" stroke="#404040" stroke-width="1.45" stroke-linecap="butt" />
<line x1="148.3" y1="885" x2="154.7" y2="885" stroke="#404040" stroke-width="1.45" stroke-linecap="butt" />
<circle cx="151.5" cy="875.4" r="3.2" fill="#404040"/>
<line x1="173.5" y1="841" x2="173.5" y2="847.3" stroke="#404040" stroke-width="1.45" stroke-linecap="butt" />
<line x1="170.3" y1="841" x2="176.7" y2="841" stroke="#404040" stroke-width="1.45" stroke-linecap="butt" />
<line x1="170.3" y1="847.3" x2="176.7" y2="847.3" stroke="#404040" stroke-width="1.45" stroke-linecap="butt" />
<circle cx="173.5" cy="844.1" r="3.2" fill="#404040"/>
<line x1="173.5" y1="853.5" x2="173.5" y2="858.5" stroke="#404040" stroke-width="1.45" stroke-linecap="butt" />
<line x1="170.3" y1="853.5" x2="176.7" y2="853.5" stroke="#404040" stroke-width="1.45" stroke-linecap="butt" />
<line x1="170.3" y1="858.5" x2="176.7" y2="858.5" stroke="#404040" stroke-width="1.45" stroke-linecap="butt" />
<circle cx="173.5" cy="856" r="3.2" fill="#404040"/>
<line x1="204.3" y1="830.9" x2="204.3" y2="852.8" stroke="#404040" stroke-width="1.45" stroke-linecap="butt" />
<line x1="201.1" y1="830.9" x2="207.5" y2="830.9" stroke="#404040" stroke-width="1.45" stroke-linecap="butt" />
<line x1="201.1" y1="852.8" x2="207.5" y2="852.8" stroke="#404040" stroke-width="1.45" stroke-linecap="butt" />
<circle cx="204.3" cy="841.8" r="3.2" fill="#404040"/>
<line x1="215.5" y1="821.8" x2="215.5" y2="837.9" stroke="#404040" stroke-width="1.45" stroke-linecap="butt" />
<line x1="212.3" y1="821.8" x2="218.7" y2="821.8" stroke="#404040" stroke-width="1.45" stroke-linecap="butt" />
<line x1="212.3" y1="837.9" x2="218.7" y2="837.9" stroke="#404040" stroke-width="1.45" stroke-linecap="butt" />
<circle cx="215.5" cy="829.7" r="3.2" fill="#404040"/>
<line x1="245.2" y1="819.2" x2="245.2" y2="828.2" stroke="#404040" stroke-width="1.45" stroke-linecap="butt" />
<line x1="242" y1="819.2" x2="248.4" y2="819.2" stroke="#404040" stroke-width="1.45" stroke-linecap="butt" />
<line x1="242" y1="828.2" x2="248.4" y2="828.2" stroke="#404040" stroke-width="1.45" stroke-linecap="butt" />
<circle cx="245.2" cy="823.9" r="3.2" fill="#404040"/>
<line x1="253.9" y1="796.6" x2="253.9" y2="808.2" stroke="#404040" stroke-width="1.45" stroke-linecap="butt" />
<line x1="250.7" y1="796.6" x2="257.1" y2="796.6" stroke="#404040" stroke-width="1.45" stroke-linecap="butt" />
<line x1="250.7" y1="808.2" x2="257.1" y2="808.2" stroke="#404040" stroke-width="1.45" stroke-linecap="butt" />
<circle cx="253.9" cy="802.4" r="3.2" fill="#404040"/>
<line x1="266.1" y1="839.6" x2="266.1" y2="856.4" stroke="#404040" stroke-width="1.45" stroke-linecap="butt" />
<line x1="262.9" y1="839.6" x2="269.3" y2="839.6" stroke="#404040" stroke-width="1.45" stroke-linecap="butt" />
<line x1="262.9" y1="856.4" x2="269.3" y2="856.4" stroke="#404040" stroke-width="1.45" stroke-linecap="butt" />
<circle cx="266.1" cy="848.4" r="3.2" fill="#404040"/>
<line x1="47.6" y1="913" x2="47.6" y2="921.2" stroke="#3854a2" stroke-width="1.45" stroke-linecap="butt" />
<line x1="44.4" y1="913" x2="50.8" y2="913" stroke="#3854a2" stroke-width="1.45" stroke-linecap="butt" />
<line x1="44.4" y1="921.2" x2="50.8" y2="921.2" stroke="#3854a2" stroke-width="1.45" stroke-linecap="butt" />
<circle cx="47.6" cy="917.2" r="3.2" fill="#3854a2"/>
<line x1="104.1" y1="896" x2="104.1" y2="902" stroke="#3854a2" stroke-width="1.45" stroke-linecap="butt" />
<line x1="100.9" y1="896" x2="107.3" y2="896" stroke="#3854a2" stroke-width="1.45" stroke-linecap="butt" />
<line x1="100.9" y1="902" x2="107.3" y2="902" stroke="#3854a2" stroke-width="1.45" stroke-linecap="butt" />
<circle cx="104.1" cy="899" r="3.2" fill="#3854a2"/>
<line x1="109.3" y1="852.9" x2="109.3" y2="860.1" stroke="#3854a2" stroke-width="1.45" stroke-linecap="butt" />
<line x1="106.1" y1="852.9" x2="112.5" y2="852.9" stroke="#3854a2" stroke-width="1.45" stroke-linecap="butt" />
<line x1="106.1" y1="860.1" x2="112.5" y2="860.1" stroke="#3854a2" stroke-width="1.45" stroke-linecap="butt" />
<circle cx="109.3" cy="856.6" r="3.2" fill="#3854a2"/>
<line x1="151.5" y1="889" x2="151.5" y2="901.9" stroke="#3854a2" stroke-width="1.45" stroke-linecap="butt" />
<line x1="148.3" y1="889" x2="154.7" y2="889" stroke="#3854a2" stroke-width="1.45" stroke-linecap="butt" />
<line x1="148.3" y1="901.9" x2="154.7" y2="901.9" stroke="#3854a2" stroke-width="1.45" stroke-linecap="butt" />
<circle cx="151.5" cy="895.1" r="3.2" fill="#3854a2"/>
<line x1="173.5" y1="856.1" x2="173.5" y2="864.1" stroke="#3854a2" stroke-width="1.45" stroke-linecap="butt" />
<line x1="170.3" y1="856.1" x2="176.7" y2="856.1" stroke="#3854a2" stroke-width="1.45" stroke-linecap="butt" />
<line x1="170.3" y1="864.1" x2="176.7" y2="864.1" stroke="#3854a2" stroke-width="1.45" stroke-linecap="butt" />
<circle cx="173.5" cy="860.1" r="3.2" fill="#3854a2"/>
<line x1="173.5" y1="864.9" x2="173.5" y2="881.8" stroke="#3854a2" stroke-width="1.45" stroke-linecap="butt" />
<line x1="170.3" y1="864.9" x2="176.7" y2="864.9" stroke="#3854a2" stroke-width="1.45" stroke-linecap="butt" />
<line x1="170.3" y1="881.8" x2="176.7" y2="881.8" stroke="#3854a2" stroke-width="1.45" stroke-linecap="butt" />
<circle cx="173.5" cy="872.2" r="3.2" fill="#3854a2"/>
<line x1="215.5" y1="841.4" x2="215.5" y2="873.9" stroke="#3854a2" stroke-width="1.45" stroke-linecap="butt" />
<line x1="212.3" y1="841.4" x2="218.7" y2="841.4" stroke="#3854a2" stroke-width="1.45" stroke-linecap="butt" />
<line x1="212.3" y1="873.9" x2="218.7" y2="873.9" stroke="#3854a2" stroke-width="1.45" stroke-linecap="butt" />
<circle cx="215.5" cy="857.9" r="3.2" fill="#3854a2"/>
<line x1="245.2" y1="838.5" x2="245.2" y2="848.7" stroke="#3854a2" stroke-width="1.45" stroke-linecap="butt" />
<line x1="242" y1="838.5" x2="248.4" y2="838.5" stroke="#3854a2" stroke-width="1.45" stroke-linecap="butt" />
<line x1="242" y1="848.7" x2="248.4" y2="848.7" stroke="#3854a2" stroke-width="1.45" stroke-linecap="butt" />
<circle cx="245.2" cy="843.7" r="3.2" fill="#3854a2"/>
<line x1="401.4" y1="910.6" x2="675.7" y2="805.5" stroke="#000" stroke-width="1.75" stroke-dasharray="30.5 8 1.6 8.2" stroke-dashoffset="0"/>
<line x1="401.4" y1="921.8" x2="668.2" y2="836.9" stroke="#3854a2" stroke-width="1.75" stroke-dasharray="30.5 8 1.6 8.2" stroke-dashoffset="0"/>
<circle cx="401.4" cy="918.9" r="3.2" fill="#000"/>
<circle cx="415.3" cy="916.4" r="3.2" fill="#000"/>
<circle cx="420.8" cy="907.7" r="3.2" fill="#000"/>
<circle cx="428.4" cy="902.8" r="3.2" fill="#000"/>
<line x1="479.3" y1="872" x2="479.3" y2="877.5" stroke="#000" stroke-width="1.45" stroke-linecap="butt" />
<line x1="476.1" y1="872" x2="482.5" y2="872" stroke="#000" stroke-width="1.45" stroke-linecap="butt" />
<line x1="476.1" y1="877.5" x2="482.5" y2="877.5" stroke="#000" stroke-width="1.45" stroke-linecap="butt" />
<circle cx="479.3" cy="874.6" r="3.2" fill="#000"/>
<line x1="502.9" y1="876" x2="502.9" y2="885.1" stroke="#000" stroke-width="1.45" stroke-linecap="butt" />
<line x1="499.7" y1="876" x2="506.1" y2="876" stroke="#000" stroke-width="1.45" stroke-linecap="butt" />
<line x1="499.7" y1="885.1" x2="506.1" y2="885.1" stroke="#000" stroke-width="1.45" stroke-linecap="butt" />
<circle cx="502.9" cy="880.7" r="3.2" fill="#000"/>
<line x1="521.6" y1="821.7" x2="521.6" y2="836.4" stroke="#000" stroke-width="1.45" stroke-linecap="butt" />
<line x1="518.4" y1="821.7" x2="524.8" y2="821.7" stroke="#000" stroke-width="1.45" stroke-linecap="butt" />
<line x1="518.4" y1="836.4" x2="524.8" y2="836.4" stroke="#000" stroke-width="1.45" stroke-linecap="butt" />
<circle cx="521.6" cy="829" r="3.2" fill="#000"/>
<line x1="527" y1="866.7" x2="527" y2="872.8" stroke="#000" stroke-width="1.45" stroke-linecap="butt" />
<line x1="523.8" y1="866.7" x2="530.2" y2="866.7" stroke="#000" stroke-width="1.45" stroke-linecap="butt" />
<line x1="523.8" y1="872.8" x2="530.2" y2="872.8" stroke="#000" stroke-width="1.45" stroke-linecap="butt" />
<circle cx="527" cy="870.2" r="3.2" fill="#000"/>
<line x1="545.8" y1="864.9" x2="545.8" y2="875.4" stroke="#000" stroke-width="1.45" stroke-linecap="butt" />
<line x1="542.6" y1="864.9" x2="549" y2="864.9" stroke="#000" stroke-width="1.45" stroke-linecap="butt" />
<line x1="542.6" y1="875.4" x2="549" y2="875.4" stroke="#000" stroke-width="1.45" stroke-linecap="butt" />
<circle cx="545.8" cy="871.1" r="3.2" fill="#000"/>
<line x1="548.4" y1="849.2" x2="548.4" y2="858.5" stroke="#000" stroke-width="1.45" stroke-linecap="butt" />
<line x1="545.2" y1="849.2" x2="551.6" y2="849.2" stroke="#000" stroke-width="1.45" stroke-linecap="butt" />
<line x1="545.2" y1="858.5" x2="551.6" y2="858.5" stroke="#000" stroke-width="1.45" stroke-linecap="butt" />
<circle cx="548.4" cy="853.6" r="3.2" fill="#000"/>
<line x1="555.4" y1="791.4" x2="555.4" y2="807.1" stroke="#000" stroke-width="1.45" stroke-linecap="butt" />
<line x1="552.2" y1="791.4" x2="558.6" y2="791.4" stroke="#000" stroke-width="1.45" stroke-linecap="butt" />
<line x1="552.2" y1="807.1" x2="558.6" y2="807.1" stroke="#000" stroke-width="1.45" stroke-linecap="butt" />
<circle cx="555.4" cy="799.3" r="3.2" fill="#000"/>
<line x1="561.6" y1="864.1" x2="561.6" y2="871.1" stroke="#000" stroke-width="1.45" stroke-linecap="butt" />
<line x1="558.4" y1="864.1" x2="564.8" y2="864.1" stroke="#000" stroke-width="1.45" stroke-linecap="butt" />
<line x1="558.4" y1="871.1" x2="564.8" y2="871.1" stroke="#000" stroke-width="1.45" stroke-linecap="butt" />
<circle cx="561.6" cy="867.6" r="3.2" fill="#000"/>
<line x1="573.6" y1="781" x2="573.6" y2="803.6" stroke="#000" stroke-width="1.45" stroke-linecap="butt" />
<line x1="570.4" y1="781" x2="576.8" y2="781" stroke="#000" stroke-width="1.45" stroke-linecap="butt" />
<line x1="570.4" y1="803.6" x2="576.8" y2="803.6" stroke="#000" stroke-width="1.45" stroke-linecap="butt" />
<circle cx="573.6" cy="792" r="3.2" fill="#000"/>
<line x1="578.2" y1="851.4" x2="578.2" y2="862" stroke="#000" stroke-width="1.45" stroke-linecap="butt" />
<line x1="575" y1="851.4" x2="581.4" y2="851.4" stroke="#000" stroke-width="1.45" stroke-linecap="butt" />
<line x1="575" y1="862" x2="581.4" y2="862" stroke="#000" stroke-width="1.45" stroke-linecap="butt" />
<circle cx="578.2" cy="857" r="3.2" fill="#000"/>
<line x1="586.3" y1="821.2" x2="586.3" y2="837.5" stroke="#000" stroke-width="1.45" stroke-linecap="butt" />
<line x1="583.1" y1="821.2" x2="589.5" y2="821.2" stroke="#000" stroke-width="1.45" stroke-linecap="butt" />
<line x1="583.1" y1="837.5" x2="589.5" y2="837.5" stroke="#000" stroke-width="1.45" stroke-linecap="butt" />
<circle cx="586.3" cy="829.1" r="3.2" fill="#000"/>
<line x1="600.2" y1="874.1" x2="600.2" y2="885" stroke="#000" stroke-width="1.45" stroke-linecap="butt" />
<line x1="597" y1="874.1" x2="603.4" y2="874.1" stroke="#000" stroke-width="1.45" stroke-linecap="butt" />
<line x1="597" y1="885" x2="603.4" y2="885" stroke="#000" stroke-width="1.45" stroke-linecap="butt" />
<circle cx="600.2" cy="880" r="3.2" fill="#000"/>
<line x1="645.5" y1="828" x2="645.5" y2="859" stroke="#000" stroke-width="1.45" stroke-linecap="butt" />
<line x1="642.3" y1="828" x2="648.7" y2="828" stroke="#000" stroke-width="1.45" stroke-linecap="butt" />
<line x1="642.3" y1="859" x2="648.7" y2="859" stroke="#000" stroke-width="1.45" stroke-linecap="butt" />
<circle cx="645.5" cy="843.1" r="3.2" fill="#000"/>
<line x1="649.2" y1="800.3" x2="649.2" y2="819.6" stroke="#000" stroke-width="1.45" stroke-linecap="butt" />
<line x1="646" y1="800.3" x2="652.4" y2="800.3" stroke="#000" stroke-width="1.45" stroke-linecap="butt" />
<line x1="646" y1="819.6" x2="652.4" y2="819.6" stroke="#000" stroke-width="1.45" stroke-linecap="butt" />
<circle cx="649.2" cy="810.3" r="3.2" fill="#000"/>
<line x1="402.1" y1="915" x2="402.1" y2="921.5" stroke="#3854a2" stroke-width="1.45" stroke-linecap="butt" />
<line x1="398.9" y1="915" x2="405.3" y2="915" stroke="#3854a2" stroke-width="1.45" stroke-linecap="butt" />
<line x1="398.9" y1="921.5" x2="405.3" y2="921.5" stroke="#3854a2" stroke-width="1.45" stroke-linecap="butt" />
<circle cx="402.1" cy="918.2" r="3.2" fill="#3854a2"/>
<circle cx="415.3" cy="926.6" r="3.2" fill="#3854a2"/>
<circle cx="420.8" cy="911.6" r="3.2" fill="#3854a2"/>
<circle cx="428.4" cy="912.3" r="3.2" fill="#3854a2"/>
<line x1="479.3" y1="888.6" x2="479.3" y2="900.8" stroke="#3854a2" stroke-width="1.45" stroke-linecap="butt" />
<line x1="476.1" y1="888.6" x2="482.5" y2="888.6" stroke="#3854a2" stroke-width="1.45" stroke-linecap="butt" />
<line x1="476.1" y1="900.8" x2="482.5" y2="900.8" stroke="#3854a2" stroke-width="1.45" stroke-linecap="butt" />
<circle cx="479.3" cy="894.7" r="3.2" fill="#3854a2"/>
<line x1="502.9" y1="896.5" x2="502.9" y2="910.5" stroke="#3854a2" stroke-width="1.45" stroke-linecap="butt" />
<line x1="499.7" y1="896.5" x2="506.1" y2="896.5" stroke="#3854a2" stroke-width="1.45" stroke-linecap="butt" />
<line x1="499.7" y1="910.5" x2="506.1" y2="910.5" stroke="#3854a2" stroke-width="1.45" stroke-linecap="butt" />
<circle cx="502.9" cy="903.5" r="3.2" fill="#3854a2"/>
<line x1="527" y1="871.9" x2="527" y2="884.7" stroke="#3854a2" stroke-width="1.45" stroke-linecap="butt" />
<line x1="523.8" y1="871.9" x2="530.2" y2="871.9" stroke="#3854a2" stroke-width="1.45" stroke-linecap="butt" />
<line x1="523.8" y1="884.7" x2="530.2" y2="884.7" stroke="#3854a2" stroke-width="1.45" stroke-linecap="butt" />
<circle cx="527" cy="878.1" r="3.2" fill="#3854a2"/>
<line x1="545.8" y1="870.2" x2="545.8" y2="890" stroke="#3854a2" stroke-width="1.45" stroke-linecap="butt" />
<line x1="542.6" y1="870.2" x2="549" y2="870.2" stroke="#3854a2" stroke-width="1.45" stroke-linecap="butt" />
<line x1="542.6" y1="890" x2="549" y2="890" stroke="#3854a2" stroke-width="1.45" stroke-linecap="butt" />
<circle cx="545.8" cy="879.8" r="3.2" fill="#3854a2"/>
<line x1="555.4" y1="822.9" x2="555.4" y2="855" stroke="#3854a2" stroke-width="1.45" stroke-linecap="butt" />
<line x1="552.2" y1="822.9" x2="558.6" y2="822.9" stroke="#3854a2" stroke-width="1.45" stroke-linecap="butt" />
<line x1="552.2" y1="855" x2="558.6" y2="855" stroke="#3854a2" stroke-width="1.45" stroke-linecap="butt" />
<circle cx="555.4" cy="838.7" r="3.2" fill="#3854a2"/>
<line x1="561.6" y1="864.1" x2="561.6" y2="883.3" stroke="#3854a2" stroke-width="1.45" stroke-linecap="butt" />
<line x1="558.4" y1="864.1" x2="564.8" y2="864.1" stroke="#3854a2" stroke-width="1.45" stroke-linecap="butt" />
<line x1="558.4" y1="883.3" x2="564.8" y2="883.3" stroke="#3854a2" stroke-width="1.45" stroke-linecap="butt" />
<circle cx="561.6" cy="873.7" r="3.2" fill="#3854a2"/>
<line x1="578.1" y1="866.5" x2="578.1" y2="887.9" stroke="#3854a2" stroke-width="1.45" stroke-linecap="butt" />
<line x1="574.9" y1="866.5" x2="581.3" y2="866.5" stroke="#3854a2" stroke-width="1.45" stroke-linecap="butt" />
<line x1="574.9" y1="887.9" x2="581.3" y2="887.9" stroke="#3854a2" stroke-width="1.45" stroke-linecap="butt" />
<circle cx="578.1" cy="877.4" r="3.2" fill="#3854a2"/>
<line x1="586.3" y1="866.5" x2="586.3" y2="887.9" stroke="#3854a2" stroke-width="1.45" stroke-linecap="butt" />
<line x1="583.1" y1="866.5" x2="589.5" y2="866.5" stroke="#3854a2" stroke-width="1.45" stroke-linecap="butt" />
<line x1="583.1" y1="887.9" x2="589.5" y2="887.9" stroke="#3854a2" stroke-width="1.45" stroke-linecap="butt" />
<circle cx="586.3" cy="877.4" r="3.2" fill="#3854a2"/>
<line x1="600.2" y1="837.2" x2="600.2" y2="860.7" stroke="#3854a2" stroke-width="1.45" stroke-linecap="butt" />
<line x1="597" y1="837.2" x2="603.4" y2="837.2" stroke="#3854a2" stroke-width="1.45" stroke-linecap="butt" />
<line x1="597" y1="860.7" x2="603.4" y2="860.7" stroke="#3854a2" stroke-width="1.45" stroke-linecap="butt" />
<circle cx="600.2" cy="848.9" r="3.2" fill="#3854a2"/>
</svg>
</body></html>
